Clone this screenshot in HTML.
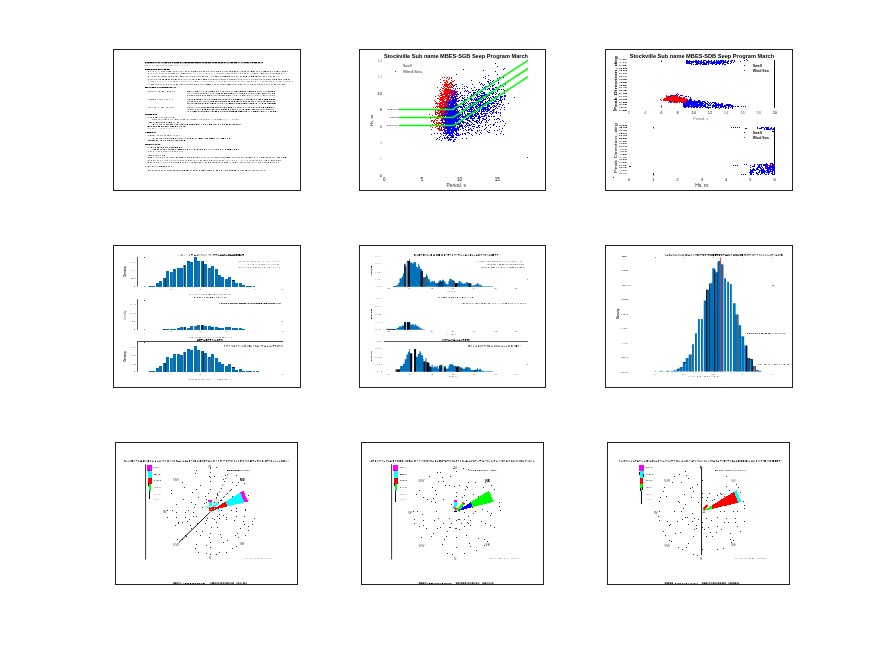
<!DOCTYPE html>
<html><head><meta charset="utf-8"><title>figure</title>
<style>html,body{margin:0;padding:0;background:#fff;}svg{display:block;will-change:transform;}text{font-family:"Liberation Sans",sans-serif;}</style>
</head><body>
<svg width="875" height="656" viewBox="0 0 875 656">
<rect width="875" height="656" fill="#fff"/>
<rect x="113.5" y="49.5" width="187" height="141" fill="none" stroke="#222" stroke-width="1" shape-rendering="crispEdges"/>
<rect x="359.5" y="49.5" width="186" height="141" fill="none" stroke="#222" stroke-width="1" shape-rendering="crispEdges"/>
<rect x="605.5" y="49.5" width="187" height="141" fill="none" stroke="#222" stroke-width="1" shape-rendering="crispEdges"/>
<rect x="113.5" y="245.5" width="187" height="142" fill="none" stroke="#222" stroke-width="1" shape-rendering="crispEdges"/>
<rect x="359.5" y="245.5" width="186" height="142" fill="none" stroke="#222" stroke-width="1" shape-rendering="crispEdges"/>
<rect x="605.5" y="245.5" width="187" height="142" fill="none" stroke="#222" stroke-width="1" shape-rendering="crispEdges"/>
<rect x="115.5" y="442.5" width="182" height="142" fill="none" stroke="#222" stroke-width="1" shape-rendering="crispEdges"/>
<rect x="361.5" y="442.5" width="182" height="142" fill="none" stroke="#222" stroke-width="1" shape-rendering="crispEdges"/>
<rect x="607.5" y="442.5" width="182" height="142" fill="none" stroke="#222" stroke-width="1" shape-rendering="crispEdges"/>
<path d="M145.0 62.7h1.5M147.2 62.7h1.8M149.4 62.7h2.7M152.4 62.7h1.3M164.6 62.7h2.4M176.2 62.7h3.1M179.9 62.7h1.6M184.3 62.7h2.8M187.6 62.7h3.1M191.1 62.7h2.6M194.4 62.7h2.4M197.0 62.7h1.8M199.2 62.7h1.6M204.6 62.7h2.4M207.5 62.7h2.1M209.8 62.7h1.3M214.8 62.7h2.4M217.8 62.7h2.4M220.6 62.7h2.4M230.3 62.7h3.1M234.1 62.7h3.1M246.3 62.7h2.4M251.9 62.7h1.6M254.2 62.7h3.0M258.0 62.7h1.8" stroke="#000" stroke-opacity="1.0" stroke-width="1.3" fill="none"/>
<path d="M154.1 62.7h3.0M161.2 62.7h3.3M226.3 62.7h3.4M237.7 62.7h2.2M240.6 62.7h2.5M249.3 62.7h2.3M260.4 62.7h1.4" stroke="#000" stroke-opacity="0.6" stroke-width="1.3" fill="none"/>
<path d="M157.5 62.7h2.9M167.5 62.7h1.7M169.4 62.7h1.7M171.6 62.7h1.7M173.7 62.7h2.3M182.2 62.7h1.5M201.4 62.7h2.8M211.9 62.7h2.6M223.5 62.7h2.3M243.6 62.7h2.3M262.0 62.7h1.0" stroke="#000" stroke-opacity="0.8" stroke-width="1.3" fill="none"/>
<path d="M145.0 65.5h1.8M147.3 65.5h0.6M156.3 65.5h1.9M162.2 65.5h1.0M170.6 65.5h1.8M176.9 65.5h1.0M187.1 65.5h0.9" stroke="#000" stroke-opacity="0.4" stroke-width="1.0" fill="none"/>
<path d="M149.3 65.5h1.4M151.9 65.5h1.3M153.9 65.5h1.1M159.3 65.5h1.1M160.9 65.5h0.5M164.3 65.5h1.3M166.1 65.5h1.0M168.1 65.5h1.9M173.7 65.5h1.8M179.6 65.5h0.7M181.6 65.5h1.1M183.8 65.5h1.8" stroke="#000" stroke-opacity="0.2" stroke-width="1.0" fill="none"/>
<path d="M145.0 69.5h1.5M146.9 69.5h2.2M149.3 69.5h1.0M150.7 69.5h1.5M155.8 69.5h1.3M157.7 69.5h2.0M160.3 69.5h1.1M164.1 69.5h1.9M166.7 69.5h2.4" stroke="#000" stroke-opacity="1.0" stroke-width="1.1" fill="none"/>
<path d="M152.6 69.5h2.7M169.5 69.5h0.5" stroke="#000" stroke-opacity="0.8" stroke-width="1.1" fill="none"/>
<path d="M161.9 69.5h1.6" stroke="#000" stroke-opacity="0.6" stroke-width="1.1" fill="none"/>
<path d="M147.8 71.5h1.3M152.5 71.5h1.4M155.0 71.5h1.0M161.0 71.5h1.3M165.9 71.5h1.4M172.9 71.5h1.8M175.6 71.5h1.8M178.5 71.5h1.1M180.7 71.5h1.7M188.0 71.5h1.7M192.4 71.5h1.6M197.2 71.5h1.1M199.0 71.5h1.4M200.9 71.5h1.1M206.0 71.5h1.0M207.4 71.5h1.5M209.7 71.5h0.6M222.2 71.5h1.2M224.4 71.5h1.9M227.6 71.5h0.6M239.7 71.5h0.7M247.4 71.5h1.8M256.1 71.5h1.9M261.6 71.5h0.8M262.9 71.5h0.8M271.9 71.5h0.9M274.0 71.5h1.4M279.5 71.5h0.6M280.6 71.5h0.6M287.1 71.5h0.9" stroke="#000" stroke-opacity="0.4" stroke-width="1.0" fill="none"/>
<path d="M150.3 71.5h0.8M163.1 71.5h1.4M185.2 71.5h1.6M190.8 71.5h1.0M203.3 71.5h1.6M213.8 71.5h0.8M216.2 71.5h1.2M217.9 71.5h1.2M220.0 71.5h1.1M226.7 71.5h0.5M229.3 71.5h1.9M232.1 71.5h1.1M237.1 71.5h1.1M241.7 71.5h1.5M244.3 71.5h1.7M252.7 71.5h1.8M259.3 71.5h0.7M267.1 71.5h1.5M269.7 71.5h1.1M282.2 71.5h1.6M284.5 71.5h1.5" stroke="#000" stroke-opacity="0.6" stroke-width="1.0" fill="none"/>
<path d="M157.6 71.5h1.9M171.8 71.5h0.6M183.1 71.5h1.1" stroke="#000" stroke-opacity="0.2" stroke-width="1.0" fill="none"/>
<path d="M168.7 71.5h1.9M194.6 71.5h1.6M211.5 71.5h1.0M234.2 71.5h1.5M250.8 71.5h1.5M264.2 71.5h1.9M276.6 71.5h1.7" stroke="#000" stroke-opacity="0.8" stroke-width="1.0" fill="none"/>
<path d="M147.8 73.5h1.1M150.5 73.5h1.2M152.9 73.5h0.8M157.2 73.5h0.6M161.4 73.5h1.4M163.4 73.5h0.5M165.6 73.5h1.1M168.2 73.5h1.2M170.5 73.5h1.4M176.1 73.5h1.5M186.6 73.5h1.9M189.0 73.5h1.4M191.1 73.5h0.6M197.7 73.5h0.7M199.5 73.5h0.8M205.6 73.5h1.6M208.8 73.5h0.8M216.4 73.5h1.0M217.8 73.5h0.6M219.2 73.5h1.3M221.5 73.5h1.8M226.8 73.5h1.8M229.3 73.5h0.8M234.0 73.5h1.3M240.1 73.5h1.3M256.5 73.5h1.5M262.6 73.5h1.4M266.7 73.5h1.3M269.6 73.5h1.5M272.5 73.5h1.8M281.1 73.5h1.4" stroke="#000" stroke-opacity="0.4" stroke-width="1.0" fill="none"/>
<path d="M154.8 73.5h1.6M164.4 73.5h0.8M178.3 73.5h0.9M193.4 73.5h1.6M195.7 73.5h0.6M200.8 73.5h1.4M203.1 73.5h0.8M211.1 73.5h1.4M214.2 73.5h0.8M224.5 73.5h1.7M237.2 73.5h1.5M242.1 73.5h1.5M248.3 73.5h0.5M249.8 73.5h0.6M251.3 73.5h1.3M258.5 73.5h0.5M283.6 73.5h1.4" stroke="#000" stroke-opacity="0.2" stroke-width="1.0" fill="none"/>
<path d="M159.2 73.5h0.6M172.7 73.5h1.9M180.6 73.5h1.1M182.6 73.5h1.8M184.8 73.5h0.8M231.7 73.5h0.8M235.9 73.5h0.6M244.3 73.5h1.3M246.8 73.5h0.9M253.5 73.5h1.7M260.6 73.5h1.5M265.3 73.5h0.9M275.6 73.5h1.8M278.3 73.5h1.6" stroke="#000" stroke-opacity="0.6" stroke-width="1.0" fill="none"/>
<path d="M147.8 76.5h1.2M151.8 76.5h0.9M154.0 76.5h1.3M161.1 76.5h0.6M162.6 76.5h1.1M169.2 76.5h0.9M175.5 76.5h1.3M177.7 76.5h0.5M179.9 76.5h1.9M182.6 76.5h1.0M186.4 76.5h1.2M188.7 76.5h0.5M192.4 76.5h1.0M202.1 76.5h1.8M207.2 76.5h0.8M212.9 76.5h0.6M215.1 76.5h1.9M217.4 76.5h1.0M222.4 76.5h1.2M228.4 76.5h1.8M233.8 76.5h0.9M240.1 76.5h1.3M242.9 76.5h1.8M250.7 76.5h1.5M263.1 76.5h1.5M265.8 76.5h0.7M269.8 76.5h1.0M273.2 76.5h1.6" stroke="#000" stroke-opacity="0.6" stroke-width="1.0" fill="none"/>
<path d="M150.2 76.5h0.7M276.4 76.5h1.0" stroke="#000" stroke-opacity="0.2" stroke-width="1.0" fill="none"/>
<path d="M156.6 76.5h0.7M157.9 76.5h1.8M168.0 76.5h0.7M170.8 76.5h1.5M172.9 76.5h1.6M184.9 76.5h0.7M190.2 76.5h1.2M194.0 76.5h1.3M196.5 76.5h0.6M197.9 76.5h1.4M200.3 76.5h0.8M209.6 76.5h0.5M211.5 76.5h1.0M219.9 76.5h1.4M231.5 76.5h1.5M237.5 76.5h0.8M248.5 76.5h1.3M258.4 76.5h1.6M260.5 76.5h1.0M267.8 76.5h1.1M271.3 76.5h0.6M278.5 76.5h1.1" stroke="#000" stroke-opacity="0.4" stroke-width="1.0" fill="none"/>
<path d="M164.1 76.5h0.6M165.7 76.5h0.6M205.6 76.5h0.7M224.3 76.5h1.8M226.7 76.5h0.9M235.9 76.5h0.7M245.7 76.5h1.3M252.6 76.5h1.5M255.5 76.5h1.8" stroke="#000" stroke-opacity="0.8" stroke-width="1.0" fill="none"/>
<path d="M147.8 79.5h0.9M154.4 79.5h0.7M155.8 79.5h0.9M168.0 79.5h1.7M171.1 79.5h1.3M178.2 79.5h1.5M181.0 79.5h0.7M184.5 79.5h0.9M192.4 79.5h1.8M200.8 79.5h0.7M205.5 79.5h1.7M213.1 79.5h1.3M217.6 79.5h0.7M220.9 79.5h1.3M227.4 79.5h0.6M233.7 79.5h1.2M235.7 79.5h0.5M251.7 79.5h0.8M260.8 79.5h1.0M267.8 79.5h1.8M272.1 79.5h0.7M275.4 79.5h1.5M280.7 79.5h1.3" stroke="#000" stroke-opacity="0.6" stroke-width="1.0" fill="none"/>
<path d="M150.0 79.5h1.7M152.3 79.5h0.7M158.2 79.5h1.4M173.2 79.5h1.1M182.7 79.5h0.7M186.6 79.5h1.1M188.7 79.5h0.8M190.2 79.5h1.0M195.6 79.5h1.8M210.4 79.5h1.5M215.3 79.5h1.5M218.9 79.5h0.8M222.7 79.5h1.1M225.3 79.5h0.9M228.9 79.5h1.7M237.8 79.5h1.5M240.6 79.5h1.7M243.5 79.5h1.0M245.2 79.5h0.8M246.5 79.5h1.1M248.9 79.5h1.3M253.5 79.5h1.0M256.7 79.5h1.7M259.2 79.5h1.0M263.3 79.5h1.9M270.1 79.5h0.5M283.5 79.5h1.8M289.9 79.5h0.6" stroke="#000" stroke-opacity="0.4" stroke-width="1.0" fill="none"/>
<path d="M160.3 79.5h0.7M162.4 79.5h1.6M165.4 79.5h1.8M174.9 79.5h1.6M198.0 79.5h1.6M203.1 79.5h1.7M208.5 79.5h0.7M224.3 79.5h0.5M231.4 79.5h1.2M255.5 79.5h0.7M266.3 79.5h0.7M273.7 79.5h1.0M278.5 79.5h1.2M285.8 79.5h1.2M288.2 79.5h0.9" stroke="#000" stroke-opacity="0.8" stroke-width="1.0" fill="none"/>
<path d="M147.8 81.5h0.6M152.2 81.5h1.5M168.5 81.5h0.8M173.3 81.5h1.7M175.5 81.5h1.3M177.5 81.5h0.6M185.2 81.5h0.5M194.7 81.5h1.7M196.9 81.5h0.7M198.7 81.5h0.5M205.7 81.5h0.8M208.8 81.5h0.9M210.9 81.5h0.9M221.7 81.5h1.0M223.9 81.5h1.8M232.6 81.5h0.9M234.7 81.5h0.8M238.1 81.5h0.8M241.4 81.5h1.0M246.9 81.5h0.7M248.3 81.5h1.4M250.6 81.5h1.8M254.8 81.5h1.2M257.5 81.5h0.6M262.5 81.5h1.1M265.1 81.5h1.7M269.4 81.5h1.0M270.9 81.5h1.1M276.0 81.5h0.8M278.0 81.5h0.5M279.2 81.5h1.9M285.4 81.5h1.0M286.8 81.5h0.7M288.9 81.5h1.5" stroke="#000" stroke-opacity="0.4" stroke-width="1.0" fill="none"/>
<path d="M149.7 81.5h1.8M154.6 81.5h1.5M157.4 81.5h0.7M159.7 81.5h1.0M162.1 81.5h1.4M164.6 81.5h1.4M167.3 81.5h0.7M170.2 81.5h1.9M179.2 81.5h0.8M180.6 81.5h1.6M182.8 81.5h1.6M186.3 81.5h1.2M188.6 81.5h1.5M191.0 81.5h1.2M193.4 81.5h0.6M200.9 81.5h1.1M203.1 81.5h1.8M207.5 81.5h0.9M212.7 81.5h0.9M214.1 81.5h0.8M216.4 81.5h0.9M218.5 81.5h1.8M226.7 81.5h1.7M229.3 81.5h1.8M236.6 81.5h1.0M239.4 81.5h0.9M243.2 81.5h1.0M244.7 81.5h0.8M253.5 81.5h0.6M259.7 81.5h1.3M267.3 81.5h1.6M273.0 81.5h1.2M282.7 81.5h1.7M291.5 81.5h1.7" stroke="#000" stroke-opacity="0.2" stroke-width="1.0" fill="none"/>
<path d="M147.8 84.5h1.9M219.2 84.5h0.6" stroke="#000" stroke-opacity="0.2" stroke-width="1.0" fill="none"/>
<path d="M151.0 84.5h0.7M198.3 84.5h0.6M207.2 84.5h1.8M227.8 84.5h1.8" stroke="#000" stroke-opacity="0.8" stroke-width="1.0" fill="none"/>
<path d="M152.2 84.5h1.7M160.4 84.5h0.8M170.4 84.5h1.0M175.9 84.5h1.9M180.6 84.5h1.8M183.7 84.5h0.9M187.3 84.5h1.2M189.6 84.5h1.1M193.8 84.5h0.9M202.5 84.5h1.0M209.5 84.5h1.2M214.4 84.5h1.3M217.1 84.5h1.3M222.9 84.5h1.4M225.5 84.5h0.9M240.0 84.5h1.3M251.7 84.5h1.5M257.5 84.5h0.5M258.6 84.5h1.4M261.3 84.5h1.3M274.0 84.5h1.9M281.9 84.5h1.5" stroke="#000" stroke-opacity="0.6" stroke-width="1.0" fill="none"/>
<path d="M155.4 84.5h1.9M158.1 84.5h1.5M162.7 84.5h1.6M165.9 84.5h1.2M168.2 84.5h1.1M173.0 84.5h1.4M179.4 84.5h0.5M186.2 84.5h0.6M191.3 84.5h1.8M195.5 84.5h1.8M200.3 84.5h1.2M205.2 84.5h1.5M212.4 84.5h0.6M220.7 84.5h1.4M230.0 84.5h1.4M232.4 84.5h1.2M234.3 84.5h1.9M237.8 84.5h1.5M242.2 84.5h0.6M244.3 84.5h1.5M247.3 84.5h1.3M250.2 84.5h0.7M254.3 84.5h1.8M264.0 84.5h1.0M266.1 84.5h1.2M268.4 84.5h1.2M270.9 84.5h1.6M276.8 84.5h0.9M278.5 84.5h1.9M283.9 84.5h1.4" stroke="#000" stroke-opacity="0.4" stroke-width="1.0" fill="none"/>
<path d="M145.0 87.5h2.8M151.7 87.5h2.8M164.4 87.5h2.3M167.1 87.5h1.2M170.2 87.5h1.6" stroke="#000" stroke-opacity="1.0" stroke-width="1.1" fill="none"/>
<path d="M148.4 87.5h2.8M158.9 87.5h1.9M168.5 87.5h1.2M173.9 87.5h2.1" stroke="#000" stroke-opacity="0.6" stroke-width="1.1" fill="none"/>
<path d="M155.0 87.5h1.3M157.1 87.5h1.2M161.2 87.5h2.8" stroke="#000" stroke-opacity="0.8" stroke-width="1.1" fill="none"/>
<path d="M172.1 87.5h1.2" stroke="#000" stroke-opacity="0.4" stroke-width="1.1" fill="none"/>
<path d="M147.8 91.5h1.3M149.5 91.5h1.4M172.5 91.5h0.7" stroke="#000" stroke-opacity="0.4" stroke-width="1.0" fill="none"/>
<path d="M151.6 91.5h1.1M154.4 91.5h1.1M158.7 91.5h1.7M161.9 91.5h1.9M166.9 91.5h1.4M169.5 91.5h1.4M174.0 91.5h0.7" stroke="#000" stroke-opacity="0.6" stroke-width="1.0" fill="none"/>
<path d="M157.2 91.5h0.8M164.9 91.5h0.6" stroke="#000" stroke-opacity="0.2" stroke-width="1.0" fill="none"/>
<path d="M187.3 91.5h1.1M194.9 91.5h0.7M209.6 91.5h0.9M211.3 91.5h1.9M235.3 91.5h1.8M239.9 91.5h1.8M242.3 91.5h1.0M243.7 91.5h0.8M250.9 91.5h0.7M256.9 91.5h0.6M271.5 91.5h1.5" stroke="#000" stroke-opacity="0.8" stroke-width="1.0" fill="none"/>
<path d="M188.8 91.5h0.9M196.5 91.5h1.1M248.9 91.5h1.6M269.3 91.5h0.5" stroke="#000" stroke-opacity="1.0" stroke-width="1.0" fill="none"/>
<path d="M190.7 91.5h0.7M200.8 91.5h0.7M205.5 91.5h1.7M215.8 91.5h1.4M222.5 91.5h1.8M225.6 91.5h0.9M229.3 91.5h0.7M245.0 91.5h1.1M252.3 91.5h1.6M254.6 91.5h1.4M258.4 91.5h0.9M267.7 91.5h1.3M270.4 91.5h0.8M273.7 91.5h1.3" stroke="#000" stroke-opacity="0.6" stroke-width="1.0" fill="none"/>
<path d="M192.6 91.5h1.1M198.2 91.5h1.3M202.6 91.5h1.7M208.3 91.5h0.8M213.8 91.5h1.1M217.6 91.5h1.4M220.1 91.5h1.1M227.3 91.5h1.6M231.2 91.5h1.5M233.7 91.5h0.8M237.8 91.5h1.6M246.9 91.5h0.9M260.2 91.5h1.8M263.2 91.5h1.3M265.2 91.5h1.5" stroke="#000" stroke-opacity="0.4" stroke-width="1.0" fill="none"/>
<path d="M187.3 93.5h1.2M191.6 93.5h0.6M193.2 93.5h0.6M194.9 93.5h1.9M197.3 93.5h1.9M208.0 93.5h0.8M210.1 93.5h1.5M214.4 93.5h0.9M233.4 93.5h1.6M236.1 93.5h0.6M237.4 93.5h0.8M239.1 93.5h1.9M249.7 93.5h0.5M255.2 93.5h0.7M256.4 93.5h0.6M259.5 93.5h1.2M266.2 93.5h0.8M268.0 93.5h1.7M272.0 93.5h1.2" stroke="#000" stroke-opacity="0.4" stroke-width="1.0" fill="none"/>
<path d="M189.5 93.5h0.8M200.1 93.5h1.4M202.7 93.5h1.8M205.7 93.5h1.6M212.8 93.5h0.9M216.2 93.5h1.1M220.9 93.5h1.9M226.1 93.5h1.3M227.8 93.5h1.0M229.2 93.5h0.5M241.6 93.5h1.8M246.0 93.5h1.1M248.2 93.5h0.5M250.8 93.5h1.4M253.1 93.5h0.9M261.9 93.5h1.9M264.2 93.5h1.2M270.3 93.5h0.6" stroke="#000" stroke-opacity="0.6" stroke-width="1.0" fill="none"/>
<path d="M218.3 93.5h1.6M224.0 93.5h1.6M230.4 93.5h1.9M244.1 93.5h1.1M257.6 93.5h1.5M273.7 93.5h1.3" stroke="#000" stroke-opacity="0.8" stroke-width="1.0" fill="none"/>
<path d="M187.3 95.5h0.9M191.1 95.5h1.8M196.2 95.5h0.8M199.6 95.5h1.4M201.9 95.5h1.3M207.0 95.5h0.9M208.3 95.5h1.8M214.7 95.5h1.0M216.7 95.5h0.5M219.1 95.5h1.3M221.5 95.5h1.3M223.2 95.5h1.5M226.0 95.5h1.2M227.9 95.5h1.1M234.2 95.5h0.5M235.9 95.5h1.3M241.9 95.5h1.6M243.8 95.5h1.0M245.9 95.5h0.5M247.3 95.5h1.0M262.7 95.5h1.3M264.6 95.5h0.8M272.3 95.5h1.1M274.3 95.5h0.6" stroke="#000" stroke-opacity="0.6" stroke-width="1.0" fill="none"/>
<path d="M188.8 95.5h1.6M194.1 95.5h1.4M197.4 95.5h1.6M204.1 95.5h0.7M205.1 95.5h1.3M210.6 95.5h1.7M213.2 95.5h0.7M217.7 95.5h0.7M229.5 95.5h1.7M239.8 95.5h1.1M248.9 95.5h0.8M250.7 95.5h0.7M254.7 95.5h1.2M256.6 95.5h1.5M266.5 95.5h1.1M268.5 95.5h0.5M269.8 95.5h1.6" stroke="#000" stroke-opacity="0.4" stroke-width="1.0" fill="none"/>
<path d="M232.1 95.5h1.3M238.3 95.5h0.8M252.0 95.5h1.6M258.5 95.5h0.7M260.1 95.5h1.5" stroke="#000" stroke-opacity="0.2" stroke-width="1.0" fill="none"/>
<path d="M147.8 99.5h0.5M149.2 99.5h1.5M154.8 99.5h1.2M159.3 99.5h1.8M161.7 99.5h1.0M164.3 99.5h0.8M169.1 99.5h1.0" stroke="#000" stroke-opacity="0.4" stroke-width="1.0" fill="none"/>
<path d="M151.2 99.5h0.8M152.6 99.5h1.5M166.3 99.5h1.3" stroke="#000" stroke-opacity="0.6" stroke-width="1.0" fill="none"/>
<path d="M156.9 99.5h1.9M171.5 99.5h1.9" stroke="#000" stroke-opacity="0.2" stroke-width="1.0" fill="none"/>
<path d="M187.3 99.5h1.0M201.4 99.5h1.6M204.2 99.5h1.7M206.9 99.5h1.5M211.1 99.5h1.9M221.5 99.5h0.5M227.6 99.5h1.0M230.7 99.5h1.6M243.9 99.5h0.9M252.5 99.5h0.7M253.7 99.5h1.4M255.7 99.5h1.3" stroke="#000" stroke-opacity="0.4" stroke-width="1.0" fill="none"/>
<path d="M188.8 99.5h1.8M191.6 99.5h1.3M196.2 99.5h1.7M219.4 99.5h1.4M222.8 99.5h1.5M241.6 99.5h1.1M247.4 99.5h1.8M261.9 99.5h1.3" stroke="#000" stroke-opacity="0.6" stroke-width="1.0" fill="none"/>
<path d="M193.9 99.5h1.3M198.4 99.5h0.7M199.6 99.5h1.4M209.4 99.5h0.7M213.6 99.5h1.4M215.5 99.5h1.7M217.9 99.5h0.7M225.4 99.5h1.3M229.0 99.5h0.6M233.3 99.5h0.7M234.9 99.5h1.5M239.5 99.5h1.1M245.8 99.5h0.9M250.4 99.5h1.6M257.7 99.5h0.8M259.0 99.5h1.9M264.4 99.5h1.8M268.8 99.5h1.2M270.6 99.5h1.5M272.5 99.5h1.2" stroke="#000" stroke-opacity="0.8" stroke-width="1.0" fill="none"/>
<path d="M237.2 99.5h1.7M266.6 99.5h1.3M274.4 99.5h0.6" stroke="#000" stroke-opacity="1.0" stroke-width="1.0" fill="none"/>
<path d="M187.3 101.5h0.8M191.2 101.5h1.8M194.2 101.5h1.5M196.7 101.5h1.3M219.3 101.5h0.5M221.8 101.5h1.8M224.1 101.5h1.0M225.5 101.5h1.6M231.3 101.5h1.8M240.5 101.5h1.3M245.9 101.5h1.2M248.0 101.5h1.9M251.0 101.5h0.9M252.4 101.5h1.4M254.9 101.5h0.7M256.8 101.5h0.5M258.3 101.5h1.5M271.4 101.5h0.9M273.3 101.5h1.5" stroke="#000" stroke-opacity="0.6" stroke-width="1.0" fill="none"/>
<path d="M188.6 101.5h1.6M201.5 101.5h0.5M202.9 101.5h1.6M207.7 101.5h1.6M238.5 101.5h1.1M260.7 101.5h1.8" stroke="#000" stroke-opacity="0.4" stroke-width="1.0" fill="none"/>
<path d="M199.3 101.5h1.1M205.5 101.5h1.0M210.4 101.5h1.1M212.3 101.5h1.8M215.2 101.5h1.7M217.7 101.5h0.7M220.5 101.5h0.8M228.4 101.5h1.7M234.0 101.5h1.2M236.5 101.5h1.7M243.0 101.5h0.8M244.7 101.5h0.8M263.6 101.5h1.4M265.8 101.5h0.5M266.9 101.5h1.6M269.6 101.5h1.1" stroke="#000" stroke-opacity="0.8" stroke-width="1.0" fill="none"/>
<path d="M187.3 103.5h1.2M195.4 103.5h1.8M204.9 103.5h1.4M207.2 103.5h0.8M215.2 103.5h0.8M220.0 103.5h0.6M238.3 103.5h1.7M246.3 103.5h0.6M252.5 103.5h1.6M262.2 103.5h1.1M264.4 103.5h1.7M269.0 103.5h1.7M271.6 103.5h1.9" stroke="#000" stroke-opacity="0.8" stroke-width="1.0" fill="none"/>
<path d="M189.6 103.5h0.9M191.6 103.5h1.2M198.1 103.5h1.0M199.6 103.5h1.5M201.7 103.5h1.9M214.2 103.5h0.7M217.0 103.5h0.5M221.7 103.5h1.4M236.2 103.5h1.5M240.7 103.5h1.2M242.5 103.5h0.6M249.2 103.5h0.6M256.0 103.5h1.2M267.4 103.5h1.2" stroke="#000" stroke-opacity="0.6" stroke-width="1.0" fill="none"/>
<path d="M193.5 103.5h1.0M208.5 103.5h1.1M210.0 103.5h1.0M218.3 103.5h1.1M224.3 103.5h1.0M226.0 103.5h1.8M233.6 103.5h1.6M247.4 103.5h1.0M254.9 103.5h0.6M258.4 103.5h0.8M260.2 103.5h1.3" stroke="#000" stroke-opacity="0.4" stroke-width="1.0" fill="none"/>
<path d="M211.7 103.5h1.7M228.9 103.5h1.8M231.5 103.5h1.1M243.6 103.5h1.8M250.4 103.5h1.2M274.1 103.5h1.5" stroke="#000" stroke-opacity="1.0" stroke-width="1.0" fill="none"/>
<path d="M147.8 107.5h0.6M149.2 107.5h1.8M152.3 107.5h0.6M166.3 107.5h1.9M169.8 107.5h1.0M171.6 107.5h1.8" stroke="#000" stroke-opacity="0.4" stroke-width="1.0" fill="none"/>
<path d="M154.4 107.5h1.2M161.6 107.5h1.7" stroke="#000" stroke-opacity="0.6" stroke-width="1.0" fill="none"/>
<path d="M157.2 107.5h1.0M159.6 107.5h0.7M165.0 107.5h0.8M168.8 107.5h0.5" stroke="#000" stroke-opacity="0.2" stroke-width="1.0" fill="none"/>
<path d="M187.3 107.5h1.4M191.1 107.5h1.7M193.6 107.5h0.5M195.0 107.5h0.5M196.5 107.5h1.3M198.7 107.5h1.6M218.2 107.5h0.8M225.7 107.5h1.5M233.3 107.5h0.8M234.7 107.5h0.9M241.4 107.5h0.9M245.2 107.5h1.1M247.6 107.5h1.2M250.9 107.5h1.1M255.9 107.5h1.7M260.7 107.5h1.4M273.5 107.5h1.2" stroke="#000" stroke-opacity="0.4" stroke-width="1.0" fill="none"/>
<path d="M189.3 107.5h0.8M205.7 107.5h0.6M207.2 107.5h1.6M212.4 107.5h1.7M215.3 107.5h1.3M223.8 107.5h1.4M227.9 107.5h1.9M230.7 107.5h1.5M239.5 107.5h1.1M249.2 107.5h0.7M266.6 107.5h1.8M269.0 107.5h1.4" stroke="#000" stroke-opacity="0.8" stroke-width="1.0" fill="none"/>
<path d="M201.4 107.5h1.5M203.4 107.5h1.8M209.7 107.5h1.9M217.0 107.5h0.8M219.7 107.5h1.4M221.8 107.5h0.8M236.8 107.5h1.7M243.1 107.5h0.9M252.7 107.5h1.9M258.6 107.5h1.5M265.2 107.5h0.9M270.9 107.5h1.6" stroke="#000" stroke-opacity="0.6" stroke-width="1.0" fill="none"/>
<path d="M262.9 107.5h1.1" stroke="#000" stroke-opacity="1.0" stroke-width="1.0" fill="none"/>
<path d="M187.3 109.5h1.9M192.1 109.5h1.8M195.2 109.5h1.1M197.0 109.5h1.4M199.1 109.5h0.5M200.1 109.5h0.8M210.8 109.5h0.8M214.5 109.5h1.1M218.2 109.5h0.7M234.6 109.5h1.4M238.9 109.5h1.0M240.3 109.5h1.2M249.9 109.5h0.8M257.2 109.5h1.7M259.4 109.5h1.1M261.1 109.5h1.5M263.1 109.5h1.8M272.4 109.5h1.8" stroke="#000" stroke-opacity="0.4" stroke-width="1.0" fill="none"/>
<path d="M190.2 109.5h1.2M202.0 109.5h1.1M204.3 109.5h1.8M206.9 109.5h1.4M212.1 109.5h1.5M222.9 109.5h1.5M224.9 109.5h1.8M227.9 109.5h1.1M232.2 109.5h1.6M237.0 109.5h0.7M246.0 109.5h1.3M247.8 109.5h1.5M251.9 109.5h0.6M253.1 109.5h1.6M268.4 109.5h1.3" stroke="#000" stroke-opacity="0.8" stroke-width="1.0" fill="none"/>
<path d="M209.2 109.5h0.7M216.0 109.5h1.4M219.4 109.5h0.7M220.8 109.5h1.3M230.2 109.5h0.8M242.6 109.5h1.4M244.9 109.5h0.7M255.8 109.5h0.8M266.0 109.5h1.5M270.7 109.5h0.9" stroke="#000" stroke-opacity="0.6" stroke-width="1.0" fill="none"/>
<path d="M187.3 111.5h1.8M200.3 111.5h0.7M209.8 111.5h0.9M213.4 111.5h0.8M247.7 111.5h0.7M250.9 111.5h0.9M258.4 111.5h1.2M266.5 111.5h0.5M268.1 111.5h1.0" stroke="#000" stroke-opacity="0.4" stroke-width="1.0" fill="none"/>
<path d="M190.4 111.5h0.8M192.4 111.5h1.0M196.3 111.5h0.7M197.8 111.5h1.6M203.6 111.5h1.8M207.9 111.5h0.9M220.1 111.5h1.0M222.1 111.5h1.0M223.8 111.5h1.7M226.9 111.5h1.4M238.1 111.5h1.7M242.6 111.5h1.0M249.4 111.5h0.6M263.1 111.5h1.0M270.1 111.5h1.9" stroke="#000" stroke-opacity="0.6" stroke-width="1.0" fill="none"/>
<path d="M193.9 111.5h1.8M206.1 111.5h1.1M215.0 111.5h1.8M232.3 111.5h1.9M235.4 111.5h1.8M240.2 111.5h1.8M254.9 111.5h1.2M256.9 111.5h0.9M275.0 111.5h1.2" stroke="#000" stroke-opacity="1.0" stroke-width="1.0" fill="none"/>
<path d="M201.4 111.5h1.3M211.8 111.5h1.3M217.9 111.5h1.0M225.9 111.5h0.5M229.2 111.5h1.0M230.6 111.5h1.1M244.7 111.5h0.7M245.8 111.5h1.1M252.9 111.5h1.5M260.8 111.5h1.5M264.9 111.5h0.5M272.9 111.5h1.3" stroke="#000" stroke-opacity="0.8" stroke-width="1.0" fill="none"/>
<path d="M145.0 114.5h2.8M152.6 114.5h1.8M154.8 114.5h1.1" stroke="#000" stroke-opacity="0.8" stroke-width="1.2" fill="none"/>
<path d="M148.2 114.5h1.3M149.7 114.5h2.3M156.2 114.5h0.8" stroke="#000" stroke-opacity="1.0" stroke-width="1.2" fill="none"/>
<path d="M147.8 117.5h0.9M152.9 117.5h1.0" stroke="#000" stroke-opacity="0.6" stroke-width="1.0" fill="none"/>
<path d="M150.0 117.5h1.8M159.0 117.5h0.6M161.2 117.5h1.3M163.7 117.5h1.8M167.7 117.5h0.9M169.1 117.5h0.5M170.7 117.5h0.9M174.5 117.5h0.7" stroke="#000" stroke-opacity="0.4" stroke-width="1.0" fill="none"/>
<path d="M155.5 117.5h1.9M166.3 117.5h0.7M172.8 117.5h0.9" stroke="#000" stroke-opacity="0.8" stroke-width="1.0" fill="none"/>
<path d="M152.0 119.5h1.2M156.0 119.5h1.1M158.3 119.5h1.8M162.4 119.5h1.2M168.0 119.5h1.0M170.5 119.5h0.8M172.1 119.5h1.1M181.4 119.5h1.1M186.8 119.5h1.5M190.0 119.5h0.5M191.1 119.5h1.7M200.8 119.5h1.5M203.7 119.5h1.5M205.9 119.5h1.3M208.3 119.5h1.2M214.4 119.5h1.6M216.8 119.5h1.5M231.9 119.5h1.1M234.4 119.5h0.8M235.9 119.5h1.5" stroke="#000" stroke-opacity="0.4" stroke-width="1.0" fill="none"/>
<path d="M154.3 119.5h1.0M164.7 119.5h1.8M174.8 119.5h1.5M177.2 119.5h1.0M183.2 119.5h1.6M193.5 119.5h1.3M195.2 119.5h0.8M197.0 119.5h0.6M219.4 119.5h1.9M238.0 119.5h0.3" stroke="#000" stroke-opacity="0.6" stroke-width="1.0" fill="none"/>
<path d="M160.9 119.5h0.9M179.4 119.5h1.5M185.5 119.5h0.6M199.3 119.5h1.1M210.9 119.5h1.8M222.6 119.5h1.2M224.4 119.5h1.6M227.3 119.5h0.9M229.5 119.5h0.7" stroke="#000" stroke-opacity="0.2" stroke-width="1.0" fill="none"/>
<path d="M147.8 122.5h0.7M159.0 122.5h0.6M160.5 122.5h1.2M162.3 122.5h0.5M166.2 122.5h1.1M177.0 122.5h1.8" stroke="#000" stroke-opacity="0.6" stroke-width="1.0" fill="none"/>
<path d="M149.6 122.5h1.9M155.9 122.5h1.1M157.5 122.5h0.9M163.6 122.5h1.3M168.5 122.5h1.8" stroke="#000" stroke-opacity="0.8" stroke-width="1.0" fill="none"/>
<path d="M152.8 122.5h1.5M173.3 122.5h0.9M174.6 122.5h0.7" stroke="#000" stroke-opacity="0.4" stroke-width="1.0" fill="none"/>
<path d="M170.8 122.5h0.9" stroke="#000" stroke-opacity="1.0" stroke-width="1.0" fill="none"/>
<path d="M152.8 124.5h1.2M166.0 124.5h0.7M176.3 124.5h1.5M181.6 124.5h1.6M190.3 124.5h1.4M195.8 124.5h1.9M204.8 124.5h1.1M210.6 124.5h1.4M214.3 124.5h0.7M223.9 124.5h0.8M233.4 124.5h1.5M238.6 124.5h1.0" stroke="#000" stroke-opacity="0.8" stroke-width="1.0" fill="none"/>
<path d="M154.5 124.5h1.0M159.0 124.5h0.6M163.2 124.5h1.8M173.7 124.5h1.0M178.9 124.5h1.8M202.8 124.5h1.5M231.9 124.5h0.9" stroke="#000" stroke-opacity="0.4" stroke-width="1.0" fill="none"/>
<path d="M156.8 124.5h0.8M160.4 124.5h1.6M167.1 124.5h1.6M184.4 124.5h1.4M188.8 124.5h0.9M193.7 124.5h1.4M198.3 124.5h1.3M201.1 124.5h0.5M207.0 124.5h0.6M212.9 124.5h0.6M217.8 124.5h1.4M220.5 124.5h0.6M236.0 124.5h1.9M240.5 124.5h0.5" stroke="#000" stroke-opacity="0.6" stroke-width="1.0" fill="none"/>
<path d="M169.8 124.5h0.8M171.4 124.5h1.1M186.9 124.5h1.1M192.1 124.5h0.9M208.9 124.5h1.2M215.6 124.5h0.6M222.1 124.5h0.7M226.3 124.5h1.4M229.1 124.5h1.3" stroke="#000" stroke-opacity="1.0" stroke-width="1.0" fill="none"/>
<path d="M147.8 126.5h1.5M149.8 126.5h0.5M158.2 126.5h1.7M161.1 126.5h0.7M172.1 126.5h1.6M175.0 126.5h1.2" stroke="#000" stroke-opacity="1.0" stroke-width="1.0" fill="none"/>
<path d="M151.1 126.5h0.8M153.0 126.5h1.5M164.9 126.5h1.5M166.8 126.5h0.8M170.4 126.5h1.3M177.4 126.5h0.7M183.5 126.5h1.7" stroke="#000" stroke-opacity="0.8" stroke-width="1.0" fill="none"/>
<path d="M155.6 126.5h1.6M162.3 126.5h1.6M179.3 126.5h0.8M180.9 126.5h1.0" stroke="#000" stroke-opacity="0.6" stroke-width="1.0" fill="none"/>
<path d="M168.4 126.5h0.7" stroke="#000" stroke-opacity="0.4" stroke-width="1.0" fill="none"/>
<path d="M147.8 128.5h0.8M149.1 128.5h1.8M154.6 128.5h1.5M157.6 128.5h0.8M159.6 128.5h1.2M161.1 128.5h1.3M166.0 128.5h1.4M168.4 128.5h1.8M170.8 128.5h1.0M173.3 128.5h1.4M176.4 128.5h1.1M179.1 128.5h0.7M180.8 128.5h1.2" stroke="#000" stroke-opacity="0.2" stroke-width="1.0" fill="none"/>
<path d="M151.9 128.5h1.6M163.6 128.5h1.1" stroke="#000" stroke-opacity="0.4" stroke-width="1.0" fill="none"/>
<path d="M145.0 132.5h1.4M153.6 132.5h2.4" stroke="#000" stroke-opacity="0.6" stroke-width="1.1" fill="none"/>
<path d="M146.9 132.5h2.2M149.4 132.5h1.9" stroke="#000" stroke-opacity="1.0" stroke-width="1.1" fill="none"/>
<path d="M151.8 132.5h1.5" stroke="#000" stroke-opacity="0.8" stroke-width="1.1" fill="none"/>
<path d="M147.8 135.5h0.7M149.9 135.5h1.5M152.4 135.5h1.6M170.3 135.5h0.7" stroke="#000" stroke-opacity="0.6" stroke-width="1.0" fill="none"/>
<path d="M154.5 135.5h1.1" stroke="#000" stroke-opacity="0.2" stroke-width="1.0" fill="none"/>
<path d="M157.2 135.5h1.8M159.9 135.5h1.6M162.1 135.5h0.8M164.0 135.5h1.8M171.6 135.5h0.5M173.5 135.5h1.3M176.3 135.5h1.8" stroke="#000" stroke-opacity="0.4" stroke-width="1.0" fill="none"/>
<path d="M167.5 135.5h1.3M179.0 135.5h0.3" stroke="#000" stroke-opacity="0.8" stroke-width="1.0" fill="none"/>
<path d="M152.8 138.5h1.3M155.8 138.5h1.8M158.8 138.5h0.8M160.4 138.5h1.5M163.5 138.5h0.6M164.6 138.5h1.6M169.1 138.5h0.8M175.0 138.5h1.0M179.4 138.5h1.2M186.9 138.5h1.5M196.6 138.5h0.5M220.7 138.5h0.9" stroke="#000" stroke-opacity="0.6" stroke-width="1.0" fill="none"/>
<path d="M167.2 138.5h1.0M189.7 138.5h1.2M201.0 138.5h1.5M206.2 138.5h1.6M213.8 138.5h0.6M224.8 138.5h0.6M227.0 138.5h0.5M229.0 138.5h1.1" stroke="#000" stroke-opacity="0.8" stroke-width="1.0" fill="none"/>
<path d="M170.7 138.5h0.7M172.6 138.5h1.4M192.4 138.5h0.9M198.8 138.5h1.7M209.4 138.5h1.1M211.1 138.5h1.8M222.1 138.5h1.9" stroke="#000" stroke-opacity="1.0" stroke-width="1.0" fill="none"/>
<path d="M176.9 138.5h1.4M181.1 138.5h1.5M183.7 138.5h0.7M185.0 138.5h0.6M194.6 138.5h1.5M204.0 138.5h1.6M215.7 138.5h1.0M217.4 138.5h1.7" stroke="#000" stroke-opacity="0.4" stroke-width="1.0" fill="none"/>
<path d="M147.8 140.5h0.7M149.1 140.5h1.5M151.5 140.5h1.4M153.3 140.5h1.2M155.7 140.5h1.7M160.6 140.5h1.5M165.3 140.5h0.7M169.2 140.5h1.0M176.1 140.5h1.3M180.9 140.5h1.7" stroke="#000" stroke-opacity="0.8" stroke-width="1.0" fill="none"/>
<path d="M158.3 140.5h0.8M163.0 140.5h1.2M173.7 140.5h1.8" stroke="#000" stroke-opacity="0.4" stroke-width="1.0" fill="none"/>
<path d="M167.2 140.5h1.4M171.2 140.5h1.5M178.4 140.5h1.3" stroke="#000" stroke-opacity="0.6" stroke-width="1.0" fill="none"/>
<path d="M183.9 140.5h1.2" stroke="#000" stroke-opacity="1.0" stroke-width="1.0" fill="none"/>
<path d="M145.0 144.5h2.9M158.1 144.5h2.1" stroke="#000" stroke-opacity="0.8" stroke-width="1.2" fill="none"/>
<path d="M148.4 144.5h1.5" stroke="#000" stroke-opacity="1.0" stroke-width="1.2" fill="none"/>
<path d="M150.2 144.5h2.1M152.7 144.5h1.6M154.8 144.5h2.8" stroke="#000" stroke-opacity="0.6" stroke-width="1.2" fill="none"/>
<path d="M147.8 147.5h1.2" stroke="#000" stroke-opacity="0.4" stroke-width="1.0" fill="none"/>
<path d="M150.7 147.5h1.4M153.7 147.5h0.6M157.2 147.5h1.8M165.1 147.5h0.6M166.7 147.5h1.0M171.2 147.5h1.7M174.7 147.5h1.6M176.9 147.5h1.1M179.0 147.5h0.9" stroke="#000" stroke-opacity="0.8" stroke-width="1.0" fill="none"/>
<path d="M155.0 147.5h0.9M159.8 147.5h0.7M161.2 147.5h1.2M169.0 147.5h1.1M173.4 147.5h0.5M180.6 147.5h1.4" stroke="#000" stroke-opacity="0.6" stroke-width="1.0" fill="none"/>
<path d="M162.9 147.5h0.8" stroke="#000" stroke-opacity="1.0" stroke-width="1.0" fill="none"/>
<path d="M152.8 149.5h0.6M154.3 149.5h1.8M160.5 149.5h1.1M163.3 149.5h1.6M172.2 149.5h1.8M180.3 149.5h0.7M181.4 149.5h0.9M183.4 149.5h0.8M185.5 149.5h0.5M186.9 149.5h1.2M196.8 149.5h1.6M199.8 149.5h1.3M213.8 149.5h0.6M225.0 149.5h0.9M227.2 149.5h1.8M234.1 149.5h0.8M235.6 149.5h1.3M238.0 149.5h0.8" stroke="#000" stroke-opacity="0.8" stroke-width="1.0" fill="none"/>
<path d="M157.2 149.5h1.8M166.3 149.5h0.5M168.4 149.5h1.6M170.6 149.5h1.0M175.1 149.5h0.8M176.8 149.5h0.7M193.8 149.5h1.7M201.9 149.5h1.3M204.2 149.5h1.0M205.6 149.5h1.1M215.5 149.5h1.8M218.2 149.5h0.8M219.7 149.5h1.3" stroke="#000" stroke-opacity="0.6" stroke-width="1.0" fill="none"/>
<path d="M178.4 149.5h1.5M229.5 149.5h1.6" stroke="#000" stroke-opacity="1.0" stroke-width="1.0" fill="none"/>
<path d="M189.3 149.5h1.6M191.6 149.5h0.8M208.3 149.5h1.5M210.7 149.5h1.6M221.7 149.5h1.7M232.5 149.5h1.2" stroke="#000" stroke-opacity="0.4" stroke-width="1.0" fill="none"/>
<path d="M147.8 151.5h1.2M149.8 151.5h1.8M153.0 151.5h1.1M157.8 151.5h1.9M162.8 151.5h1.6M165.3 151.5h1.9M168.1 151.5h0.6M169.8 151.5h0.9M171.9 151.5h1.3M174.0 151.5h1.9M176.8 151.5h1.1M179.1 151.5h0.5M180.6 151.5h0.9M182.2 151.5h0.8" stroke="#000" stroke-opacity="0.4" stroke-width="1.0" fill="none"/>
<path d="M155.5 151.5h1.3M160.6 151.5h1.4" stroke="#000" stroke-opacity="0.2" stroke-width="1.0" fill="none"/>
<path d="M147.8 155.5h0.6M154.7 155.5h0.8M160.2 155.5h0.6" stroke="#000" stroke-opacity="0.4" stroke-width="1.0" fill="none"/>
<path d="M149.3 155.5h0.7M162.2 155.5h0.5" stroke="#000" stroke-opacity="1.0" stroke-width="1.0" fill="none"/>
<path d="M150.4 155.5h1.3M153.2 155.5h0.7M157.6 155.5h0.9" stroke="#000" stroke-opacity="0.6" stroke-width="1.0" fill="none"/>
<path d="M156.5 155.5h0.6M163.9 155.5h0.9" stroke="#000" stroke-opacity="0.8" stroke-width="1.0" fill="none"/>
<path d="M147.8 157.5h1.8M150.3 157.5h1.9M166.8 157.5h1.2M169.7 157.5h0.7M171.3 157.5h1.6M173.9 157.5h0.7M176.0 157.5h1.8M178.9 157.5h1.6M188.6 157.5h1.2M190.8 157.5h1.2M193.1 157.5h1.4M199.0 157.5h0.7M212.2 157.5h0.7M216.4 157.5h1.7M222.3 157.5h1.2M224.4 157.5h0.9M228.9 157.5h1.4M238.6 157.5h1.1M243.8 157.5h0.7M245.9 157.5h1.4M254.3 157.5h0.9M264.8 157.5h0.6M266.4 157.5h1.6M269.4 157.5h1.5M274.5 157.5h0.6" stroke="#000" stroke-opacity="0.6" stroke-width="1.0" fill="none"/>
<path d="M153.6 157.5h0.5M155.8 157.5h1.6M158.4 157.5h1.1M160.0 157.5h0.9M161.6 157.5h1.7M164.1 157.5h1.1M184.4 157.5h1.8M195.5 157.5h1.1M201.0 157.5h1.7M205.4 157.5h0.7M207.5 157.5h1.7M210.9 157.5h0.8M214.0 157.5h1.8M219.1 157.5h1.6M221.2 157.5h0.6M231.9 157.5h1.3M234.2 157.5h1.8M237.0 157.5h1.0M241.1 157.5h1.8M251.6 157.5h1.5M256.9 157.5h0.9M259.1 157.5h0.7M272.4 157.5h1.4M276.7 157.5h0.8M281.1 157.5h0.6" stroke="#000" stroke-opacity="0.4" stroke-width="1.0" fill="none"/>
<path d="M181.4 157.5h1.5M187.3 157.5h0.6M197.0 157.5h0.9M203.9 157.5h0.6M226.7 157.5h1.8M248.9 157.5h1.8M261.2 157.5h0.7M262.8 157.5h1.1M278.2 157.5h1.4M282.7 157.5h1.1M284.7 157.5h1.7" stroke="#000" stroke-opacity="0.8" stroke-width="1.0" fill="none"/>
<path d="M147.8 160.5h1.8M152.8 160.5h1.4M157.1 160.5h1.7M160.1 160.5h0.9M164.5 160.5h0.9M172.7 160.5h0.6M174.4 160.5h1.2M177.3 160.5h1.0M179.7 160.5h1.7M182.4 160.5h1.5M185.4 160.5h1.3M194.1 160.5h0.8M195.5 160.5h1.0M198.1 160.5h0.9M202.8 160.5h0.5M206.5 160.5h1.3M209.1 160.5h0.9M213.7 160.5h1.5M216.4 160.5h1.1M219.0 160.5h1.9M222.0 160.5h1.9M231.7 160.5h1.2M233.8 160.5h1.1M236.2 160.5h1.1M241.1 160.5h1.0M247.0 160.5h1.1M249.3 160.5h1.6M251.8 160.5h0.6M255.5 160.5h1.9M258.4 160.5h1.7M260.8 160.5h1.2M268.2 160.5h0.8M273.1 160.5h1.7M275.7 160.5h1.4M279.9 160.5h0.9" stroke="#000" stroke-opacity="0.4" stroke-width="1.0" fill="none"/>
<path d="M151.0 160.5h0.9M166.5 160.5h1.1M171.0 160.5h0.6M187.9 160.5h1.2M190.1 160.5h1.3M200.2 160.5h1.5M204.0 160.5h1.5M210.8 160.5h1.3M226.8 160.5h0.8M252.9 160.5h0.9M265.5 160.5h1.6M270.9 160.5h1.6M277.8 160.5h1.5" stroke="#000" stroke-opacity="0.6" stroke-width="1.0" fill="none"/>
<path d="M154.5 160.5h1.5M161.7 160.5h1.2M168.8 160.5h1.6M192.2 160.5h1.0M224.8 160.5h0.7M229.0 160.5h1.1M238.9 160.5h0.5M243.6 160.5h1.8M263.6 160.5h1.1M269.5 160.5h0.6" stroke="#000" stroke-opacity="0.2" stroke-width="1.0" fill="none"/>
<path d="M147.8 162.5h1.3M150.1 162.5h1.4M154.4 162.5h0.6M156.2 162.5h1.0M158.1 162.5h1.1M173.4 162.5h0.5M179.9 162.5h1.1M185.2 162.5h1.2M189.8 162.5h0.5M191.7 162.5h1.1M193.9 162.5h1.8M199.1 162.5h1.7M204.9 162.5h1.5M208.0 162.5h1.3M210.1 162.5h1.0M212.7 162.5h1.9M215.9 162.5h1.5M218.8 162.5h1.1M224.1 162.5h1.3M234.6 162.5h1.8M244.6 162.5h1.1M247.4 162.5h1.1M258.1 162.5h0.5M263.9 162.5h0.8M270.1 162.5h1.1M272.6 162.5h0.7M276.3 162.5h0.7" stroke="#000" stroke-opacity="0.6" stroke-width="1.0" fill="none"/>
<path d="M152.5 162.5h0.7M162.6 162.5h0.9M164.8 162.5h1.1M166.8 162.5h0.8M170.8 162.5h1.4M174.8 162.5h1.8M182.4 162.5h1.5M187.4 162.5h0.7M196.2 162.5h1.5M202.2 162.5h1.1M221.4 162.5h1.7M230.3 162.5h0.5M232.2 162.5h1.9M237.6 162.5h0.9M240.0 162.5h1.7M242.4 162.5h0.8M249.0 162.5h1.3M252.0 162.5h1.5M254.7 162.5h0.7M256.5 162.5h0.5M259.2 162.5h1.9M262.3 162.5h0.8M265.5 162.5h1.3M274.1 162.5h1.2M278.1 162.5h0.8" stroke="#000" stroke-opacity="0.4" stroke-width="1.0" fill="none"/>
<path d="M160.2 162.5h1.2M229.1 162.5h0.6" stroke="#000" stroke-opacity="0.2" stroke-width="1.0" fill="none"/>
<path d="M169.0 162.5h0.5M177.6 162.5h1.3M226.3 162.5h1.4M267.7 162.5h1.1" stroke="#000" stroke-opacity="0.8" stroke-width="1.0" fill="none"/>
<path d="M145.0 166.5h1.2M149.6 166.5h0.8M156.7 166.5h0.8M158.5 166.5h1.8M171.0 166.5h1.0" stroke="#000" stroke-opacity="0.4" stroke-width="1.0" fill="none"/>
<path d="M147.6 166.5h1.6M152.1 166.5h1.4M154.8 166.5h0.6M165.6 166.5h1.4M168.2 166.5h1.3" stroke="#000" stroke-opacity="0.6" stroke-width="1.0" fill="none"/>
<path d="M160.7 166.5h1.6M163.2 166.5h1.5" stroke="#000" stroke-opacity="0.8" stroke-width="1.0" fill="none"/>
<path d="M148.2 170.5h0.9M175.8 170.5h0.7M177.5 170.5h1.0M181.8 170.5h1.0M183.8 170.5h1.3M186.3 170.5h1.7M198.9 170.5h0.9M202.3 170.5h1.8M208.6 170.5h1.4M210.7 170.5h1.0M216.2 170.5h1.6M219.0 170.5h0.7M234.2 170.5h1.7M241.9 170.5h0.8M245.4 170.5h1.8" stroke="#000" stroke-opacity="0.8" stroke-width="1.0" fill="none"/>
<path d="M149.7 170.5h0.9M152.1 170.5h1.0M153.6 170.5h0.7M155.5 170.5h1.5M159.3 170.5h0.7M161.2 170.5h1.5M167.3 170.5h1.2M170.2 170.5h1.6M173.2 170.5h1.9M188.5 170.5h0.7M193.4 170.5h1.6M195.8 170.5h1.6M220.9 170.5h1.2M225.1 170.5h0.7M226.4 170.5h1.4M229.1 170.5h1.6M231.4 170.5h1.8M240.4 170.5h0.7M243.5 170.5h0.6M253.0 170.5h1.6M257.8 170.5h0.7" stroke="#000" stroke-opacity="0.6" stroke-width="1.0" fill="none"/>
<path d="M158.0 170.5h0.8M164.2 170.5h1.5M169.0 170.5h0.7M179.1 170.5h1.7M190.1 170.5h1.6M200.5 170.5h1.1M204.8 170.5h1.4M207.0 170.5h1.1M213.1 170.5h1.5M223.5 170.5h0.7M237.1 170.5h1.0M238.6 170.5h0.6M248.2 170.5h1.3M250.3 170.5h1.2M256.0 170.5h1.1M259.3 170.5h0.6M260.9 170.5h1.7M264.1 170.5h1.6" stroke="#000" stroke-opacity="0.4" stroke-width="1.0" fill="none"/>
<path d="M429 114h1v1h-1zM430 118h1v1h-1zM430 126h1v1h-1zM431 120h1v1h-1zM431 121h1v1h-1zM431 129h1v1h-1zM432 115h1v1h-1zM432 120h1v1h-1zM432 124h1v1h-1zM432 125h1v1h-1zM432 127h1v1h-1zM433 107h1v1h-1zM433 121h1v1h-1zM434 100h1v1h-1zM434 116h1v1h-1zM434 120h1v1h-1zM434 121h1v1h-1zM434 123h1v1h-1zM434 125h1v1h-1zM435 96h1v1h-1zM435 101h1v1h-1zM435 103h1v1h-1zM435 107h1v1h-1zM435 109h1v1h-1zM435 110h1v1h-1zM435 111h1v1h-1zM435 112h1v1h-1zM435 113h1v1h-1zM435 114h1v1h-1zM435 117h1v1h-1zM435 119h1v1h-1zM435 124h1v1h-1zM435 127h1v1h-1zM436 102h1v1h-1zM436 103h1v1h-1zM436 106h1v1h-1zM436 112h1v1h-1zM436 114h1v1h-1zM436 117h1v1h-1zM436 118h1v1h-1zM436 120h1v1h-1zM436 122h1v1h-1zM436 123h1v1h-1zM436 124h1v1h-1zM436 125h1v1h-1zM436 126h1v1h-1zM437 87h1v1h-1zM437 98h1v1h-1zM437 103h1v1h-1zM437 104h1v1h-1zM437 106h1v1h-1zM437 107h1v1h-1zM437 109h1v1h-1zM437 110h1v1h-1zM437 112h1v1h-1zM437 113h1v1h-1zM437 116h1v1h-1zM437 118h1v1h-1zM437 120h1v1h-1zM437 123h1v1h-1zM437 126h1v1h-1zM437 128h1v1h-1zM438 95h1v1h-1zM438 98h1v1h-1zM438 103h1v1h-1zM438 106h1v1h-1zM438 110h1v1h-1zM438 111h1v1h-1zM438 113h1v1h-1zM438 115h1v1h-1zM438 116h1v1h-1zM438 118h1v1h-1zM438 122h1v1h-1zM438 123h1v1h-1zM438 124h1v1h-1zM438 129h1v1h-1zM439 90h1v1h-1zM439 96h1v1h-1zM439 99h1v1h-1zM439 101h1v1h-1zM439 103h1v1h-1zM439 104h1v1h-1zM439 105h1v1h-1zM439 106h1v1h-1zM439 107h1v1h-1zM439 109h1v1h-1zM439 110h1v1h-1zM439 112h1v1h-1zM439 113h1v1h-1zM439 114h1v1h-1zM439 115h1v1h-1zM439 116h1v1h-1zM439 117h1v1h-1zM439 122h1v1h-1zM439 123h1v1h-1zM439 127h1v1h-1zM439 128h1v1h-1zM439 129h1v1h-1zM439 130h1v1h-1zM440 79h1v1h-1zM440 82h1v1h-1zM440 89h1v1h-1zM440 91h1v1h-1zM440 93h1v1h-1zM440 95h1v1h-1zM440 97h1v1h-1zM440 98h1v1h-1zM440 99h1v1h-1zM440 100h1v1h-1zM440 102h1v1h-1zM440 103h1v1h-1zM440 104h1v1h-1zM440 105h1v1h-1zM440 106h1v1h-1zM440 107h1v1h-1zM440 108h1v1h-1zM440 109h1v1h-1zM440 110h1v1h-1zM440 111h1v1h-1zM440 112h1v1h-1zM440 115h1v1h-1zM440 116h1v1h-1zM440 117h1v1h-1zM440 120h1v1h-1zM440 125h1v1h-1zM440 126h1v1h-1zM440 129h1v1h-1zM440 130h1v1h-1zM441 87h1v1h-1zM441 92h1v1h-1zM441 93h1v1h-1zM441 94h1v1h-1zM441 95h1v1h-1zM441 97h1v1h-1zM441 98h1v1h-1zM441 99h1v1h-1zM441 100h1v1h-1zM441 102h1v1h-1zM441 103h1v1h-1zM441 105h1v1h-1zM441 106h1v1h-1zM441 107h1v1h-1zM441 108h1v1h-1zM441 109h1v1h-1zM441 110h1v1h-1zM441 112h1v1h-1zM441 113h1v1h-1zM441 115h1v1h-1zM441 117h1v1h-1zM441 118h1v1h-1zM441 119h1v1h-1zM441 122h1v1h-1zM441 123h1v1h-1zM441 124h1v1h-1zM441 129h1v1h-1zM441 130h1v1h-1zM442 77h1v1h-1zM442 84h1v1h-1zM442 88h1v1h-1zM442 90h1v1h-1zM442 94h1v1h-1zM442 95h1v1h-1zM442 96h1v1h-1zM442 97h1v1h-1zM442 98h1v1h-1zM442 99h1v1h-1zM442 100h1v1h-1zM442 101h1v1h-1zM442 102h1v1h-1zM442 103h1v1h-1zM442 104h1v1h-1zM442 105h1v1h-1zM442 106h1v1h-1zM442 107h1v1h-1zM442 108h1v1h-1zM442 109h1v1h-1zM442 110h1v1h-1zM442 111h1v1h-1zM442 112h1v1h-1zM442 113h1v1h-1zM442 114h1v1h-1zM442 115h1v1h-1zM442 116h1v1h-1zM442 117h1v1h-1zM442 119h1v1h-1zM442 120h1v1h-1zM442 121h1v1h-1zM442 124h1v1h-1zM442 126h1v1h-1zM442 130h1v1h-1zM443 80h1v1h-1zM443 86h1v1h-1zM443 88h1v1h-1zM443 91h1v1h-1zM443 93h1v1h-1zM443 94h1v1h-1zM443 96h1v1h-1zM443 97h1v1h-1zM443 98h1v1h-1zM443 99h1v1h-1zM443 100h1v1h-1zM443 101h1v1h-1zM443 102h1v1h-1zM443 104h1v1h-1zM443 106h1v1h-1zM443 107h1v1h-1zM443 108h1v1h-1zM443 109h1v1h-1zM443 110h1v1h-1zM443 111h1v1h-1zM443 112h1v1h-1zM443 113h1v1h-1zM443 114h1v1h-1zM443 115h1v1h-1zM443 116h1v1h-1zM443 117h1v1h-1zM443 119h1v1h-1zM443 123h1v1h-1zM443 124h1v1h-1zM443 125h1v1h-1zM443 126h1v1h-1zM443 129h1v1h-1zM444 77h1v1h-1zM444 80h1v1h-1zM444 82h1v1h-1zM444 84h1v1h-1zM444 85h1v1h-1zM444 87h1v1h-1zM444 89h1v1h-1zM444 90h1v1h-1zM444 91h1v1h-1zM444 92h1v1h-1zM444 93h1v1h-1zM444 94h1v1h-1zM444 96h1v1h-1zM444 97h1v1h-1zM444 99h1v1h-1zM444 101h1v1h-1zM444 102h1v1h-1zM444 103h1v1h-1zM444 104h1v1h-1zM444 105h1v1h-1zM444 106h1v1h-1zM444 107h1v1h-1zM444 108h1v1h-1zM444 109h1v1h-1zM444 110h1v1h-1zM444 111h1v1h-1zM444 112h1v1h-1zM444 113h1v1h-1zM444 114h1v1h-1zM444 115h1v1h-1zM444 116h1v1h-1zM444 119h1v1h-1zM444 120h1v1h-1zM444 122h1v1h-1zM444 125h1v1h-1zM444 126h1v1h-1zM444 127h1v1h-1zM444 128h1v1h-1zM444 129h1v1h-1zM444 131h1v1h-1zM445 82h1v1h-1zM445 83h1v1h-1zM445 84h1v1h-1zM445 85h1v1h-1zM445 86h1v1h-1zM445 88h1v1h-1zM445 89h1v1h-1zM445 90h1v1h-1zM445 91h1v1h-1zM445 92h1v1h-1zM445 93h1v1h-1zM445 94h1v1h-1zM445 95h1v1h-1zM445 96h1v1h-1zM445 97h1v1h-1zM445 98h1v1h-1zM445 101h1v1h-1zM445 102h1v1h-1zM445 103h1v1h-1zM445 104h1v1h-1zM445 105h1v1h-1zM445 106h1v1h-1zM445 107h1v1h-1zM445 109h1v1h-1zM445 110h1v1h-1zM445 111h1v1h-1zM445 112h1v1h-1zM445 113h1v1h-1zM445 115h1v1h-1zM445 117h1v1h-1zM445 118h1v1h-1zM445 120h1v1h-1zM445 121h1v1h-1zM445 122h1v1h-1zM445 125h1v1h-1zM445 127h1v1h-1zM445 130h1v1h-1zM446 78h1v1h-1zM446 80h1v1h-1zM446 81h1v1h-1zM446 83h1v1h-1zM446 84h1v1h-1zM446 85h1v1h-1zM446 86h1v1h-1zM446 88h1v1h-1zM446 89h1v1h-1zM446 90h1v1h-1zM446 91h1v1h-1zM446 92h1v1h-1zM446 93h1v1h-1zM446 94h1v1h-1zM446 95h1v1h-1zM446 96h1v1h-1zM446 98h1v1h-1zM446 99h1v1h-1zM446 100h1v1h-1zM446 101h1v1h-1zM446 102h1v1h-1zM446 103h1v1h-1zM446 104h1v1h-1zM446 105h1v1h-1zM446 106h1v1h-1zM446 107h1v1h-1zM446 108h1v1h-1zM446 109h1v1h-1zM446 110h1v1h-1zM446 111h1v1h-1zM446 112h1v1h-1zM446 113h1v1h-1zM446 114h1v1h-1zM446 115h1v1h-1zM446 116h1v1h-1zM446 117h1v1h-1zM446 118h1v1h-1zM446 119h1v1h-1zM446 121h1v1h-1zM446 122h1v1h-1zM446 124h1v1h-1zM447 77h1v1h-1zM447 81h1v1h-1zM447 82h1v1h-1zM447 84h1v1h-1zM447 85h1v1h-1zM447 86h1v1h-1zM447 87h1v1h-1zM447 89h1v1h-1zM447 90h1v1h-1zM447 91h1v1h-1zM447 92h1v1h-1zM447 93h1v1h-1zM447 94h1v1h-1zM447 95h1v1h-1zM447 96h1v1h-1zM447 97h1v1h-1zM447 98h1v1h-1zM447 99h1v1h-1zM447 100h1v1h-1zM447 101h1v1h-1zM447 102h1v1h-1zM447 103h1v1h-1zM447 104h1v1h-1zM447 105h1v1h-1zM447 106h1v1h-1zM447 107h1v1h-1zM447 108h1v1h-1zM447 109h1v1h-1zM447 110h1v1h-1zM447 111h1v1h-1zM447 112h1v1h-1zM447 113h1v1h-1zM447 115h1v1h-1zM447 116h1v1h-1zM447 118h1v1h-1zM447 119h1v1h-1zM447 120h1v1h-1zM447 121h1v1h-1zM447 123h1v1h-1zM447 126h1v1h-1zM447 127h1v1h-1zM448 79h1v1h-1zM448 84h1v1h-1zM448 85h1v1h-1zM448 87h1v1h-1zM448 88h1v1h-1zM448 89h1v1h-1zM448 90h1v1h-1zM448 91h1v1h-1zM448 92h1v1h-1zM448 93h1v1h-1zM448 95h1v1h-1zM448 96h1v1h-1zM448 97h1v1h-1zM448 98h1v1h-1zM448 99h1v1h-1zM448 100h1v1h-1zM448 101h1v1h-1zM448 102h1v1h-1zM448 103h1v1h-1zM448 104h1v1h-1zM448 105h1v1h-1zM448 106h1v1h-1zM448 107h1v1h-1zM448 108h1v1h-1zM448 109h1v1h-1zM448 110h1v1h-1zM448 111h1v1h-1zM448 112h1v1h-1zM448 113h1v1h-1zM448 114h1v1h-1zM448 115h1v1h-1zM448 117h1v1h-1zM448 119h1v1h-1zM448 121h1v1h-1zM448 123h1v1h-1zM448 124h1v1h-1zM448 127h1v1h-1zM448 129h1v1h-1zM448 130h1v1h-1zM449 77h1v1h-1zM449 78h1v1h-1zM449 83h1v1h-1zM449 84h1v1h-1zM449 86h1v1h-1zM449 87h1v1h-1zM449 89h1v1h-1zM449 90h1v1h-1zM449 91h1v1h-1zM449 92h1v1h-1zM449 93h1v1h-1zM449 94h1v1h-1zM449 95h1v1h-1zM449 96h1v1h-1zM449 97h1v1h-1zM449 99h1v1h-1zM449 100h1v1h-1zM449 101h1v1h-1zM449 102h1v1h-1zM449 105h1v1h-1zM449 106h1v1h-1zM449 107h1v1h-1zM449 108h1v1h-1zM449 109h1v1h-1zM449 110h1v1h-1zM449 111h1v1h-1zM449 112h1v1h-1zM449 113h1v1h-1zM449 114h1v1h-1zM449 115h1v1h-1zM449 116h1v1h-1zM449 117h1v1h-1zM449 118h1v1h-1zM449 119h1v1h-1zM449 121h1v1h-1zM449 122h1v1h-1zM449 123h1v1h-1zM449 125h1v1h-1zM449 128h1v1h-1zM449 129h1v1h-1zM450 82h1v1h-1zM450 83h1v1h-1zM450 85h1v1h-1zM450 87h1v1h-1zM450 89h1v1h-1zM450 90h1v1h-1zM450 91h1v1h-1zM450 92h1v1h-1zM450 93h1v1h-1zM450 95h1v1h-1zM450 97h1v1h-1zM450 98h1v1h-1zM450 99h1v1h-1zM450 100h1v1h-1zM450 101h1v1h-1zM450 102h1v1h-1zM450 103h1v1h-1zM450 104h1v1h-1zM450 105h1v1h-1zM450 106h1v1h-1zM450 107h1v1h-1zM450 108h1v1h-1zM450 109h1v1h-1zM450 110h1v1h-1zM450 111h1v1h-1zM450 112h1v1h-1zM450 113h1v1h-1zM450 114h1v1h-1zM450 115h1v1h-1zM450 116h1v1h-1zM450 120h1v1h-1zM450 123h1v1h-1zM450 124h1v1h-1zM450 125h1v1h-1zM450 126h1v1h-1zM450 129h1v1h-1zM450 130h1v1h-1zM451 77h1v1h-1zM451 78h1v1h-1zM451 80h1v1h-1zM451 82h1v1h-1zM451 83h1v1h-1zM451 84h1v1h-1zM451 86h1v1h-1zM451 87h1v1h-1zM451 90h1v1h-1zM451 91h1v1h-1zM451 92h1v1h-1zM451 93h1v1h-1zM451 94h1v1h-1zM451 95h1v1h-1zM451 97h1v1h-1zM451 98h1v1h-1zM451 100h1v1h-1zM451 101h1v1h-1zM451 102h1v1h-1zM451 103h1v1h-1zM451 104h1v1h-1zM451 106h1v1h-1zM451 107h1v1h-1zM451 108h1v1h-1zM451 110h1v1h-1zM451 111h1v1h-1zM451 112h1v1h-1zM451 113h1v1h-1zM451 114h1v1h-1zM451 116h1v1h-1zM451 118h1v1h-1zM451 119h1v1h-1zM451 120h1v1h-1zM451 126h1v1h-1zM451 130h1v1h-1zM452 81h1v1h-1zM452 84h1v1h-1zM452 85h1v1h-1zM452 87h1v1h-1zM452 90h1v1h-1zM452 91h1v1h-1zM452 92h1v1h-1zM452 93h1v1h-1zM452 94h1v1h-1zM452 96h1v1h-1zM452 97h1v1h-1zM452 98h1v1h-1zM452 99h1v1h-1zM452 100h1v1h-1zM452 101h1v1h-1zM452 102h1v1h-1zM452 103h1v1h-1zM452 104h1v1h-1zM452 106h1v1h-1zM452 108h1v1h-1zM452 109h1v1h-1zM452 111h1v1h-1zM452 115h1v1h-1zM452 121h1v1h-1zM452 128h1v1h-1zM453 81h1v1h-1zM453 85h1v1h-1zM453 88h1v1h-1zM453 90h1v1h-1zM453 91h1v1h-1zM453 93h1v1h-1zM453 94h1v1h-1zM453 95h1v1h-1zM453 97h1v1h-1zM453 98h1v1h-1zM453 99h1v1h-1zM453 102h1v1h-1zM453 103h1v1h-1zM453 104h1v1h-1zM453 106h1v1h-1zM453 107h1v1h-1zM453 108h1v1h-1zM453 110h1v1h-1zM453 111h1v1h-1zM453 114h1v1h-1zM453 116h1v1h-1zM453 118h1v1h-1zM453 119h1v1h-1zM454 80h1v1h-1zM454 91h1v1h-1zM454 92h1v1h-1zM454 93h1v1h-1zM454 94h1v1h-1zM454 95h1v1h-1zM454 97h1v1h-1zM454 100h1v1h-1zM454 101h1v1h-1zM454 103h1v1h-1zM454 105h1v1h-1zM454 106h1v1h-1zM454 108h1v1h-1zM454 116h1v1h-1zM454 117h1v1h-1zM454 118h1v1h-1zM454 120h1v1h-1zM455 88h1v1h-1zM455 93h1v1h-1zM455 94h1v1h-1zM455 99h1v1h-1zM455 100h1v1h-1zM455 101h1v1h-1zM455 103h1v1h-1zM455 104h1v1h-1zM455 106h1v1h-1zM455 107h1v1h-1zM455 110h1v1h-1zM455 111h1v1h-1zM455 116h1v1h-1zM455 117h1v1h-1zM455 118h1v1h-1zM455 123h1v1h-1zM456 91h1v1h-1zM456 96h1v1h-1zM456 106h1v1h-1zM456 111h1v1h-1zM456 123h1v1h-1zM456 128h1v1h-1zM457 91h1v1h-1zM457 96h1v1h-1zM457 101h1v1h-1zM457 104h1v1h-1zM457 106h1v1h-1zM457 107h1v1h-1zM457 110h1v1h-1zM458 98h1v1h-1zM458 106h1v1h-1zM458 114h1v1h-1zM458 115h1v1h-1z" fill="#ff0000" shape-rendering="crispEdges"/>
<path d="M431 134h1v1h-1zM433 122h1v1h-1zM434 133h1v1h-1zM436 139h1v1h-1zM437 133h1v1h-1zM437 138h1v1h-1zM438 128h1v1h-1zM439 126h1v1h-1zM439 137h1v1h-1zM439 139h1v1h-1zM440 112h1v1h-1zM440 123h1v1h-1zM440 133h1v1h-1zM440 136h1v1h-1zM441 111h1v1h-1zM441 114h1v1h-1zM441 120h1v1h-1zM441 127h1v1h-1zM441 128h1v1h-1zM441 134h1v1h-1zM441 140h1v1h-1zM442 113h1v1h-1zM442 115h1v1h-1zM442 117h1v1h-1zM442 118h1v1h-1zM442 120h1v1h-1zM442 121h1v1h-1zM442 122h1v1h-1zM442 130h1v1h-1zM442 138h1v1h-1zM443 108h1v1h-1zM443 115h1v1h-1zM443 118h1v1h-1zM443 122h1v1h-1zM443 124h1v1h-1zM443 125h1v1h-1zM443 127h1v1h-1zM443 129h1v1h-1zM443 132h1v1h-1zM443 133h1v1h-1zM443 135h1v1h-1zM444 102h1v1h-1zM444 108h1v1h-1zM444 112h1v1h-1zM444 114h1v1h-1zM444 116h1v1h-1zM444 118h1v1h-1zM444 119h1v1h-1zM444 122h1v1h-1zM444 123h1v1h-1zM444 125h1v1h-1zM444 129h1v1h-1zM444 130h1v1h-1zM444 133h1v1h-1zM444 137h1v1h-1zM444 138h1v1h-1zM445 106h1v1h-1zM445 107h1v1h-1zM445 109h1v1h-1zM445 111h1v1h-1zM445 112h1v1h-1zM445 114h1v1h-1zM445 115h1v1h-1zM445 118h1v1h-1zM445 119h1v1h-1zM445 120h1v1h-1zM445 121h1v1h-1zM445 122h1v1h-1zM445 123h1v1h-1zM445 124h1v1h-1zM445 125h1v1h-1zM445 126h1v1h-1zM445 127h1v1h-1zM445 128h1v1h-1zM445 130h1v1h-1zM445 131h1v1h-1zM445 132h1v1h-1zM445 133h1v1h-1zM445 135h1v1h-1zM445 138h1v1h-1zM446 101h1v1h-1zM446 102h1v1h-1zM446 104h1v1h-1zM446 107h1v1h-1zM446 108h1v1h-1zM446 110h1v1h-1zM446 111h1v1h-1zM446 112h1v1h-1zM446 113h1v1h-1zM446 114h1v1h-1zM446 115h1v1h-1zM446 116h1v1h-1zM446 117h1v1h-1zM446 118h1v1h-1zM446 119h1v1h-1zM446 120h1v1h-1zM446 121h1v1h-1zM446 122h1v1h-1zM446 123h1v1h-1zM446 124h1v1h-1zM446 125h1v1h-1zM446 126h1v1h-1zM446 127h1v1h-1zM446 128h1v1h-1zM446 130h1v1h-1zM446 132h1v1h-1zM446 133h1v1h-1zM446 134h1v1h-1zM446 137h1v1h-1zM447 94h1v1h-1zM447 102h1v1h-1zM447 105h1v1h-1zM447 107h1v1h-1zM447 109h1v1h-1zM447 111h1v1h-1zM447 114h1v1h-1zM447 115h1v1h-1zM447 117h1v1h-1zM447 118h1v1h-1zM447 119h1v1h-1zM447 120h1v1h-1zM447 122h1v1h-1zM447 123h1v1h-1zM447 124h1v1h-1zM447 125h1v1h-1zM447 126h1v1h-1zM447 127h1v1h-1zM447 128h1v1h-1zM447 129h1v1h-1zM447 130h1v1h-1zM447 131h1v1h-1zM447 132h1v1h-1zM447 133h1v1h-1zM447 136h1v1h-1zM447 137h1v1h-1zM447 138h1v1h-1zM448 96h1v1h-1zM448 97h1v1h-1zM448 98h1v1h-1zM448 102h1v1h-1zM448 103h1v1h-1zM448 104h1v1h-1zM448 105h1v1h-1zM448 106h1v1h-1zM448 108h1v1h-1zM448 109h1v1h-1zM448 111h1v1h-1zM448 112h1v1h-1zM448 113h1v1h-1zM448 114h1v1h-1zM448 115h1v1h-1zM448 116h1v1h-1zM448 117h1v1h-1zM448 118h1v1h-1zM448 119h1v1h-1zM448 120h1v1h-1zM448 121h1v1h-1zM448 122h1v1h-1zM448 123h1v1h-1zM448 124h1v1h-1zM448 125h1v1h-1zM448 126h1v1h-1zM448 127h1v1h-1zM448 128h1v1h-1zM448 129h1v1h-1zM448 130h1v1h-1zM448 131h1v1h-1zM448 132h1v1h-1zM448 133h1v1h-1zM448 135h1v1h-1zM448 137h1v1h-1zM448 139h1v1h-1zM448 140h1v1h-1zM449 100h1v1h-1zM449 101h1v1h-1zM449 102h1v1h-1zM449 103h1v1h-1zM449 106h1v1h-1zM449 107h1v1h-1zM449 108h1v1h-1zM449 109h1v1h-1zM449 110h1v1h-1zM449 111h1v1h-1zM449 112h1v1h-1zM449 113h1v1h-1zM449 114h1v1h-1zM449 115h1v1h-1zM449 116h1v1h-1zM449 117h1v1h-1zM449 118h1v1h-1zM449 119h1v1h-1zM449 120h1v1h-1zM449 121h1v1h-1zM449 122h1v1h-1zM449 123h1v1h-1zM449 124h1v1h-1zM449 125h1v1h-1zM449 126h1v1h-1zM449 127h1v1h-1zM449 128h1v1h-1zM449 129h1v1h-1zM449 130h1v1h-1zM449 131h1v1h-1zM449 132h1v1h-1zM449 133h1v1h-1zM449 134h1v1h-1zM449 135h1v1h-1zM449 138h1v1h-1zM449 139h1v1h-1zM450 90h1v1h-1zM450 93h1v1h-1zM450 99h1v1h-1zM450 101h1v1h-1zM450 102h1v1h-1zM450 104h1v1h-1zM450 105h1v1h-1zM450 106h1v1h-1zM450 107h1v1h-1zM450 108h1v1h-1zM450 109h1v1h-1zM450 110h1v1h-1zM450 111h1v1h-1zM450 112h1v1h-1zM450 113h1v1h-1zM450 114h1v1h-1zM450 115h1v1h-1zM450 116h1v1h-1zM450 117h1v1h-1zM450 118h1v1h-1zM450 119h1v1h-1zM450 120h1v1h-1zM450 121h1v1h-1zM450 122h1v1h-1zM450 123h1v1h-1zM450 124h1v1h-1zM450 125h1v1h-1zM450 126h1v1h-1zM450 127h1v1h-1zM450 128h1v1h-1zM450 129h1v1h-1zM450 130h1v1h-1zM450 132h1v1h-1zM450 133h1v1h-1zM450 134h1v1h-1zM450 135h1v1h-1zM450 137h1v1h-1zM450 139h1v1h-1zM450 140h1v1h-1zM451 90h1v1h-1zM451 92h1v1h-1zM451 96h1v1h-1zM451 97h1v1h-1zM451 100h1v1h-1zM451 102h1v1h-1zM451 103h1v1h-1zM451 104h1v1h-1zM451 105h1v1h-1zM451 106h1v1h-1zM451 107h1v1h-1zM451 108h1v1h-1zM451 109h1v1h-1zM451 110h1v1h-1zM451 111h1v1h-1zM451 112h1v1h-1zM451 113h1v1h-1zM451 114h1v1h-1zM451 115h1v1h-1zM451 116h1v1h-1zM451 117h1v1h-1zM451 118h1v1h-1zM451 119h1v1h-1zM451 120h1v1h-1zM451 121h1v1h-1zM451 122h1v1h-1zM451 123h1v1h-1zM451 124h1v1h-1zM451 125h1v1h-1zM451 126h1v1h-1zM451 127h1v1h-1zM451 129h1v1h-1zM451 130h1v1h-1zM451 131h1v1h-1zM451 132h1v1h-1zM451 133h1v1h-1zM451 135h1v1h-1zM451 136h1v1h-1zM451 137h1v1h-1zM451 139h1v1h-1zM452 94h1v1h-1zM452 95h1v1h-1zM452 96h1v1h-1zM452 97h1v1h-1zM452 99h1v1h-1zM452 100h1v1h-1zM452 101h1v1h-1zM452 102h1v1h-1zM452 103h1v1h-1zM452 104h1v1h-1zM452 105h1v1h-1zM452 106h1v1h-1zM452 107h1v1h-1zM452 108h1v1h-1zM452 109h1v1h-1zM452 110h1v1h-1zM452 111h1v1h-1zM452 112h1v1h-1zM452 113h1v1h-1zM452 114h1v1h-1zM452 116h1v1h-1zM452 117h1v1h-1zM452 118h1v1h-1zM452 119h1v1h-1zM452 120h1v1h-1zM452 121h1v1h-1zM452 122h1v1h-1zM452 123h1v1h-1zM452 124h1v1h-1zM452 125h1v1h-1zM452 126h1v1h-1zM452 127h1v1h-1zM452 128h1v1h-1zM452 129h1v1h-1zM452 130h1v1h-1zM452 131h1v1h-1zM452 132h1v1h-1zM452 133h1v1h-1zM452 134h1v1h-1zM452 135h1v1h-1zM452 136h1v1h-1zM452 137h1v1h-1zM453 86h1v1h-1zM453 91h1v1h-1zM453 92h1v1h-1zM453 97h1v1h-1zM453 98h1v1h-1zM453 99h1v1h-1zM453 100h1v1h-1zM453 101h1v1h-1zM453 102h1v1h-1zM453 103h1v1h-1zM453 104h1v1h-1zM453 105h1v1h-1zM453 106h1v1h-1zM453 107h1v1h-1zM453 108h1v1h-1zM453 110h1v1h-1zM453 111h1v1h-1zM453 112h1v1h-1zM453 113h1v1h-1zM453 114h1v1h-1zM453 115h1v1h-1zM453 116h1v1h-1zM453 117h1v1h-1zM453 118h1v1h-1zM453 119h1v1h-1zM453 120h1v1h-1zM453 121h1v1h-1zM453 122h1v1h-1zM453 123h1v1h-1zM453 124h1v1h-1zM453 126h1v1h-1zM453 127h1v1h-1zM453 128h1v1h-1zM453 129h1v1h-1zM453 130h1v1h-1zM453 131h1v1h-1zM453 132h1v1h-1zM453 135h1v1h-1zM453 136h1v1h-1zM453 137h1v1h-1zM453 140h1v1h-1zM453 141h1v1h-1zM454 85h1v1h-1zM454 90h1v1h-1zM454 92h1v1h-1zM454 94h1v1h-1zM454 96h1v1h-1zM454 97h1v1h-1zM454 99h1v1h-1zM454 100h1v1h-1zM454 101h1v1h-1zM454 102h1v1h-1zM454 103h1v1h-1zM454 105h1v1h-1zM454 106h1v1h-1zM454 107h1v1h-1zM454 108h1v1h-1zM454 109h1v1h-1zM454 110h1v1h-1zM454 111h1v1h-1zM454 112h1v1h-1zM454 113h1v1h-1zM454 114h1v1h-1zM454 115h1v1h-1zM454 116h1v1h-1zM454 117h1v1h-1zM454 118h1v1h-1zM454 119h1v1h-1zM454 120h1v1h-1zM454 121h1v1h-1zM454 122h1v1h-1zM454 123h1v1h-1zM454 124h1v1h-1zM454 125h1v1h-1zM454 126h1v1h-1zM454 127h1v1h-1zM454 128h1v1h-1zM454 129h1v1h-1zM454 130h1v1h-1zM454 133h1v1h-1zM454 139h1v1h-1zM454 141h1v1h-1zM455 84h1v1h-1zM455 89h1v1h-1zM455 91h1v1h-1zM455 92h1v1h-1zM455 94h1v1h-1zM455 96h1v1h-1zM455 97h1v1h-1zM455 98h1v1h-1zM455 99h1v1h-1zM455 100h1v1h-1zM455 101h1v1h-1zM455 102h1v1h-1zM455 104h1v1h-1zM455 105h1v1h-1zM455 106h1v1h-1zM455 107h1v1h-1zM455 108h1v1h-1zM455 109h1v1h-1zM455 110h1v1h-1zM455 111h1v1h-1zM455 112h1v1h-1zM455 113h1v1h-1zM455 114h1v1h-1zM455 115h1v1h-1zM455 116h1v1h-1zM455 117h1v1h-1zM455 118h1v1h-1zM455 119h1v1h-1zM455 120h1v1h-1zM455 121h1v1h-1zM455 123h1v1h-1zM455 124h1v1h-1zM455 125h1v1h-1zM455 126h1v1h-1zM455 128h1v1h-1zM455 129h1v1h-1zM455 130h1v1h-1zM455 131h1v1h-1zM455 134h1v1h-1zM455 137h1v1h-1zM455 139h1v1h-1zM456 74h1v1h-1zM456 84h1v1h-1zM456 86h1v1h-1zM456 92h1v1h-1zM456 94h1v1h-1zM456 95h1v1h-1zM456 98h1v1h-1zM456 99h1v1h-1zM456 100h1v1h-1zM456 101h1v1h-1zM456 103h1v1h-1zM456 104h1v1h-1zM456 105h1v1h-1zM456 106h1v1h-1zM456 107h1v1h-1zM456 108h1v1h-1zM456 109h1v1h-1zM456 111h1v1h-1zM456 112h1v1h-1zM456 113h1v1h-1zM456 114h1v1h-1zM456 115h1v1h-1zM456 116h1v1h-1zM456 117h1v1h-1zM456 118h1v1h-1zM456 119h1v1h-1zM456 120h1v1h-1zM456 121h1v1h-1zM456 122h1v1h-1zM456 124h1v1h-1zM456 129h1v1h-1zM456 130h1v1h-1zM456 131h1v1h-1zM456 132h1v1h-1zM456 133h1v1h-1zM456 134h1v1h-1zM456 135h1v1h-1zM456 137h1v1h-1zM457 88h1v1h-1zM457 93h1v1h-1zM457 94h1v1h-1zM457 98h1v1h-1zM457 101h1v1h-1zM457 105h1v1h-1zM457 106h1v1h-1zM457 107h1v1h-1zM457 109h1v1h-1zM457 110h1v1h-1zM457 111h1v1h-1zM457 112h1v1h-1zM457 113h1v1h-1zM457 114h1v1h-1zM457 115h1v1h-1zM457 116h1v1h-1zM457 117h1v1h-1zM457 119h1v1h-1zM457 120h1v1h-1zM457 121h1v1h-1zM457 122h1v1h-1zM457 123h1v1h-1zM457 124h1v1h-1zM457 126h1v1h-1zM457 127h1v1h-1zM457 128h1v1h-1zM457 129h1v1h-1zM457 133h1v1h-1zM457 135h1v1h-1zM458 94h1v1h-1zM458 100h1v1h-1zM458 101h1v1h-1zM458 105h1v1h-1zM458 107h1v1h-1zM458 111h1v1h-1zM458 112h1v1h-1zM458 113h1v1h-1zM458 114h1v1h-1zM458 115h1v1h-1zM458 116h1v1h-1zM458 117h1v1h-1zM458 118h1v1h-1zM458 119h1v1h-1zM458 120h1v1h-1zM458 122h1v1h-1zM458 123h1v1h-1zM458 124h1v1h-1zM458 127h1v1h-1zM458 128h1v1h-1zM458 129h1v1h-1zM458 130h1v1h-1zM458 133h1v1h-1zM458 134h1v1h-1zM458 135h1v1h-1zM459 88h1v1h-1zM459 97h1v1h-1zM459 100h1v1h-1zM459 106h1v1h-1zM459 110h1v1h-1zM459 112h1v1h-1zM459 114h1v1h-1zM459 115h1v1h-1zM459 116h1v1h-1zM459 118h1v1h-1zM459 119h1v1h-1zM459 121h1v1h-1zM459 123h1v1h-1zM459 124h1v1h-1zM459 125h1v1h-1zM459 126h1v1h-1zM459 127h1v1h-1zM459 135h1v1h-1zM460 92h1v1h-1zM460 93h1v1h-1zM460 96h1v1h-1zM460 103h1v1h-1zM460 106h1v1h-1zM460 107h1v1h-1zM460 112h1v1h-1zM460 114h1v1h-1zM460 115h1v1h-1zM460 117h1v1h-1zM460 119h1v1h-1zM460 122h1v1h-1zM460 123h1v1h-1zM460 125h1v1h-1zM460 126h1v1h-1zM460 129h1v1h-1zM460 134h1v1h-1zM461 95h1v1h-1zM461 100h1v1h-1zM461 106h1v1h-1zM461 107h1v1h-1zM461 109h1v1h-1zM461 114h1v1h-1zM461 116h1v1h-1zM461 120h1v1h-1zM461 121h1v1h-1zM461 124h1v1h-1zM461 125h1v1h-1zM461 126h1v1h-1zM462 84h1v1h-1zM462 88h1v1h-1zM462 95h1v1h-1zM462 97h1v1h-1zM462 98h1v1h-1zM462 100h1v1h-1zM462 104h1v1h-1zM462 107h1v1h-1zM462 108h1v1h-1zM462 109h1v1h-1zM462 111h1v1h-1zM462 112h1v1h-1zM462 113h1v1h-1zM462 114h1v1h-1zM462 115h1v1h-1zM462 116h1v1h-1zM462 117h1v1h-1zM462 119h1v1h-1zM462 120h1v1h-1zM462 121h1v1h-1zM462 122h1v1h-1zM462 125h1v1h-1zM462 126h1v1h-1zM462 127h1v1h-1zM462 128h1v1h-1zM462 133h1v1h-1zM462 134h1v1h-1zM462 138h1v1h-1zM463 69h1v1h-1zM463 98h1v1h-1zM463 101h1v1h-1zM463 103h1v1h-1zM463 104h1v1h-1zM463 105h1v1h-1zM463 106h1v1h-1zM463 109h1v1h-1zM463 116h1v1h-1zM463 117h1v1h-1zM463 121h1v1h-1zM463 122h1v1h-1zM463 123h1v1h-1zM463 128h1v1h-1zM463 130h1v1h-1zM464 86h1v1h-1zM464 88h1v1h-1zM464 91h1v1h-1zM464 95h1v1h-1zM464 97h1v1h-1zM464 99h1v1h-1zM464 100h1v1h-1zM464 101h1v1h-1zM464 102h1v1h-1zM464 104h1v1h-1zM464 106h1v1h-1zM464 107h1v1h-1zM464 109h1v1h-1zM464 111h1v1h-1zM464 112h1v1h-1zM464 113h1v1h-1zM464 116h1v1h-1zM464 117h1v1h-1zM464 118h1v1h-1zM464 122h1v1h-1zM464 126h1v1h-1zM464 133h1v1h-1zM465 90h1v1h-1zM465 99h1v1h-1zM465 100h1v1h-1zM465 103h1v1h-1zM465 105h1v1h-1zM465 108h1v1h-1zM465 110h1v1h-1zM465 114h1v1h-1zM465 115h1v1h-1zM465 116h1v1h-1zM465 117h1v1h-1zM465 119h1v1h-1zM465 122h1v1h-1zM465 125h1v1h-1zM465 127h1v1h-1zM465 129h1v1h-1zM465 133h1v1h-1zM465 134h1v1h-1zM466 86h1v1h-1zM466 91h1v1h-1zM466 99h1v1h-1zM466 100h1v1h-1zM466 102h1v1h-1zM466 105h1v1h-1zM466 107h1v1h-1zM466 108h1v1h-1zM466 109h1v1h-1zM466 110h1v1h-1zM466 115h1v1h-1zM466 116h1v1h-1zM466 117h1v1h-1zM466 118h1v1h-1zM466 119h1v1h-1zM466 123h1v1h-1zM466 124h1v1h-1zM466 126h1v1h-1zM466 130h1v1h-1zM466 138h1v1h-1zM467 87h1v1h-1zM467 90h1v1h-1zM467 95h1v1h-1zM467 97h1v1h-1zM467 103h1v1h-1zM467 110h1v1h-1zM467 111h1v1h-1zM467 113h1v1h-1zM467 114h1v1h-1zM467 116h1v1h-1zM467 118h1v1h-1zM467 119h1v1h-1zM467 120h1v1h-1zM467 122h1v1h-1zM467 123h1v1h-1zM467 125h1v1h-1zM467 132h1v1h-1zM468 91h1v1h-1zM468 93h1v1h-1zM468 101h1v1h-1zM468 104h1v1h-1zM468 106h1v1h-1zM468 109h1v1h-1zM468 111h1v1h-1zM468 113h1v1h-1zM468 114h1v1h-1zM468 115h1v1h-1zM468 117h1v1h-1zM468 118h1v1h-1zM468 120h1v1h-1zM468 123h1v1h-1zM468 125h1v1h-1zM468 127h1v1h-1zM468 129h1v1h-1zM468 130h1v1h-1zM468 132h1v1h-1zM469 92h1v1h-1zM469 98h1v1h-1zM469 103h1v1h-1zM469 105h1v1h-1zM469 107h1v1h-1zM469 109h1v1h-1zM469 110h1v1h-1zM469 111h1v1h-1zM469 113h1v1h-1zM469 116h1v1h-1zM469 120h1v1h-1zM469 121h1v1h-1zM469 124h1v1h-1zM469 125h1v1h-1zM469 129h1v1h-1zM469 133h1v1h-1zM470 92h1v1h-1zM470 96h1v1h-1zM470 97h1v1h-1zM470 98h1v1h-1zM470 99h1v1h-1zM470 103h1v1h-1zM470 104h1v1h-1zM470 105h1v1h-1zM470 107h1v1h-1zM470 108h1v1h-1zM470 109h1v1h-1zM470 111h1v1h-1zM470 113h1v1h-1zM470 115h1v1h-1zM470 116h1v1h-1zM470 117h1v1h-1zM470 118h1v1h-1zM470 121h1v1h-1zM470 125h1v1h-1zM470 128h1v1h-1zM471 80h1v1h-1zM471 88h1v1h-1zM471 94h1v1h-1zM471 95h1v1h-1zM471 96h1v1h-1zM471 98h1v1h-1zM471 99h1v1h-1zM471 100h1v1h-1zM471 102h1v1h-1zM471 105h1v1h-1zM471 106h1v1h-1zM471 107h1v1h-1zM471 108h1v1h-1zM471 109h1v1h-1zM471 110h1v1h-1zM471 111h1v1h-1zM471 112h1v1h-1zM471 113h1v1h-1zM471 114h1v1h-1zM471 115h1v1h-1zM471 116h1v1h-1zM471 117h1v1h-1zM471 118h1v1h-1zM471 122h1v1h-1zM471 124h1v1h-1zM471 129h1v1h-1zM471 130h1v1h-1zM471 134h1v1h-1zM472 84h1v1h-1zM472 90h1v1h-1zM472 95h1v1h-1zM472 96h1v1h-1zM472 99h1v1h-1zM472 102h1v1h-1zM472 103h1v1h-1zM472 105h1v1h-1zM472 106h1v1h-1zM472 107h1v1h-1zM472 109h1v1h-1zM472 111h1v1h-1zM472 113h1v1h-1zM472 114h1v1h-1zM472 115h1v1h-1zM472 116h1v1h-1zM472 118h1v1h-1zM472 119h1v1h-1zM472 120h1v1h-1zM472 123h1v1h-1zM472 126h1v1h-1zM472 130h1v1h-1zM472 135h1v1h-1zM473 90h1v1h-1zM473 92h1v1h-1zM473 93h1v1h-1zM473 94h1v1h-1zM473 95h1v1h-1zM473 100h1v1h-1zM473 102h1v1h-1zM473 103h1v1h-1zM473 104h1v1h-1zM473 105h1v1h-1zM473 107h1v1h-1zM473 108h1v1h-1zM473 110h1v1h-1zM473 111h1v1h-1zM473 112h1v1h-1zM473 116h1v1h-1zM473 118h1v1h-1zM473 120h1v1h-1zM473 124h1v1h-1zM473 126h1v1h-1zM473 128h1v1h-1zM474 87h1v1h-1zM474 92h1v1h-1zM474 93h1v1h-1zM474 98h1v1h-1zM474 99h1v1h-1zM474 102h1v1h-1zM474 103h1v1h-1zM474 104h1v1h-1zM474 109h1v1h-1zM474 110h1v1h-1zM474 111h1v1h-1zM474 112h1v1h-1zM474 114h1v1h-1zM474 115h1v1h-1zM474 117h1v1h-1zM474 118h1v1h-1zM474 121h1v1h-1zM474 124h1v1h-1zM474 126h1v1h-1zM475 90h1v1h-1zM475 92h1v1h-1zM475 94h1v1h-1zM475 97h1v1h-1zM475 99h1v1h-1zM475 100h1v1h-1zM475 104h1v1h-1zM475 106h1v1h-1zM475 107h1v1h-1zM475 110h1v1h-1zM475 112h1v1h-1zM475 113h1v1h-1zM475 114h1v1h-1zM475 115h1v1h-1zM475 116h1v1h-1zM475 121h1v1h-1zM475 132h1v1h-1zM476 89h1v1h-1zM476 94h1v1h-1zM476 95h1v1h-1zM476 98h1v1h-1zM476 99h1v1h-1zM476 100h1v1h-1zM476 102h1v1h-1zM476 103h1v1h-1zM476 105h1v1h-1zM476 106h1v1h-1zM476 107h1v1h-1zM476 108h1v1h-1zM476 111h1v1h-1zM476 113h1v1h-1zM476 115h1v1h-1zM476 116h1v1h-1zM476 120h1v1h-1zM476 121h1v1h-1zM476 122h1v1h-1zM476 127h1v1h-1zM476 133h1v1h-1zM477 91h1v1h-1zM477 93h1v1h-1zM477 94h1v1h-1zM477 95h1v1h-1zM477 96h1v1h-1zM477 97h1v1h-1zM477 99h1v1h-1zM477 100h1v1h-1zM477 101h1v1h-1zM477 102h1v1h-1zM477 104h1v1h-1zM477 106h1v1h-1zM477 108h1v1h-1zM477 110h1v1h-1zM477 112h1v1h-1zM477 113h1v1h-1zM477 114h1v1h-1zM477 118h1v1h-1zM477 120h1v1h-1zM477 122h1v1h-1zM477 123h1v1h-1zM477 127h1v1h-1zM477 130h1v1h-1zM477 131h1v1h-1zM478 89h1v1h-1zM478 90h1v1h-1zM478 96h1v1h-1zM478 98h1v1h-1zM478 99h1v1h-1zM478 100h1v1h-1zM478 101h1v1h-1zM478 102h1v1h-1zM478 103h1v1h-1zM478 104h1v1h-1zM478 105h1v1h-1zM478 107h1v1h-1zM478 111h1v1h-1zM478 113h1v1h-1zM478 114h1v1h-1zM478 116h1v1h-1zM478 117h1v1h-1zM478 118h1v1h-1zM478 121h1v1h-1zM478 125h1v1h-1zM478 126h1v1h-1zM479 82h1v1h-1zM479 89h1v1h-1zM479 94h1v1h-1zM479 96h1v1h-1zM479 98h1v1h-1zM479 99h1v1h-1zM479 101h1v1h-1zM479 104h1v1h-1zM479 105h1v1h-1zM479 106h1v1h-1zM479 107h1v1h-1zM479 109h1v1h-1zM479 110h1v1h-1zM479 111h1v1h-1zM479 115h1v1h-1zM479 116h1v1h-1zM479 117h1v1h-1zM479 118h1v1h-1zM479 119h1v1h-1zM479 120h1v1h-1zM479 122h1v1h-1zM479 125h1v1h-1zM479 127h1v1h-1zM479 130h1v1h-1zM479 134h1v1h-1zM480 84h1v1h-1zM480 91h1v1h-1zM480 92h1v1h-1zM480 95h1v1h-1zM480 97h1v1h-1zM480 98h1v1h-1zM480 99h1v1h-1zM480 101h1v1h-1zM480 102h1v1h-1zM480 103h1v1h-1zM480 104h1v1h-1zM480 105h1v1h-1zM480 106h1v1h-1zM480 107h1v1h-1zM480 108h1v1h-1zM480 113h1v1h-1zM480 117h1v1h-1zM480 123h1v1h-1zM480 132h1v1h-1zM481 83h1v1h-1zM481 90h1v1h-1zM481 91h1v1h-1zM481 93h1v1h-1zM481 95h1v1h-1zM481 96h1v1h-1zM481 97h1v1h-1zM481 98h1v1h-1zM481 99h1v1h-1zM481 101h1v1h-1zM481 102h1v1h-1zM481 105h1v1h-1zM481 107h1v1h-1zM481 109h1v1h-1zM481 110h1v1h-1zM481 111h1v1h-1zM481 112h1v1h-1zM481 113h1v1h-1zM481 114h1v1h-1zM481 116h1v1h-1zM481 121h1v1h-1zM481 122h1v1h-1zM481 130h1v1h-1zM481 133h1v1h-1zM482 84h1v1h-1zM482 87h1v1h-1zM482 89h1v1h-1zM482 91h1v1h-1zM482 93h1v1h-1zM482 95h1v1h-1zM482 96h1v1h-1zM482 97h1v1h-1zM482 98h1v1h-1zM482 100h1v1h-1zM482 101h1v1h-1zM482 102h1v1h-1zM482 104h1v1h-1zM482 105h1v1h-1zM482 106h1v1h-1zM482 107h1v1h-1zM482 108h1v1h-1zM482 109h1v1h-1zM482 111h1v1h-1zM482 114h1v1h-1zM482 116h1v1h-1zM482 118h1v1h-1zM482 120h1v1h-1zM482 126h1v1h-1zM483 70h1v1h-1zM483 77h1v1h-1zM483 85h1v1h-1zM483 88h1v1h-1zM483 92h1v1h-1zM483 93h1v1h-1zM483 95h1v1h-1zM483 97h1v1h-1zM483 98h1v1h-1zM483 99h1v1h-1zM483 100h1v1h-1zM483 103h1v1h-1zM483 104h1v1h-1zM483 105h1v1h-1zM483 106h1v1h-1zM483 107h1v1h-1zM483 108h1v1h-1zM483 109h1v1h-1zM483 110h1v1h-1zM483 111h1v1h-1zM483 113h1v1h-1zM483 116h1v1h-1zM483 118h1v1h-1zM483 119h1v1h-1zM484 84h1v1h-1zM484 87h1v1h-1zM484 92h1v1h-1zM484 93h1v1h-1zM484 94h1v1h-1zM484 95h1v1h-1zM484 96h1v1h-1zM484 97h1v1h-1zM484 99h1v1h-1zM484 103h1v1h-1zM484 104h1v1h-1zM484 107h1v1h-1zM484 108h1v1h-1zM484 109h1v1h-1zM484 111h1v1h-1zM484 113h1v1h-1zM484 115h1v1h-1zM484 116h1v1h-1zM484 119h1v1h-1zM484 129h1v1h-1zM485 76h1v1h-1zM485 78h1v1h-1zM485 86h1v1h-1zM485 89h1v1h-1zM485 94h1v1h-1zM485 95h1v1h-1zM485 96h1v1h-1zM485 98h1v1h-1zM485 99h1v1h-1zM485 101h1v1h-1zM485 102h1v1h-1zM485 103h1v1h-1zM485 104h1v1h-1zM485 105h1v1h-1zM485 107h1v1h-1zM485 108h1v1h-1zM485 109h1v1h-1zM485 110h1v1h-1zM485 113h1v1h-1zM485 114h1v1h-1zM485 115h1v1h-1zM485 119h1v1h-1zM485 122h1v1h-1zM485 124h1v1h-1zM485 125h1v1h-1zM485 128h1v1h-1zM486 86h1v1h-1zM486 94h1v1h-1zM486 96h1v1h-1zM486 97h1v1h-1zM486 102h1v1h-1zM486 103h1v1h-1zM486 107h1v1h-1zM486 109h1v1h-1zM486 111h1v1h-1zM486 113h1v1h-1zM486 115h1v1h-1zM486 117h1v1h-1zM486 118h1v1h-1zM486 120h1v1h-1zM486 121h1v1h-1zM486 127h1v1h-1zM487 81h1v1h-1zM487 86h1v1h-1zM487 89h1v1h-1zM487 94h1v1h-1zM487 95h1v1h-1zM487 96h1v1h-1zM487 98h1v1h-1zM487 101h1v1h-1zM487 102h1v1h-1zM487 104h1v1h-1zM487 105h1v1h-1zM487 106h1v1h-1zM487 107h1v1h-1zM487 108h1v1h-1zM487 109h1v1h-1zM487 110h1v1h-1zM487 111h1v1h-1zM487 113h1v1h-1zM487 122h1v1h-1zM487 131h1v1h-1zM488 75h1v1h-1zM488 79h1v1h-1zM488 81h1v1h-1zM488 82h1v1h-1zM488 88h1v1h-1zM488 95h1v1h-1zM488 97h1v1h-1zM488 100h1v1h-1zM488 102h1v1h-1zM488 103h1v1h-1zM488 104h1v1h-1zM488 105h1v1h-1zM488 106h1v1h-1zM488 108h1v1h-1zM488 109h1v1h-1zM488 110h1v1h-1zM488 115h1v1h-1zM488 116h1v1h-1zM488 120h1v1h-1zM488 125h1v1h-1zM488 132h1v1h-1zM489 83h1v1h-1zM489 84h1v1h-1zM489 88h1v1h-1zM489 89h1v1h-1zM489 92h1v1h-1zM489 94h1v1h-1zM489 95h1v1h-1zM489 98h1v1h-1zM489 99h1v1h-1zM489 100h1v1h-1zM489 101h1v1h-1zM489 103h1v1h-1zM489 105h1v1h-1zM489 106h1v1h-1zM489 109h1v1h-1zM489 110h1v1h-1zM489 112h1v1h-1zM489 116h1v1h-1zM489 119h1v1h-1zM489 130h1v1h-1zM489 132h1v1h-1zM490 80h1v1h-1zM490 82h1v1h-1zM490 86h1v1h-1zM490 90h1v1h-1zM490 97h1v1h-1zM490 100h1v1h-1zM490 103h1v1h-1zM490 107h1v1h-1zM490 108h1v1h-1zM490 111h1v1h-1zM490 113h1v1h-1zM490 124h1v1h-1zM490 127h1v1h-1zM491 83h1v1h-1zM491 91h1v1h-1zM491 93h1v1h-1zM491 98h1v1h-1zM491 100h1v1h-1zM491 101h1v1h-1zM491 103h1v1h-1zM491 104h1v1h-1zM491 107h1v1h-1zM491 111h1v1h-1zM491 114h1v1h-1zM491 116h1v1h-1zM492 81h1v1h-1zM492 85h1v1h-1zM492 86h1v1h-1zM492 88h1v1h-1zM492 89h1v1h-1zM492 91h1v1h-1zM492 93h1v1h-1zM492 94h1v1h-1zM492 96h1v1h-1zM492 99h1v1h-1zM492 102h1v1h-1zM492 103h1v1h-1zM492 106h1v1h-1zM492 110h1v1h-1zM492 112h1v1h-1zM492 113h1v1h-1zM493 80h1v1h-1zM493 85h1v1h-1zM493 88h1v1h-1zM493 89h1v1h-1zM493 92h1v1h-1zM493 93h1v1h-1zM493 96h1v1h-1zM493 97h1v1h-1zM493 99h1v1h-1zM493 100h1v1h-1zM493 102h1v1h-1zM493 103h1v1h-1zM493 105h1v1h-1zM493 107h1v1h-1zM493 109h1v1h-1zM493 110h1v1h-1zM493 111h1v1h-1zM493 112h1v1h-1zM493 116h1v1h-1zM493 124h1v1h-1zM493 125h1v1h-1zM494 84h1v1h-1zM494 89h1v1h-1zM494 97h1v1h-1zM494 101h1v1h-1zM494 103h1v1h-1zM494 105h1v1h-1zM494 106h1v1h-1zM494 109h1v1h-1zM494 116h1v1h-1zM494 119h1v1h-1zM494 124h1v1h-1zM494 130h1v1h-1zM495 63h1v1h-1zM495 71h1v1h-1zM495 87h1v1h-1zM495 92h1v1h-1zM495 94h1v1h-1zM495 96h1v1h-1zM495 97h1v1h-1zM495 100h1v1h-1zM495 101h1v1h-1zM495 106h1v1h-1zM495 108h1v1h-1zM495 112h1v1h-1zM495 122h1v1h-1zM496 87h1v1h-1zM496 93h1v1h-1zM496 96h1v1h-1zM496 98h1v1h-1zM496 99h1v1h-1zM496 101h1v1h-1zM496 103h1v1h-1zM496 105h1v1h-1zM496 107h1v1h-1zM496 111h1v1h-1zM496 112h1v1h-1zM496 113h1v1h-1zM496 119h1v1h-1zM496 126h1v1h-1zM496 134h1v1h-1zM497 66h1v1h-1zM497 74h1v1h-1zM497 78h1v1h-1zM497 90h1v1h-1zM497 91h1v1h-1zM497 97h1v1h-1zM497 99h1v1h-1zM497 103h1v1h-1zM497 104h1v1h-1zM497 108h1v1h-1zM497 118h1v1h-1zM497 122h1v1h-1zM497 130h1v1h-1zM498 80h1v1h-1zM498 82h1v1h-1zM498 83h1v1h-1zM498 89h1v1h-1zM498 94h1v1h-1zM498 99h1v1h-1zM498 101h1v1h-1zM498 103h1v1h-1zM498 106h1v1h-1zM498 112h1v1h-1zM498 118h1v1h-1zM499 77h1v1h-1zM499 89h1v1h-1zM499 93h1v1h-1zM499 100h1v1h-1zM499 104h1v1h-1zM499 106h1v1h-1zM499 119h1v1h-1zM499 126h1v1h-1zM499 129h1v1h-1zM500 85h1v1h-1zM500 86h1v1h-1zM500 96h1v1h-1zM500 97h1v1h-1zM500 98h1v1h-1zM500 99h1v1h-1zM500 100h1v1h-1zM500 104h1v1h-1zM500 109h1v1h-1zM500 112h1v1h-1zM500 113h1v1h-1zM500 115h1v1h-1zM500 121h1v1h-1zM500 133h1v1h-1zM501 89h1v1h-1zM501 96h1v1h-1zM501 97h1v1h-1zM501 100h1v1h-1zM501 101h1v1h-1zM501 102h1v1h-1zM501 107h1v1h-1zM501 131h1v1h-1zM502 93h1v1h-1zM502 96h1v1h-1zM502 99h1v1h-1zM502 105h1v1h-1zM502 120h1v1h-1zM502 128h1v1h-1zM503 69h1v1h-1zM503 77h1v1h-1zM503 86h1v1h-1zM503 89h1v1h-1zM503 92h1v1h-1zM503 104h1v1h-1zM503 121h1v1h-1zM503 134h1v1h-1zM504 68h1v1h-1zM504 90h1v1h-1zM504 93h1v1h-1zM504 95h1v1h-1zM504 96h1v1h-1zM504 98h1v1h-1zM504 99h1v1h-1zM504 107h1v1h-1zM504 109h1v1h-1zM504 125h1v1h-1zM505 83h1v1h-1zM505 84h1v1h-1zM505 95h1v1h-1zM505 96h1v1h-1zM505 123h1v1h-1zM508 103h1v1h-1zM514 97h1v1h-1z" fill="#0000ff" shape-rendering="crispEdges"/>
<polyline points="399,109.6 452.1,109.6 528,60.4" fill="none" stroke="#00ff00" stroke-width="1.5"/>
<polyline points="399,117.5 453,117.5 528,68.5" fill="none" stroke="#00ff00" stroke-width="1.5"/>
<polyline points="399,125.5 453.6,125.5 528,76.7" fill="none" stroke="#00ff00" stroke-width="1.5"/>
<path d="M387.0 109.5h0.6M392.7 109.5h0.9M395.5 109.5h0.8" stroke="#000" stroke-opacity="0.4" stroke-width="1.0" fill="none"/>
<path d="M388.0 109.5h0.8M389.6 109.5h0.9M391.1 109.5h1.1M394.3 109.5h0.7M396.8 109.5h0.7M398.2 109.5h0.6" stroke="#000" stroke-opacity="0.6" stroke-width="1.0" fill="none"/>
<path d="M390.3 117.5h1.1M392.0 117.5h0.7M393.6 117.5h0.9M396.4 117.5h1.0" stroke="#000" stroke-opacity="0.6" stroke-width="1.0" fill="none"/>
<path d="M394.8 117.5h0.9M398.0 117.5h1.0" stroke="#000" stroke-opacity="0.4" stroke-width="1.0" fill="none"/>
<path d="M387.0 125.5h0.7M388.4 125.5h0.7M389.8 125.5h1.1" stroke="#000" stroke-opacity="0.6" stroke-width="1.0" fill="none"/>
<path d="M391.6 125.5h1.1M393.2 125.5h1.1M395.0 125.5h1.2M396.7 125.5h0.8" stroke="#000" stroke-opacity="0.4" stroke-width="1.0" fill="none"/>
<path d="M398.3 125.5h0.7" stroke="#000" stroke-opacity="0.2" stroke-width="1.0" fill="none"/>
<text x="384" y="57.9" font-family="Liberation Sans" font-size="4.6" font-weight="bold" fill="#000" textLength="144" lengthAdjust="spacingAndGlyphs">Stockville Sub name MBES-SGB Seep Program March</text>
<text x="382" y="62.1" font-family="Liberation Sans" font-size="3.8" font-weight="normal" fill="#000" fill-opacity="0.5" text-anchor="end">14</text>
<text x="382" y="78.45" font-family="Liberation Sans" font-size="3.8" font-weight="normal" fill="#000" fill-opacity="0.4" text-anchor="end">12</text>
<text x="382" y="94.80000000000001" font-family="Liberation Sans" font-size="4.2" font-weight="normal" fill="#000" fill-opacity="0.95" text-anchor="end">10</text>
<text x="382" y="111.15" font-family="Liberation Sans" font-size="4.2" font-weight="normal" fill="#000" fill-opacity="0.9" text-anchor="end">8</text>
<text x="382" y="127.5" font-family="Liberation Sans" font-size="4.2" font-weight="normal" fill="#000" fill-opacity="0.7" text-anchor="end">6</text>
<text x="382" y="143.85" font-family="Liberation Sans" font-size="3.8" font-weight="normal" fill="#000" fill-opacity="0.35" text-anchor="end">4</text>
<text x="382" y="160.20000000000002" font-family="Liberation Sans" font-size="3.8" font-weight="normal" fill="#000" fill-opacity="0.35" text-anchor="end">2</text>
<text x="382" y="176.55" font-family="Liberation Sans" font-size="4.2" font-weight="normal" fill="#000" fill-opacity="0.95" text-anchor="end">0</text>
<text x="384.3" y="181.0" font-family="Liberation Sans" font-size="4.6" font-weight="normal" fill="#000" fill-opacity="0.95" text-anchor="middle">0</text>
<text x="421.7" y="181.0" font-family="Liberation Sans" font-size="4.6" font-weight="normal" fill="#000" fill-opacity="0.95" text-anchor="middle">5</text>
<text x="459.6" y="181.0" font-family="Liberation Sans" font-size="4.6" font-weight="normal" fill="#000" fill-opacity="0.95" text-anchor="middle">10</text>
<text x="497.2" y="181.0" font-family="Liberation Sans" font-size="4.6" font-weight="normal" fill="#000" fill-opacity="0.95" text-anchor="middle">15</text>
<text x="456.2" y="187.0" font-family="Liberation Sans" font-size="5.0" font-weight="normal" fill="#000" fill-opacity="0.85" text-anchor="middle" textLength="19.5" lengthAdjust="spacingAndGlyphs">Period, s</text>
<text x="372.8" y="120.5" font-family="Liberation Sans" font-size="4.2" font-weight="normal" fill="#000" fill-opacity="0.9" text-anchor="middle" transform="rotate(-90 372.8 120.5)">Hs, m</text>
<text x="402.9" y="67.4" font-family="Liberation Sans" font-size="3.6" font-weight="normal" fill="#000" fill-opacity="0.85">Swell</text>
<text x="402.9" y="72.9" font-family="Liberation Sans" font-size="3.6" font-weight="normal" fill="#000" fill-opacity="0.85" textLength="19" lengthAdjust="spacingAndGlyphs">Wind Sea</text>
<path d="M395 71h1v1h-1z" fill="#ff0000" shape-rendering="crispEdges"/>
<path d="M527 157h1v1h-1z" fill="#333" shape-rendering="crispEdges"/>
<text x="629.7" y="57.9" font-family="Liberation Sans" font-size="4.6" font-weight="bold" fill="#000" textLength="144.5" lengthAdjust="spacingAndGlyphs">Stockville Sub name MBES-SDB Seep Program March</text>
<text x="616.6" y="83.5" font-family="Liberation Sans" font-size="4.4" font-weight="bold" fill="#000" text-anchor="middle" textLength="55" lengthAdjust="spacingAndGlyphs" transform="rotate(-90 616.6 83.5)">Peak Direction, deg</text>
<text x="616.6" y="148" font-family="Liberation Sans" font-size="4.4" font-weight="normal" fill="#000" text-anchor="middle" textLength="50" lengthAdjust="spacingAndGlyphs" transform="rotate(-90 616.6 148)">Peak Direction, deg</text>
<path d="M619.4 59.5h1.0M620.8 59.5h1.0" stroke="#000" stroke-opacity="0.4" stroke-width="1.0" fill="none"/>
<path d="M623.2 59.5h1.0M624.6 59.5h1.0" stroke="#000" stroke-opacity="0.8" stroke-width="1.0" fill="none"/>
<path d="M626.2 59.5h0.7" stroke="#000" stroke-opacity="0.4" stroke-width="1.0" fill="none"/>
<path d="M619.4 62.5h0.8M620.7 62.5h0.7M622.0 62.5h0.3" stroke="#000" stroke-opacity="0.4" stroke-width="1.0" fill="none"/>
<path d="M623.2 62.5h1.2M626.6 62.5h0.3" stroke="#000" stroke-opacity="0.6" stroke-width="1.0" fill="none"/>
<path d="M625.1 62.5h1.1" stroke="#000" stroke-opacity="0.4" stroke-width="1.0" fill="none"/>
<path d="M619.4 65.5h0.7M621.8 65.5h0.5" stroke="#000" stroke-opacity="0.8" stroke-width="1.0" fill="none"/>
<path d="M620.6 65.5h0.6" stroke="#000" stroke-opacity="0.6" stroke-width="1.0" fill="none"/>
<path d="M623.2 65.5h1.0" stroke="#000" stroke-opacity="0.8" stroke-width="1.0" fill="none"/>
<path d="M624.5 65.5h1.3" stroke="#000" stroke-opacity="1.0" stroke-width="1.0" fill="none"/>
<path d="M626.4 65.5h0.5" stroke="#000" stroke-opacity="0.4" stroke-width="1.0" fill="none"/>
<path d="M619.4 68.5h0.9M621.0 68.5h0.9" stroke="#000" stroke-opacity="0.8" stroke-width="1.0" fill="none"/>
<path d="M623.2 68.5h1.0M624.7 68.5h0.7M626.1 68.5h0.8" stroke="#000" stroke-opacity="1.0" stroke-width="1.0" fill="none"/>
<path d="M619.4 70.5h0.9" stroke="#000" stroke-opacity="0.4" stroke-width="1.0" fill="none"/>
<path d="M620.6 70.5h1.2" stroke="#000" stroke-opacity="0.8" stroke-width="1.0" fill="none"/>
<path d="M623.2 70.5h0.8M625.7 70.5h1.2" stroke="#000" stroke-opacity="0.8" stroke-width="1.0" fill="none"/>
<path d="M624.4 70.5h0.8" stroke="#000" stroke-opacity="0.6" stroke-width="1.0" fill="none"/>
<path d="M619.4 73.5h1.0" stroke="#000" stroke-opacity="0.8" stroke-width="1.0" fill="none"/>
<path d="M620.9 73.5h0.7" stroke="#000" stroke-opacity="0.4" stroke-width="1.0" fill="none"/>
<path d="M623.2 73.5h1.0M626.2 73.5h0.7" stroke="#000" stroke-opacity="0.6" stroke-width="1.0" fill="none"/>
<path d="M624.9 73.5h0.7" stroke="#000" stroke-opacity="1.0" stroke-width="1.0" fill="none"/>
<path d="M619.4 76.5h1.0" stroke="#000" stroke-opacity="0.8" stroke-width="1.0" fill="none"/>
<path d="M621.1 76.5h1.2" stroke="#000" stroke-opacity="0.6" stroke-width="1.0" fill="none"/>
<path d="M623.2 76.5h1.4" stroke="#000" stroke-opacity="0.4" stroke-width="1.0" fill="none"/>
<path d="M625.3 76.5h1.2" stroke="#000" stroke-opacity="0.6" stroke-width="1.0" fill="none"/>
<path d="M619.4 79.5h1.0" stroke="#000" stroke-opacity="0.6" stroke-width="1.0" fill="none"/>
<path d="M621.2 79.5h0.9" stroke="#000" stroke-opacity="0.8" stroke-width="1.0" fill="none"/>
<path d="M623.2 79.5h0.8M626.2 79.5h0.7" stroke="#000" stroke-opacity="0.8" stroke-width="1.0" fill="none"/>
<path d="M624.4 79.5h1.2" stroke="#000" stroke-opacity="1.0" stroke-width="1.0" fill="none"/>
<path d="M619.4 82.5h0.8" stroke="#000" stroke-opacity="0.4" stroke-width="1.0" fill="none"/>
<path d="M620.7 82.5h0.6" stroke="#000" stroke-opacity="0.8" stroke-width="1.0" fill="none"/>
<path d="M621.6 82.5h0.7" stroke="#000" stroke-opacity="1.0" stroke-width="1.0" fill="none"/>
<path d="M623.2 82.5h1.0" stroke="#000" stroke-opacity="0.8" stroke-width="1.0" fill="none"/>
<path d="M624.5 82.5h1.3M626.4 82.5h0.5" stroke="#000" stroke-opacity="1.0" stroke-width="1.0" fill="none"/>
<path d="M619.4 85.5h0.9" stroke="#000" stroke-opacity="0.6" stroke-width="1.0" fill="none"/>
<path d="M620.9 85.5h1.2" stroke="#000" stroke-opacity="0.8" stroke-width="1.0" fill="none"/>
<path d="M623.2 85.5h1.3" stroke="#000" stroke-opacity="1.0" stroke-width="1.0" fill="none"/>
<path d="M624.9 85.5h1.1M626.4 85.5h0.5" stroke="#000" stroke-opacity="0.8" stroke-width="1.0" fill="none"/>
<path d="M619.4 87.5h1.0M621.0 87.5h0.8" stroke="#000" stroke-opacity="0.6" stroke-width="1.0" fill="none"/>
<path d="M623.2 87.5h1.3" stroke="#000" stroke-opacity="0.4" stroke-width="1.0" fill="none"/>
<path d="M624.8 87.5h0.9" stroke="#000" stroke-opacity="0.8" stroke-width="1.0" fill="none"/>
<path d="M626.3 87.5h0.6" stroke="#000" stroke-opacity="0.6" stroke-width="1.0" fill="none"/>
<path d="M619.4 90.5h0.7" stroke="#000" stroke-opacity="0.8" stroke-width="1.0" fill="none"/>
<path d="M620.7 90.5h1.1" stroke="#000" stroke-opacity="1.0" stroke-width="1.0" fill="none"/>
<path d="M623.2 90.5h1.1" stroke="#000" stroke-opacity="0.4" stroke-width="1.0" fill="none"/>
<path d="M624.5 90.5h1.4M626.6 90.5h0.3" stroke="#000" stroke-opacity="1.0" stroke-width="1.0" fill="none"/>
<path d="M619.4 93.5h0.8" stroke="#000" stroke-opacity="0.8" stroke-width="1.0" fill="none"/>
<path d="M620.6 93.5h1.0" stroke="#000" stroke-opacity="0.4" stroke-width="1.0" fill="none"/>
<path d="M623.2 93.5h0.7M624.4 93.5h1.3" stroke="#000" stroke-opacity="0.8" stroke-width="1.0" fill="none"/>
<path d="M626.0 93.5h0.9" stroke="#000" stroke-opacity="1.0" stroke-width="1.0" fill="none"/>
<path d="M619.4 96.5h1.0" stroke="#000" stroke-opacity="0.8" stroke-width="1.0" fill="none"/>
<path d="M621.1 96.5h1.2" stroke="#000" stroke-opacity="0.4" stroke-width="1.0" fill="none"/>
<path d="M623.2 96.5h0.7M624.4 96.5h1.3M626.2 96.5h0.7" stroke="#000" stroke-opacity="0.6" stroke-width="1.0" fill="none"/>
<path d="M619.4 99.5h0.7M621.9 99.5h0.4" stroke="#000" stroke-opacity="0.6" stroke-width="1.0" fill="none"/>
<path d="M620.7 99.5h0.7" stroke="#000" stroke-opacity="1.0" stroke-width="1.0" fill="none"/>
<path d="M623.2 99.5h0.9" stroke="#000" stroke-opacity="0.8" stroke-width="1.0" fill="none"/>
<path d="M624.7 99.5h1.1M626.2 99.5h0.7" stroke="#000" stroke-opacity="1.0" stroke-width="1.0" fill="none"/>
<path d="M619.4 102.5h1.0" stroke="#000" stroke-opacity="0.8" stroke-width="1.0" fill="none"/>
<path d="M620.9 102.5h0.6" stroke="#000" stroke-opacity="0.6" stroke-width="1.0" fill="none"/>
<path d="M623.2 102.5h1.3M626.0 102.5h0.9" stroke="#000" stroke-opacity="1.0" stroke-width="1.0" fill="none"/>
<path d="M624.9 102.5h0.8" stroke="#000" stroke-opacity="0.8" stroke-width="1.0" fill="none"/>
<path d="M619.4 104.5h1.0M622.0 104.5h0.3" stroke="#000" stroke-opacity="0.6" stroke-width="1.0" fill="none"/>
<path d="M620.7 104.5h0.6" stroke="#000" stroke-opacity="1.0" stroke-width="1.0" fill="none"/>
<path d="M623.2 104.5h1.0" stroke="#000" stroke-opacity="0.6" stroke-width="1.0" fill="none"/>
<path d="M624.9 104.5h1.3" stroke="#000" stroke-opacity="1.0" stroke-width="1.0" fill="none"/>
<path d="M626.6 104.5h0.3" stroke="#000" stroke-opacity="0.8" stroke-width="1.0" fill="none"/>
<path d="M619.4 107.5h1.0" stroke="#000" stroke-opacity="0.4" stroke-width="1.0" fill="none"/>
<path d="M621.2 107.5h1.0" stroke="#000" stroke-opacity="1.0" stroke-width="1.0" fill="none"/>
<path d="M623.2 107.5h1.0" stroke="#000" stroke-opacity="0.4" stroke-width="1.0" fill="none"/>
<path d="M624.7 107.5h1.2M626.4 107.5h0.5" stroke="#000" stroke-opacity="0.6" stroke-width="1.0" fill="none"/>
<path d="M619.4 110.5h0.9M621.9 110.5h0.4" stroke="#000" stroke-opacity="0.6" stroke-width="1.0" fill="none"/>
<path d="M620.9 110.5h0.7" stroke="#000" stroke-opacity="0.4" stroke-width="1.0" fill="none"/>
<path d="M623.2 110.5h1.4M625.0 110.5h0.8M626.3 110.5h0.6" stroke="#000" stroke-opacity="1.0" stroke-width="1.0" fill="none"/>
<path d="M619.4 125.5h0.9" stroke="#000" stroke-opacity="0.8" stroke-width="1.0" fill="none"/>
<path d="M620.7 125.5h0.8" stroke="#000" stroke-opacity="0.6" stroke-width="1.0" fill="none"/>
<path d="M621.9 125.5h0.4" stroke="#000" stroke-opacity="1.0" stroke-width="1.0" fill="none"/>
<path d="M623.2 125.5h1.0M624.9 125.5h0.8" stroke="#000" stroke-opacity="1.0" stroke-width="1.0" fill="none"/>
<path d="M626.1 125.5h0.8" stroke="#000" stroke-opacity="0.8" stroke-width="1.0" fill="none"/>
<path d="M619.4 127.5h1.0" stroke="#000" stroke-opacity="0.6" stroke-width="1.0" fill="none"/>
<path d="M620.8 127.5h1.2" stroke="#000" stroke-opacity="1.0" stroke-width="1.0" fill="none"/>
<path d="M623.2 127.5h0.9" stroke="#000" stroke-opacity="0.6" stroke-width="1.0" fill="none"/>
<path d="M624.5 127.5h1.0" stroke="#000" stroke-opacity="0.8" stroke-width="1.0" fill="none"/>
<path d="M626.0 127.5h0.9" stroke="#000" stroke-opacity="1.0" stroke-width="1.0" fill="none"/>
<path d="M619.4 130.5h0.8" stroke="#000" stroke-opacity="0.4" stroke-width="1.0" fill="none"/>
<path d="M620.7 130.5h0.8" stroke="#000" stroke-opacity="0.8" stroke-width="1.0" fill="none"/>
<path d="M623.2 130.5h0.7M625.9 130.5h1.0" stroke="#000" stroke-opacity="0.6" stroke-width="1.0" fill="none"/>
<path d="M624.5 130.5h1.1" stroke="#000" stroke-opacity="1.0" stroke-width="1.0" fill="none"/>
<path d="M619.4 133.5h1.1" stroke="#000" stroke-opacity="0.6" stroke-width="1.0" fill="none"/>
<path d="M621.1 133.5h1.2" stroke="#000" stroke-opacity="1.0" stroke-width="1.0" fill="none"/>
<path d="M623.2 133.5h0.8M624.5 133.5h1.3M626.2 133.5h0.7" stroke="#000" stroke-opacity="0.6" stroke-width="1.0" fill="none"/>
<path d="M619.4 135.5h0.7" stroke="#000" stroke-opacity="1.0" stroke-width="1.0" fill="none"/>
<path d="M620.8 135.5h1.2" stroke="#000" stroke-opacity="0.6" stroke-width="1.0" fill="none"/>
<path d="M623.2 135.5h0.8" stroke="#000" stroke-opacity="0.6" stroke-width="1.0" fill="none"/>
<path d="M624.5 135.5h0.8" stroke="#000" stroke-opacity="1.0" stroke-width="1.0" fill="none"/>
<path d="M626.0 135.5h0.9" stroke="#000" stroke-opacity="0.8" stroke-width="1.0" fill="none"/>
<path d="M619.4 138.5h1.1" stroke="#000" stroke-opacity="1.0" stroke-width="1.0" fill="none"/>
<path d="M620.9 138.5h0.8" stroke="#000" stroke-opacity="0.8" stroke-width="1.0" fill="none"/>
<path d="M623.2 138.5h1.1M624.9 138.5h0.9M626.5 138.5h0.4" stroke="#000" stroke-opacity="1.0" stroke-width="1.0" fill="none"/>
<path d="M619.4 141.5h0.9M622.0 141.5h0.3" stroke="#000" stroke-opacity="0.4" stroke-width="1.0" fill="none"/>
<path d="M620.7 141.5h0.6" stroke="#000" stroke-opacity="0.8" stroke-width="1.0" fill="none"/>
<path d="M623.2 141.5h1.2" stroke="#000" stroke-opacity="0.8" stroke-width="1.0" fill="none"/>
<path d="M624.7 141.5h1.3" stroke="#000" stroke-opacity="0.6" stroke-width="1.0" fill="none"/>
<path d="M626.5 141.5h0.4" stroke="#000" stroke-opacity="1.0" stroke-width="1.0" fill="none"/>
<path d="M619.4 143.5h1.2" stroke="#000" stroke-opacity="0.4" stroke-width="1.0" fill="none"/>
<path d="M621.3 143.5h1.0" stroke="#000" stroke-opacity="0.6" stroke-width="1.0" fill="none"/>
<path d="M623.2 143.5h1.0" stroke="#000" stroke-opacity="0.8" stroke-width="1.0" fill="none"/>
<path d="M624.7 143.5h1.3" stroke="#000" stroke-opacity="0.6" stroke-width="1.0" fill="none"/>
<path d="M626.6 143.5h0.3" stroke="#000" stroke-opacity="1.0" stroke-width="1.0" fill="none"/>
<path d="M619.4 146.5h1.0" stroke="#000" stroke-opacity="0.8" stroke-width="1.0" fill="none"/>
<path d="M620.9 146.5h0.8" stroke="#000" stroke-opacity="0.6" stroke-width="1.0" fill="none"/>
<path d="M623.2 146.5h1.1" stroke="#000" stroke-opacity="0.6" stroke-width="1.0" fill="none"/>
<path d="M624.7 146.5h1.0" stroke="#000" stroke-opacity="0.4" stroke-width="1.0" fill="none"/>
<path d="M626.3 146.5h0.6" stroke="#000" stroke-opacity="1.0" stroke-width="1.0" fill="none"/>
<path d="M620.5 149.5h0.7M621.7 149.5h0.9M623.1 149.5h0.8M626.1 149.5h0.8" stroke="#000" stroke-opacity="0.4" stroke-width="1.0" fill="none"/>
<path d="M624.6 149.5h1.1" stroke="#000" stroke-opacity="0.6" stroke-width="1.0" fill="none"/>
<path d="M620.5 151.5h1.0M622.0 151.5h0.6M623.3 151.5h0.9M624.9 151.5h1.0" stroke="#000" stroke-opacity="0.6" stroke-width="1.0" fill="none"/>
<path d="M626.4 151.5h0.5" stroke="#000" stroke-opacity="0.8" stroke-width="1.0" fill="none"/>
<path d="M620.5 154.5h0.6M621.5 154.5h1.2" stroke="#000" stroke-opacity="0.4" stroke-width="1.0" fill="none"/>
<path d="M623.1 154.5h1.1M624.7 154.5h1.2" stroke="#000" stroke-opacity="0.8" stroke-width="1.0" fill="none"/>
<path d="M626.4 154.5h0.5" stroke="#000" stroke-opacity="0.6" stroke-width="1.0" fill="none"/>
<path d="M619.4 157.5h1.1" stroke="#000" stroke-opacity="0.4" stroke-width="1.0" fill="none"/>
<path d="M620.9 157.5h0.9" stroke="#000" stroke-opacity="0.2" stroke-width="1.0" fill="none"/>
<path d="M623.2 157.5h1.3M625.8 157.5h1.0" stroke="#000" stroke-opacity="0.4" stroke-width="1.0" fill="none"/>
<path d="M624.8 157.5h0.8" stroke="#000" stroke-opacity="0.8" stroke-width="1.0" fill="none"/>
<path d="M619.4 159.5h1.0" stroke="#000" stroke-opacity="0.4" stroke-width="1.0" fill="none"/>
<path d="M620.9 159.5h1.2" stroke="#000" stroke-opacity="0.6" stroke-width="1.0" fill="none"/>
<path d="M623.2 159.5h1.1M626.2 159.5h0.7" stroke="#000" stroke-opacity="0.8" stroke-width="1.0" fill="none"/>
<path d="M624.8 159.5h0.8" stroke="#000" stroke-opacity="0.6" stroke-width="1.0" fill="none"/>
<path d="M619.4 162.5h0.8M621.9 162.5h0.4" stroke="#000" stroke-opacity="0.4" stroke-width="1.0" fill="none"/>
<path d="M620.8 162.5h0.7" stroke="#000" stroke-opacity="0.6" stroke-width="1.0" fill="none"/>
<path d="M623.2 162.5h1.2M624.9 162.5h1.2" stroke="#000" stroke-opacity="0.8" stroke-width="1.0" fill="none"/>
<path d="M626.5 162.5h0.4" stroke="#000" stroke-opacity="0.4" stroke-width="1.0" fill="none"/>
<path d="M619.4 165.5h1.1M620.9 165.5h0.7" stroke="#000" stroke-opacity="0.6" stroke-width="1.0" fill="none"/>
<path d="M621.9 165.5h0.4" stroke="#000" stroke-opacity="0.4" stroke-width="1.0" fill="none"/>
<path d="M623.2 165.5h0.9M626.5 165.5h0.4" stroke="#000" stroke-opacity="0.6" stroke-width="1.0" fill="none"/>
<path d="M624.6 165.5h1.2" stroke="#000" stroke-opacity="0.8" stroke-width="1.0" fill="none"/>
<path d="M619.4 167.5h1.2M621.2 167.5h1.1" stroke="#000" stroke-opacity="0.6" stroke-width="1.0" fill="none"/>
<path d="M623.2 167.5h1.3M626.6 167.5h0.3" stroke="#000" stroke-opacity="0.4" stroke-width="1.0" fill="none"/>
<path d="M624.9 167.5h1.2" stroke="#000" stroke-opacity="0.8" stroke-width="1.0" fill="none"/>
<path d="M619.4 170.5h0.9" stroke="#000" stroke-opacity="0.2" stroke-width="1.0" fill="none"/>
<path d="M621.1 170.5h1.1" stroke="#000" stroke-opacity="0.4" stroke-width="1.0" fill="none"/>
<path d="M623.2 170.5h1.2M626.3 170.5h0.6" stroke="#000" stroke-opacity="0.6" stroke-width="1.0" fill="none"/>
<path d="M624.7 170.5h1.2" stroke="#000" stroke-opacity="0.4" stroke-width="1.0" fill="none"/>
<path d="M619.4 173.5h0.7M621.4 173.5h0.8" stroke="#000" stroke-opacity="0.6" stroke-width="1.0" fill="none"/>
<path d="M620.4 173.5h0.6" stroke="#000" stroke-opacity="0.4" stroke-width="1.0" fill="none"/>
<path d="M623.2 173.5h0.9M626.6 173.5h0.3" stroke="#000" stroke-opacity="0.4" stroke-width="1.0" fill="none"/>
<path d="M624.8 173.5h1.1" stroke="#000" stroke-opacity="0.6" stroke-width="1.0" fill="none"/>
<text x="629.0" y="114.3" font-family="Liberation Sans" font-size="4.2" font-weight="normal" fill="#000" fill-opacity="0.6" text-anchor="middle">2</text>
<text x="645.2" y="114.3" font-family="Liberation Sans" font-size="4.2" font-weight="normal" fill="#000" fill-opacity="0.6" text-anchor="middle">4</text>
<text x="661.4" y="114.3" font-family="Liberation Sans" font-size="4.2" font-weight="normal" fill="#000" fill-opacity="0.9" text-anchor="middle">6</text>
<text x="677.6" y="114.3" font-family="Liberation Sans" font-size="4.2" font-weight="normal" fill="#000" fill-opacity="0.9" text-anchor="middle">8</text>
<text x="693.8" y="114.3" font-family="Liberation Sans" font-size="4.2" font-weight="normal" fill="#000" fill-opacity="0.9" text-anchor="middle">10</text>
<text x="710.0" y="114.3" font-family="Liberation Sans" font-size="4.2" font-weight="normal" fill="#000" fill-opacity="0.9" text-anchor="middle">12</text>
<text x="726.2" y="114.3" font-family="Liberation Sans" font-size="4.2" font-weight="normal" fill="#000" fill-opacity="0.6" text-anchor="middle">14</text>
<text x="742.4" y="114.3" font-family="Liberation Sans" font-size="4.2" font-weight="normal" fill="#000" fill-opacity="0.6" text-anchor="middle">16</text>
<text x="758.6" y="114.3" font-family="Liberation Sans" font-size="4.2" font-weight="normal" fill="#000" fill-opacity="0.6" text-anchor="middle">18</text>
<text x="774.8" y="114.3" font-family="Liberation Sans" font-size="4.2" font-weight="normal" fill="#000" fill-opacity="0.9" text-anchor="middle">20</text>
<text x="700.6" y="120.4" font-family="Liberation Sans" font-size="3.8" font-weight="normal" fill="#000" fill-opacity="0.55" text-anchor="middle">Period, s</text>
<path d="M774.5 60V107.5M774.5 127V174.7" stroke="#000" stroke-width="1" shape-rendering="crispEdges"/>
<path d="M661.5 60.5v1.5M661.5 105.5v2M653.5 127v1.5M653.5 173v2.5" stroke="#000" stroke-width="1" stroke-opacity="0.8"/>
<path d="M686 60h1v1h-1zM686 61h1v1h-1zM686 62h1v1h-1zM686 63h1v1h-1zM687 60h1v1h-1zM687 61h1v1h-1zM687 62h1v1h-1zM687 63h1v1h-1zM688 61h1v1h-1zM688 62h1v1h-1zM688 63h1v1h-1zM689 60h1v1h-1zM689 61h1v1h-1zM689 62h1v1h-1zM689 63h1v1h-1zM690 61h1v1h-1zM690 63h1v1h-1zM691 61h1v1h-1zM691 62h1v1h-1zM691 63h1v1h-1zM691 64h1v1h-1zM692 61h1v1h-1zM692 62h1v1h-1zM693 61h1v1h-1zM693 62h1v1h-1zM693 64h1v1h-1zM694 61h1v1h-1zM695 60h1v1h-1zM695 61h1v1h-1zM695 62h1v1h-1zM695 64h1v1h-1zM696 60h1v1h-1zM696 61h1v1h-1zM696 62h1v1h-1zM696 63h1v1h-1zM696 64h1v1h-1zM697 61h1v1h-1zM697 62h1v1h-1zM697 63h1v1h-1zM697 64h1v1h-1zM698 60h1v1h-1zM698 61h1v1h-1zM698 62h1v1h-1zM698 63h1v1h-1zM699 61h1v1h-1zM699 63h1v1h-1zM700 61h1v1h-1zM700 62h1v1h-1zM700 63h1v1h-1zM700 64h1v1h-1zM701 60h1v1h-1zM701 61h1v1h-1zM701 62h1v1h-1zM701 63h1v1h-1zM702 62h1v1h-1zM702 64h1v1h-1zM703 60h1v1h-1zM703 61h1v1h-1zM703 62h1v1h-1zM703 63h1v1h-1zM703 64h1v1h-1zM704 60h1v1h-1zM704 62h1v1h-1zM704 63h1v1h-1zM704 64h1v1h-1zM705 60h1v1h-1zM705 63h1v1h-1zM705 64h1v1h-1zM706 61h1v1h-1zM706 62h1v1h-1zM706 63h1v1h-1zM706 64h1v1h-1zM707 61h1v1h-1zM707 62h1v1h-1zM708 60h1v1h-1zM708 61h1v1h-1zM708 62h1v1h-1zM708 63h1v1h-1zM708 64h1v1h-1zM709 61h1v1h-1zM709 62h1v1h-1zM710 61h1v1h-1zM710 63h1v1h-1zM711 60h1v1h-1zM711 61h1v1h-1zM711 62h1v1h-1zM711 63h1v1h-1zM712 62h1v1h-1zM712 63h1v1h-1zM712 64h1v1h-1zM713 61h1v1h-1zM713 62h1v1h-1zM713 63h1v1h-1zM714 60h1v1h-1zM714 61h1v1h-1zM714 62h1v1h-1zM714 63h1v1h-1zM715 62h1v1h-1zM715 64h1v1h-1zM716 60h1v1h-1zM716 61h1v1h-1zM716 62h1v1h-1zM716 63h1v1h-1zM716 64h1v1h-1zM717 61h1v1h-1zM717 62h1v1h-1zM717 63h1v1h-1zM718 60h1v1h-1zM718 61h1v1h-1zM718 62h1v1h-1zM718 63h1v1h-1zM719 61h1v1h-1zM719 62h1v1h-1zM719 63h1v1h-1zM719 64h1v1h-1zM720 60h1v1h-1zM720 61h1v1h-1zM720 62h1v1h-1zM720 63h1v1h-1zM721 60h1v1h-1zM721 61h1v1h-1zM721 62h1v1h-1zM722 60h1v1h-1zM722 61h1v1h-1zM722 63h1v1h-1zM722 64h1v1h-1zM723 60h1v1h-1zM723 61h1v1h-1zM723 62h1v1h-1zM723 63h1v1h-1zM724 61h1v1h-1zM724 62h1v1h-1zM724 64h1v1h-1zM725 60h1v1h-1zM725 61h1v1h-1zM725 62h1v1h-1zM725 64h1v1h-1zM726 62h1v1h-1zM727 61h1v1h-1zM727 62h1v1h-1zM727 63h1v1h-1zM728 60h1v1h-1zM728 61h1v1h-1zM728 63h1v1h-1zM730 61h1v1h-1zM730 63h1v1h-1zM731 60h1v1h-1zM731 61h1v1h-1zM731 62h1v1h-1zM732 60h1v1h-1zM733 62h1v1h-1zM734 60h1v1h-1zM734 61h1v1h-1z" fill="#0000ff" shape-rendering="crispEdges"/>
<path d="M744 60h1v1h-1zM746 59h1v1h-1zM740 61h1v1h-1zM747 60h1v1h-1z" fill="#0000ff" shape-rendering="crispEdges"/>
<path d="M683 98h1v1h-1zM683 99h1v1h-1zM683 100h1v1h-1zM683 101h1v1h-1zM683 102h1v1h-1zM683 103h1v1h-1zM683 104h1v1h-1zM683 105h1v1h-1zM683 106h1v1h-1zM684 100h1v1h-1zM684 101h1v1h-1zM684 102h1v1h-1zM684 103h1v1h-1zM684 104h1v1h-1zM684 105h1v1h-1zM684 106h1v1h-1zM684 107h1v1h-1zM685 99h1v1h-1zM685 100h1v1h-1zM685 101h1v1h-1zM685 102h1v1h-1zM685 103h1v1h-1zM685 104h1v1h-1zM685 105h1v1h-1zM685 106h1v1h-1zM685 107h1v1h-1zM686 100h1v1h-1zM686 101h1v1h-1zM686 102h1v1h-1zM686 103h1v1h-1zM686 104h1v1h-1zM686 105h1v1h-1zM686 106h1v1h-1zM687 100h1v1h-1zM687 101h1v1h-1zM687 102h1v1h-1zM687 103h1v1h-1zM687 104h1v1h-1zM687 105h1v1h-1zM687 106h1v1h-1zM688 100h1v1h-1zM688 101h1v1h-1zM688 102h1v1h-1zM688 103h1v1h-1zM688 104h1v1h-1zM688 105h1v1h-1zM688 106h1v1h-1zM688 107h1v1h-1zM689 99h1v1h-1zM689 100h1v1h-1zM689 101h1v1h-1zM689 102h1v1h-1zM689 103h1v1h-1zM689 104h1v1h-1zM689 105h1v1h-1zM689 106h1v1h-1zM690 99h1v1h-1zM690 100h1v1h-1zM690 101h1v1h-1zM690 102h1v1h-1zM690 103h1v1h-1zM690 104h1v1h-1zM690 106h1v1h-1zM691 99h1v1h-1zM691 100h1v1h-1zM691 101h1v1h-1zM691 102h1v1h-1zM691 103h1v1h-1zM691 104h1v1h-1zM691 105h1v1h-1zM691 106h1v1h-1zM691 107h1v1h-1zM692 101h1v1h-1zM692 102h1v1h-1zM692 103h1v1h-1zM692 104h1v1h-1zM692 105h1v1h-1zM692 106h1v1h-1zM693 101h1v1h-1zM693 102h1v1h-1zM693 103h1v1h-1zM693 104h1v1h-1zM693 105h1v1h-1zM693 106h1v1h-1zM693 107h1v1h-1zM694 100h1v1h-1zM694 101h1v1h-1zM694 102h1v1h-1zM694 103h1v1h-1zM694 104h1v1h-1zM694 105h1v1h-1zM694 106h1v1h-1zM694 107h1v1h-1zM695 101h1v1h-1zM695 102h1v1h-1zM695 103h1v1h-1zM695 104h1v1h-1zM695 105h1v1h-1zM695 106h1v1h-1zM696 101h1v1h-1zM696 102h1v1h-1zM696 103h1v1h-1zM696 104h1v1h-1zM696 105h1v1h-1zM696 106h1v1h-1zM696 107h1v1h-1zM697 101h1v1h-1zM697 102h1v1h-1zM697 103h1v1h-1zM697 104h1v1h-1zM697 105h1v1h-1zM697 106h1v1h-1zM697 107h1v1h-1zM698 100h1v1h-1zM698 101h1v1h-1zM698 102h1v1h-1zM698 104h1v1h-1zM698 105h1v1h-1zM698 106h1v1h-1zM699 100h1v1h-1zM699 101h1v1h-1zM699 102h1v1h-1zM699 103h1v1h-1zM699 104h1v1h-1zM699 105h1v1h-1zM699 107h1v1h-1zM700 101h1v1h-1zM700 102h1v1h-1zM700 103h1v1h-1zM700 104h1v1h-1zM700 105h1v1h-1zM700 106h1v1h-1zM700 107h1v1h-1zM701 102h1v1h-1zM701 103h1v1h-1zM701 104h1v1h-1zM701 105h1v1h-1zM701 106h1v1h-1zM702 101h1v1h-1zM702 102h1v1h-1zM702 103h1v1h-1zM702 104h1v1h-1zM702 105h1v1h-1zM702 107h1v1h-1zM703 101h1v1h-1zM703 103h1v1h-1zM703 105h1v1h-1zM703 106h1v1h-1zM704 101h1v1h-1zM704 102h1v1h-1zM704 104h1v1h-1zM704 105h1v1h-1zM704 106h1v1h-1zM705 102h1v1h-1zM705 103h1v1h-1zM705 104h1v1h-1zM705 105h1v1h-1zM705 106h1v1h-1zM705 107h1v1h-1zM706 103h1v1h-1zM706 107h1v1h-1zM707 101h1v1h-1zM707 103h1v1h-1zM707 104h1v1h-1zM707 106h1v1h-1zM707 107h1v1h-1zM708 102h1v1h-1zM708 104h1v1h-1zM708 105h1v1h-1zM708 107h1v1h-1zM708 108h1v1h-1zM709 103h1v1h-1zM709 105h1v1h-1zM709 107h1v1h-1zM710 102h1v1h-1zM710 104h1v1h-1zM710 105h1v1h-1zM710 107h1v1h-1zM711 103h1v1h-1zM712 102h1v1h-1zM712 105h1v1h-1zM712 106h1v1h-1zM712 107h1v1h-1zM713 102h1v1h-1zM713 104h1v1h-1zM713 105h1v1h-1zM713 106h1v1h-1zM714 102h1v1h-1zM714 103h1v1h-1zM714 105h1v1h-1zM714 106h1v1h-1zM715 102h1v1h-1zM715 103h1v1h-1zM715 104h1v1h-1zM715 105h1v1h-1zM715 106h1v1h-1zM715 107h1v1h-1zM715 108h1v1h-1zM716 103h1v1h-1zM716 104h1v1h-1zM716 105h1v1h-1zM716 106h1v1h-1zM716 107h1v1h-1zM717 104h1v1h-1zM717 105h1v1h-1zM717 107h1v1h-1zM718 103h1v1h-1zM718 104h1v1h-1zM718 105h1v1h-1zM718 106h1v1h-1zM718 107h1v1h-1zM719 104h1v1h-1zM719 105h1v1h-1zM719 108h1v1h-1zM720 104h1v1h-1zM720 105h1v1h-1zM720 106h1v1h-1zM720 107h1v1h-1zM721 103h1v1h-1zM721 104h1v1h-1zM721 105h1v1h-1zM721 106h1v1h-1zM721 107h1v1h-1zM722 103h1v1h-1zM722 104h1v1h-1zM722 105h1v1h-1zM722 106h1v1h-1zM723 106h1v1h-1zM723 107h1v1h-1zM724 105h1v1h-1zM724 106h1v1h-1zM725 105h1v1h-1zM725 106h1v1h-1zM725 107h1v1h-1zM725 108h1v1h-1zM726 104h1v1h-1zM726 105h1v1h-1zM726 107h1v1h-1zM727 104h1v1h-1zM727 105h1v1h-1zM728 104h1v1h-1zM728 105h1v1h-1zM728 106h1v1h-1zM728 107h1v1h-1zM728 108h1v1h-1zM729 104h1v1h-1zM729 105h1v1h-1zM729 106h1v1h-1zM730 104h1v1h-1zM730 105h1v1h-1zM730 107h1v1h-1zM731 105h1v1h-1zM731 106h1v1h-1zM732 105h1v1h-1zM732 106h1v1h-1zM732 107h1v1h-1zM732 108h1v1h-1zM733 106h1v1h-1z" fill="#0000ff" shape-rendering="crispEdges"/>
<path d="M735 106h1v1h-1zM737 106h1v1h-1zM738 106h1v1h-1zM741 106h1v1h-1zM743 106h1v1h-1zM745 106h1v1h-1zM677 93h1v1h-1zM678 94h1v1h-1z" fill="#0000ff" shape-rendering="crispEdges"/>
<path d="M660 99h1v1h-1zM661 100h1v1h-1zM663 99h1v1h-1zM663 100h1v1h-1zM664 98h1v1h-1zM664 99h1v1h-1zM664 100h1v1h-1zM665 98h1v1h-1zM665 99h1v1h-1zM665 100h1v1h-1zM666 95h1v1h-1zM666 96h1v1h-1zM666 97h1v1h-1zM666 98h1v1h-1zM666 99h1v1h-1zM666 100h1v1h-1zM667 96h1v1h-1zM667 97h1v1h-1zM667 98h1v1h-1zM667 99h1v1h-1zM667 100h1v1h-1zM668 96h1v1h-1zM668 97h1v1h-1zM668 98h1v1h-1zM668 99h1v1h-1zM668 100h1v1h-1zM669 96h1v1h-1zM669 97h1v1h-1zM669 98h1v1h-1zM669 99h1v1h-1zM669 100h1v1h-1zM669 101h1v1h-1zM670 95h1v1h-1zM670 96h1v1h-1zM670 97h1v1h-1zM670 98h1v1h-1zM670 99h1v1h-1zM670 100h1v1h-1zM670 101h1v1h-1zM670 102h1v1h-1zM671 95h1v1h-1zM671 96h1v1h-1zM671 97h1v1h-1zM671 98h1v1h-1zM671 99h1v1h-1zM671 100h1v1h-1zM671 101h1v1h-1zM671 102h1v1h-1zM672 95h1v1h-1zM672 96h1v1h-1zM672 97h1v1h-1zM672 98h1v1h-1zM672 99h1v1h-1zM672 100h1v1h-1zM672 101h1v1h-1zM673 95h1v1h-1zM673 96h1v1h-1zM673 97h1v1h-1zM673 98h1v1h-1zM673 99h1v1h-1zM673 100h1v1h-1zM673 101h1v1h-1zM673 102h1v1h-1zM674 95h1v1h-1zM674 96h1v1h-1zM674 97h1v1h-1zM674 98h1v1h-1zM674 99h1v1h-1zM674 100h1v1h-1zM674 101h1v1h-1zM674 102h1v1h-1zM675 95h1v1h-1zM675 96h1v1h-1zM675 97h1v1h-1zM675 98h1v1h-1zM675 99h1v1h-1zM675 100h1v1h-1zM675 101h1v1h-1zM675 102h1v1h-1zM676 95h1v1h-1zM676 96h1v1h-1zM676 97h1v1h-1zM676 98h1v1h-1zM676 99h1v1h-1zM676 100h1v1h-1zM676 101h1v1h-1zM676 102h1v1h-1zM677 96h1v1h-1zM677 97h1v1h-1zM677 98h1v1h-1zM677 99h1v1h-1zM677 100h1v1h-1zM677 101h1v1h-1zM677 102h1v1h-1zM678 97h1v1h-1zM678 98h1v1h-1zM678 99h1v1h-1zM678 100h1v1h-1zM678 101h1v1h-1zM679 96h1v1h-1zM679 97h1v1h-1zM679 98h1v1h-1zM679 99h1v1h-1zM679 100h1v1h-1zM679 101h1v1h-1zM679 102h1v1h-1zM680 97h1v1h-1zM680 98h1v1h-1zM680 99h1v1h-1zM680 100h1v1h-1zM680 101h1v1h-1zM681 97h1v1h-1zM681 98h1v1h-1zM681 99h1v1h-1zM681 100h1v1h-1zM681 101h1v1h-1zM681 102h1v1h-1zM682 98h1v1h-1zM682 99h1v1h-1zM682 100h1v1h-1zM682 101h1v1h-1zM682 102h1v1h-1zM683 97h1v1h-1zM683 98h1v1h-1zM683 99h1v1h-1zM683 100h1v1h-1zM683 101h1v1h-1zM684 98h1v1h-1zM684 99h1v1h-1zM684 100h1v1h-1zM684 101h1v1h-1zM684 102h1v1h-1zM685 99h1v1h-1zM685 100h1v1h-1zM685 101h1v1h-1zM685 102h1v1h-1zM686 98h1v1h-1zM686 99h1v1h-1zM686 100h1v1h-1zM687 99h1v1h-1zM688 100h1v1h-1z" fill="#ff0000" shape-rendering="crispEdges"/>
<path d="M668 97h1v1h-1zM669 96h1v1h-1zM670 96h1v1h-1zM671 95h1v1h-1zM672 95h1v1h-1zM675 95h1v1h-1zM676 94h1v1h-1zM677 95h1v1h-1zM679 96h1v1h-1zM680 95h1v1h-1zM681 95h1v1h-1zM682 95h1v1h-1zM684 97h1v1h-1zM685 96h1v1h-1zM686 96h1v1h-1zM688 96h1v1h-1zM690 97h1v1h-1zM690 98h1v1h-1z" fill="#0000ff" shape-rendering="crispEdges"/>
<path d="M668 102h1v1h-1zM669 101h1v1h-1zM670 101h1v1h-1zM670 102h1v1h-1zM674 101h1v1h-1zM681 102h1v1h-1zM683 102h1v1h-1z" fill="#0000ff" shape-rendering="crispEdges"/>
<path d="M744 65h1v1h-1z" fill="#0000ff" shape-rendering="crispEdges"/>
<path d="M744 70h1v1h-1z" fill="#ff0000" shape-rendering="crispEdges"/>
<text x="752.7" y="66.7" font-family="Liberation Sans" font-size="3.8" font-weight="bold" fill="#000" fill-opacity="0.95" textLength="9" lengthAdjust="spacingAndGlyphs">Swell</text>
<text x="752.7" y="71.9" font-family="Liberation Sans" font-size="3.8" font-weight="bold" fill="#000" fill-opacity="0.95" textLength="16" lengthAdjust="spacingAndGlyphs">Wind Sea</text>
<path d="M744 132h1v1h-1z" fill="#0000ff" shape-rendering="crispEdges"/>
<path d="M744 137h1v1h-1z" fill="#ff0000" shape-rendering="crispEdges"/>
<text x="752.7" y="133.70000000000002" font-family="Liberation Sans" font-size="3.8" font-weight="bold" fill="#000" fill-opacity="0.95" textLength="9" lengthAdjust="spacingAndGlyphs">Swell</text>
<text x="752.7" y="138.9" font-family="Liberation Sans" font-size="3.8" font-weight="bold" fill="#000" fill-opacity="0.95" textLength="16" lengthAdjust="spacingAndGlyphs">Wind Sea</text>
<text x="629" y="181.0" font-family="Liberation Sans" font-size="4.4" font-weight="normal" fill="#000" fill-opacity="0.9" text-anchor="middle">0</text>
<text x="653.3" y="181.0" font-family="Liberation Sans" font-size="4.4" font-weight="normal" fill="#000" fill-opacity="0.9" text-anchor="middle">1</text>
<text x="677.6" y="181.0" font-family="Liberation Sans" font-size="4.4" font-weight="normal" fill="#000" fill-opacity="0.9" text-anchor="middle">2</text>
<text x="701.9" y="181.0" font-family="Liberation Sans" font-size="4.4" font-weight="normal" fill="#000" fill-opacity="0.9" text-anchor="middle">3</text>
<text x="726.2" y="181.0" font-family="Liberation Sans" font-size="4.4" font-weight="normal" fill="#000" fill-opacity="0.9" text-anchor="middle">4</text>
<text x="750.3" y="181.0" font-family="Liberation Sans" font-size="4.4" font-weight="normal" fill="#000" fill-opacity="0.9" text-anchor="middle">5</text>
<text x="774.7" y="181.0" font-family="Liberation Sans" font-size="4.4" font-weight="normal" fill="#000" fill-opacity="0.9" text-anchor="middle">6</text>
<text x="701.7" y="187.0" font-family="Liberation Sans" font-size="5.0" font-weight="normal" fill="#000" fill-opacity="0.9" text-anchor="middle">Hs, m</text>
<path d="M629 166h1v1h-1zM630 166h1v1h-1z" fill="#333" shape-rendering="crispEdges"/>
<path d="M613 110h1v1h-1zM613 177h1v1h-1z" fill="#333" shape-rendering="crispEdges"/>
<path d="M757 127h1v1h-1zM757 128h1v1h-1zM759 128h1v1h-1zM760 128h1v1h-1zM761 127h1v1h-1zM761 128h1v1h-1zM762 127h1v1h-1zM763 127h1v1h-1zM764 128h1v1h-1zM764 129h1v1h-1zM765 127h1v1h-1zM766 127h1v1h-1zM766 128h1v1h-1zM766 129h1v1h-1zM767 127h1v1h-1zM767 128h1v1h-1zM767 129h1v1h-1zM768 127h1v1h-1zM768 128h1v1h-1zM768 129h1v1h-1zM769 129h1v1h-1zM770 128h1v1h-1zM770 129h1v1h-1zM771 127h1v1h-1zM771 128h1v1h-1zM772 129h1v1h-1zM773 128h1v1h-1zM773 129h1v1h-1z" fill="#0000ff" shape-rendering="crispEdges"/>
<path d="M731 127h1v1h-1zM733 127h1v1h-1zM735 127h1v1h-1zM737 127h1v1h-1zM739 127h1v1h-1zM745 128h1v1h-1zM746 128h1v1h-1zM772 131h1v1h-1zM773 131h1v1h-1z" fill="#0000ff" shape-rendering="crispEdges"/>
<path d="M749 172h1v1h-1zM750 165h1v1h-1zM750 167h1v1h-1zM750 169h1v1h-1zM750 170h1v1h-1zM750 171h1v1h-1zM750 172h1v1h-1zM750 173h1v1h-1zM750 174h1v1h-1zM751 170h1v1h-1zM751 171h1v1h-1zM751 172h1v1h-1zM751 173h1v1h-1zM751 174h1v1h-1zM752 166h1v1h-1zM752 169h1v1h-1zM752 170h1v1h-1zM752 171h1v1h-1zM752 172h1v1h-1zM753 166h1v1h-1zM753 168h1v1h-1zM753 169h1v1h-1zM753 170h1v1h-1zM753 172h1v1h-1zM753 174h1v1h-1zM754 164h1v1h-1zM754 165h1v1h-1zM754 166h1v1h-1zM754 169h1v1h-1zM754 170h1v1h-1zM755 170h1v1h-1zM756 168h1v1h-1zM756 169h1v1h-1zM756 172h1v1h-1zM756 173h1v1h-1zM757 164h1v1h-1zM757 167h1v1h-1zM757 168h1v1h-1zM757 169h1v1h-1zM757 173h1v1h-1zM757 174h1v1h-1zM758 165h1v1h-1zM758 166h1v1h-1zM758 167h1v1h-1zM758 169h1v1h-1zM758 172h1v1h-1zM758 174h1v1h-1zM759 164h1v1h-1zM759 165h1v1h-1zM759 166h1v1h-1zM759 167h1v1h-1zM759 170h1v1h-1zM759 171h1v1h-1zM759 172h1v1h-1zM760 164h1v1h-1zM760 167h1v1h-1zM760 168h1v1h-1zM760 170h1v1h-1zM760 174h1v1h-1zM761 164h1v1h-1zM761 165h1v1h-1zM761 166h1v1h-1zM761 168h1v1h-1zM761 169h1v1h-1zM761 170h1v1h-1zM761 171h1v1h-1zM761 172h1v1h-1zM761 173h1v1h-1zM762 167h1v1h-1zM762 169h1v1h-1zM762 170h1v1h-1zM762 171h1v1h-1zM762 172h1v1h-1zM762 173h1v1h-1zM763 164h1v1h-1zM763 165h1v1h-1zM763 168h1v1h-1zM763 169h1v1h-1zM763 170h1v1h-1zM763 171h1v1h-1zM763 172h1v1h-1zM764 164h1v1h-1zM764 165h1v1h-1zM764 170h1v1h-1zM764 171h1v1h-1zM764 172h1v1h-1zM764 173h1v1h-1zM765 164h1v1h-1zM765 165h1v1h-1zM765 166h1v1h-1zM765 167h1v1h-1zM765 171h1v1h-1zM765 174h1v1h-1zM766 163h1v1h-1zM766 164h1v1h-1zM766 165h1v1h-1zM766 166h1v1h-1zM766 168h1v1h-1zM766 170h1v1h-1zM766 172h1v1h-1zM766 174h1v1h-1zM767 164h1v1h-1zM767 165h1v1h-1zM767 166h1v1h-1zM767 167h1v1h-1zM767 168h1v1h-1zM767 169h1v1h-1zM767 170h1v1h-1zM767 171h1v1h-1zM767 172h1v1h-1zM768 165h1v1h-1zM768 167h1v1h-1zM768 168h1v1h-1zM768 169h1v1h-1zM768 170h1v1h-1zM768 171h1v1h-1zM768 172h1v1h-1zM768 173h1v1h-1zM768 174h1v1h-1zM769 165h1v1h-1zM769 166h1v1h-1zM769 167h1v1h-1zM769 168h1v1h-1zM769 169h1v1h-1zM769 171h1v1h-1zM769 172h1v1h-1zM770 163h1v1h-1zM770 164h1v1h-1zM770 165h1v1h-1zM770 166h1v1h-1zM770 167h1v1h-1zM770 168h1v1h-1zM770 169h1v1h-1zM770 170h1v1h-1zM770 171h1v1h-1zM771 163h1v1h-1zM771 166h1v1h-1zM771 167h1v1h-1zM771 169h1v1h-1zM771 171h1v1h-1zM771 173h1v1h-1zM772 163h1v1h-1zM772 164h1v1h-1zM772 165h1v1h-1zM772 166h1v1h-1zM772 167h1v1h-1zM772 168h1v1h-1zM772 169h1v1h-1zM772 170h1v1h-1zM772 171h1v1h-1zM772 172h1v1h-1zM772 173h1v1h-1zM772 174h1v1h-1zM773 164h1v1h-1zM773 165h1v1h-1zM773 166h1v1h-1zM773 167h1v1h-1zM773 168h1v1h-1zM773 169h1v1h-1zM773 170h1v1h-1zM773 174h1v1h-1zM774 163h1v1h-1zM774 165h1v1h-1zM774 167h1v1h-1zM774 168h1v1h-1zM774 169h1v1h-1zM774 170h1v1h-1zM774 172h1v1h-1zM774 173h1v1h-1z" fill="#0000ff" shape-rendering="crispEdges"/>
<path d="M733 165h1v1h-1zM735 165h1v1h-1zM737 165h1v1h-1zM744 164h1v1h-1zM746 164h1v1h-1zM741 174h1v1h-1zM743 174h1v1h-1zM745 174h1v1h-1z" fill="#0000ff" shape-rendering="crispEdges"/>
<path d="M767 165h1v1h-1zM768 165h1v1h-1zM769 165h1v1h-1zM770 165h1v1h-1zM771 165h1v1h-1zM774 165h1v1h-1zM765 168h1v1h-1zM766 167h1v1h-1z" fill="#ff0000" shape-rendering="crispEdges"/>
<path d="M149.00 286.7V285.9h2.95V286.7zM152.45 286.7V285.9h2.95V286.7zM155.90 286.7V283h2.95V286.7zM159.35 286.7V281h2.95V286.7zM162.80 286.7V278.1h2.95V286.7zM166.25 286.7V271h2.95V286.7zM169.70 286.7V272h2.95V286.7zM173.15 286.7V269h2.95V286.7zM176.60 286.7V268h2.95V286.7zM180.05 286.7V268h2.95V286.7zM183.50 286.7V265h2.95V286.7zM186.95 286.7V261h2.95V286.7zM190.40 286.7V262.1h2.95V286.7zM193.85 286.7V257h2.95V286.7zM197.30 286.7V261.3h2.95V286.7zM200.75 286.7V261.3h2.95V286.7zM204.20 286.7V263.9h2.95V286.7zM207.65 286.7V268.2h2.95V286.7zM211.10 286.7V266.1h2.95V286.7zM214.55 286.7V269h2.95V286.7zM218.00 286.7V274.9h2.95V286.7zM221.45 286.7V277h2.95V286.7zM224.90 286.7V279h2.95V286.7zM228.35 286.7V277h2.95V286.7zM231.80 286.7V280.1h2.95V286.7zM235.25 286.7V283h2.95V286.7zM238.70 286.7V283h2.95V286.7zM242.15 286.7V285h2.95V286.7zM245.60 286.7V285.9h2.95V286.7zM249.05 286.7V285.9h2.95V286.7zM252.50 286.7V285.9h2.95V286.7z" fill="#0072BD" shape-rendering="crispEdges"/>
<path d="M149.00 371.9V371.1h2.95V371.9zM152.45 371.9V371.1h2.95V371.9zM155.90 371.9V368.1h2.95V371.9zM159.35 371.9V366.1h2.95V371.9zM162.80 371.9V363.2h2.95V371.9zM166.25 371.9V357.1h2.95V371.9zM169.70 371.9V358.1h2.95V371.9zM173.15 371.9V354.1h2.95V371.9zM176.60 371.9V354.1h2.95V371.9zM180.05 371.9V355h2.95V371.9zM183.50 371.9V351.9h2.95V371.9zM186.95 371.9V348.9h2.95V371.9zM190.40 371.9V350.1h2.95V371.9zM193.85 371.9V346.1h2.95V371.9zM197.30 371.9V350.1h2.95V371.9zM200.75 371.9V351.1h2.95V371.9zM204.20 371.9V353.2h2.95V371.9zM207.65 371.9V357.1h2.95V371.9zM211.10 371.9V354h2.95V371.9zM214.55 371.9V358h2.95V371.9zM218.00 371.9V362.2h2.95V371.9zM221.45 371.9V364.1h2.95V371.9zM224.90 371.9V366h2.95V371.9zM228.35 371.9V364.1h2.95V371.9zM231.80 371.9V367.1h2.95V371.9zM235.25 371.9V370h2.95V371.9zM238.70 371.9V369.1h2.95V371.9zM242.15 371.9V371.1h2.95V371.9zM245.60 371.9V371.1h2.95V371.9zM249.05 371.9V371.1h2.95V371.9zM252.50 371.9V371.1h2.95V371.9zM255.95 371.9V371.1h2.95V371.9z" fill="#0072BD" shape-rendering="crispEdges"/>
<path d="M162.80 329.8V329h2.95V329.8zM166.25 329.8V329.2h2.95V329.8zM169.70 329.8V329.2h2.95V329.8zM173.15 329.8V328.8h2.95V329.8zM176.60 329.8V328.1h2.95V329.8zM180.05 329.8V327h2.95V329.8zM183.50 329.8V327.3h2.95V329.8zM186.95 329.8V328.1h2.95V329.8zM190.40 329.8V326.1h2.95V329.8zM193.85 329.8V325.9h2.95V329.8zM197.30 329.8V324.9h2.95V329.8zM200.75 329.8V325.1h2.95V329.8zM204.20 329.8V326h2.95V329.8zM207.65 329.8V326h2.95V329.8zM211.10 329.8V326.9h2.95V329.8zM214.55 329.8V326.9h2.95V329.8zM218.00 329.8V327.7h2.95V329.8zM221.45 329.8V327.7h2.95V329.8zM224.90 329.8V327.1h2.95V329.8zM228.35 329.8V327.1h2.95V329.8zM231.80 329.8V328.1h2.95V329.8zM235.25 329.8V328.1h2.95V329.8zM238.70 329.8V328.1h2.95V329.8zM242.15 329.8V328.9h2.95V329.8z" fill="#0072BD" shape-rendering="crispEdges"/>
<rect x="164.9" y="278.1" width="0.85" height="8.6" fill="#000" fill-opacity="0.9"/>
<rect x="171.79999999999998" y="272" width="0.85" height="14.7" fill="#777" fill-opacity="0.9"/>
<rect x="183.5" y="265" width="0.85" height="21.7" fill="#000" fill-opacity="0.85"/>
<rect x="197.3" y="261.3" width="0.85" height="25.4" fill="#666" fill-opacity="0.9"/>
<rect x="202.85" y="261.3" width="0.85" height="25.4" fill="#000" fill-opacity="0.9"/>
<rect x="207.65" y="268.2" width="0.85" height="18.5" fill="#666" fill-opacity="0.85"/>
<rect x="209.75" y="268.2" width="0.85" height="18.5" fill="#666" fill-opacity="0.85"/>
<rect x="221.45" y="277" width="0.85" height="9.7" fill="#666" fill-opacity="0.8"/>
<rect x="149.0" y="285.9" width="0.85" height="0.8" fill="#012" fill-opacity="0.7"/>
<rect x="231.8" y="280.1" width="2.95" height="0.9" fill="#000" fill-opacity="0.8"/>
<rect x="186.95" y="261" width="2.95" height="0.7" fill="#024" fill-opacity="0.5"/>
<rect x="164.9" y="363.2" width="0.85" height="8.7" fill="#000" fill-opacity="0.9"/>
<rect x="171.79999999999998" y="358.1" width="0.85" height="13.8" fill="#777" fill-opacity="0.9"/>
<rect x="183.5" y="351.9" width="0.85" height="20.0" fill="#000" fill-opacity="0.85"/>
<rect x="197.3" y="350.1" width="0.85" height="21.8" fill="#666" fill-opacity="0.9"/>
<rect x="202.85" y="351.1" width="0.85" height="20.8" fill="#000" fill-opacity="0.9"/>
<rect x="207.65" y="357.1" width="0.85" height="14.8" fill="#666" fill-opacity="0.85"/>
<rect x="209.75" y="357.1" width="0.85" height="14.8" fill="#666" fill-opacity="0.85"/>
<rect x="221.45" y="364.1" width="0.85" height="7.8" fill="#666" fill-opacity="0.8"/>
<rect x="149.0" y="371.1" width="0.85" height="0.8" fill="#012" fill-opacity="0.7"/>
<rect x="231.8" y="367.1" width="2.95" height="0.9" fill="#000" fill-opacity="0.8"/>
<rect x="186.95" y="348.9" width="2.95" height="0.7" fill="#024" fill-opacity="0.5"/>
<rect x="162.8" y="329" width="1.6" height="0.8" fill="#000" fill-opacity="0.9"/>
<rect x="183.5" y="327.3" width="1.6" height="2.5" fill="#000" fill-opacity="0.85"/>
<rect x="193.85" y="325.9" width="1.6" height="3.9" fill="#777" fill-opacity="0.8"/>
<rect x="201.25" y="325.1" width="1.6" height="4.7" fill="#000" fill-opacity="0.85"/>
<rect x="211.1" y="326.9" width="1.6" height="2.9" fill="#024" fill-opacity="0.5"/>
<rect x="218.0" y="327.7" width="1.6" height="2.1" fill="#024" fill-opacity="0.5"/>
<path d="M137.5 257V286.7M137.5 299V329.9M137.5 341.3V371.9" stroke="#333" stroke-width="0.8"/>
<path d="M137 341.5H283" stroke="#505050" stroke-width="1" shape-rendering="crispEdges"/>
<path d="M144 257h1v1h-1zM144 300h1v1h-1zM144 342h1v1h-1z" fill="#444" shape-rendering="crispEdges"/>
<path d="M144 286h1v1h-1zM144 329h1v1h-1z" fill="#999" shape-rendering="crispEdges"/>
<path d="M282 321h1v1h-1z" fill="#888" shape-rendering="crispEdges"/>
<path d="M130.5 262.5h0.7M132.0 262.5h0.7M135.0 262.5h0.9" stroke="#000" stroke-opacity="0.2" stroke-width="1.0" fill="none"/>
<path d="M133.3 262.5h0.5" stroke="#000" stroke-opacity="0.4" stroke-width="1.0" fill="none"/>
<path d="M130.5 270.5h0.9M132.0 270.5h0.8M133.7 270.5h0.8M135.6 270.5h0.4" stroke="#000" stroke-opacity="0.2" stroke-width="1.0" fill="none"/>
<path d="M130.5 278.5h1.0M133.6 278.5h0.7M135.0 278.5h0.7" stroke="#000" stroke-opacity="0.4" stroke-width="1.0" fill="none"/>
<path d="M132.0 278.5h0.8" stroke="#000" stroke-opacity="0.6" stroke-width="1.0" fill="none"/>
<path d="M130.5 304.5h0.6M135.4 304.5h0.6" stroke="#000" stroke-opacity="0.4" stroke-width="1.0" fill="none"/>
<path d="M132.0 304.5h0.6M133.7 304.5h0.8" stroke="#000" stroke-opacity="0.2" stroke-width="1.0" fill="none"/>
<path d="M130.5 313.5h0.8M135.1 313.5h0.7" stroke="#000" stroke-opacity="0.4" stroke-width="1.0" fill="none"/>
<path d="M132.1 313.5h0.9M133.6 313.5h0.7" stroke="#000" stroke-opacity="0.2" stroke-width="1.0" fill="none"/>
<path d="M130.5 321.5h0.6" stroke="#000" stroke-opacity="0.2" stroke-width="1.0" fill="none"/>
<path d="M132.0 321.5h0.7" stroke="#000" stroke-opacity="0.6" stroke-width="1.0" fill="none"/>
<path d="M133.9 321.5h1.0" stroke="#000" stroke-opacity="0.4" stroke-width="1.0" fill="none"/>
<path d="M130.5 347.5h0.7M134.2 347.5h0.6" stroke="#000" stroke-opacity="0.2" stroke-width="1.0" fill="none"/>
<path d="M132.3 347.5h0.7M135.3 347.5h0.5" stroke="#000" stroke-opacity="0.4" stroke-width="1.0" fill="none"/>
<path d="M130.5 355.5h0.6M131.8 355.5h0.5M133.2 355.5h0.6M134.5 355.5h0.9" stroke="#000" stroke-opacity="0.4" stroke-width="1.0" fill="none"/>
<path d="M130.5 364.5h0.9M132.5 364.5h0.9" stroke="#000" stroke-opacity="0.2" stroke-width="1.0" fill="none"/>
<path d="M134.1 364.5h0.8" stroke="#000" stroke-opacity="0.4" stroke-width="1.0" fill="none"/>
<path d="M135.5 364.5h0.5" stroke="#000" stroke-opacity="0.6" stroke-width="1.0" fill="none"/>
<path d="M134 286h1v1h-1z" fill="#999" shape-rendering="crispEdges"/>
<path d="M134 329h1v1h-1z" fill="#999" shape-rendering="crispEdges"/>
<path d="M134 371h1v1h-1z" fill="#999" shape-rendering="crispEdges"/>
<text x="126" y="271.5" font-family="Liberation Sans" font-size="3.6" font-weight="bold" fill="#000" text-anchor="middle" textLength="10.5" lengthAdjust="spacingAndGlyphs" transform="rotate(-90 126 271.5)">Density</text>
<text x="126" y="315" font-family="Liberation Sans" font-size="3.4" font-weight="normal" fill="#000" fill-opacity="0.6" text-anchor="middle" textLength="9" lengthAdjust="spacingAndGlyphs" transform="rotate(-90 126 315)">Density</text>
<text x="126" y="356.5" font-family="Liberation Sans" font-size="3.6" font-weight="bold" fill="#000" text-anchor="middle" textLength="10.5" lengthAdjust="spacingAndGlyphs" transform="rotate(-90 126 356.5)">Density</text>
<path d="M170.5 289.5h0.9M171.8 289.5h0.3" stroke="#000" stroke-opacity="0.4" stroke-width="1.0" fill="none"/>
<path d="M199.6 289.5h1.0M201.0 289.5h0.2" stroke="#000" stroke-opacity="0.4" stroke-width="1.0" fill="none"/>
<path d="M225.7 289.5h0.9M227.1 289.5h0.2" stroke="#000" stroke-opacity="0.4" stroke-width="1.0" fill="none"/>
<path d="M253.8 289.5h0.8" stroke="#000" stroke-opacity="0.2" stroke-width="1.0" fill="none"/>
<path d="M255.0 289.5h0.4" stroke="#000" stroke-opacity="0.4" stroke-width="1.0" fill="none"/>
<path d="M281.7 289.5h1.0" stroke="#000" stroke-opacity="0.4" stroke-width="1.0" fill="none"/>
<path d="M283.0 289.5h0.3" stroke="#000" stroke-opacity="0.2" stroke-width="1.0" fill="none"/>
<path d="M170.5 331.5h0.6" stroke="#000" stroke-opacity="0.2" stroke-width="1.0" fill="none"/>
<path d="M171.4 331.5h0.7" stroke="#000" stroke-opacity="0.4" stroke-width="1.0" fill="none"/>
<path d="M199.6 331.5h0.6M200.5 331.5h0.7" stroke="#000" stroke-opacity="0.4" stroke-width="1.0" fill="none"/>
<path d="M225.7 331.5h1.0" stroke="#000" stroke-opacity="0.4" stroke-width="1.0" fill="none"/>
<path d="M253.8 331.5h0.9" stroke="#000" stroke-opacity="0.2" stroke-width="1.0" fill="none"/>
<path d="M281.7 331.5h0.6M282.7 331.5h0.6" stroke="#000" stroke-opacity="0.4" stroke-width="1.0" fill="none"/>
<path d="M170.5 374.5h0.6M171.7 374.5h0.4" stroke="#000" stroke-opacity="0.4" stroke-width="1.0" fill="none"/>
<path d="M199.6 374.5h0.7M200.6 374.5h0.6" stroke="#000" stroke-opacity="0.4" stroke-width="1.0" fill="none"/>
<path d="M225.7 374.5h1.0" stroke="#000" stroke-opacity="0.2" stroke-width="1.0" fill="none"/>
<path d="M253.8 374.5h0.9" stroke="#000" stroke-opacity="0.2" stroke-width="1.0" fill="none"/>
<path d="M281.7 374.5h0.8M283.0 374.5h0.3" stroke="#000" stroke-opacity="0.4" stroke-width="1.0" fill="none"/>
<path d="M176.9 255.5h1.2M179.1 255.5h1.6M183.8 255.5h1.4" stroke="#000" stroke-opacity="0.2" stroke-width="1" fill="none"/>
<path d="M181.1 254.5h1.5" stroke="#000" stroke-opacity="0.4" stroke-width="1" fill="none"/>
<path d="M181.1 255.5h1.5" stroke="#000" stroke-opacity="0.4" stroke-width="1" fill="none"/>
<path d="M186.2 254.5h1.2M188.6 254.5h0.4" stroke="#000" stroke-opacity="0.2" stroke-width="1" fill="none"/>
<path d="M189.0 254.5h0.9M194.0 254.5h1.7M196.7 254.5h1.1" stroke="#000" stroke-opacity="0.2" stroke-width="1" fill="none"/>
<path d="M189.0 255.5h0.9" stroke="#000" stroke-opacity="0.6" stroke-width="1" fill="none"/>
<path d="M191.0 254.5h1.8" stroke="#000" stroke-opacity="0.8" stroke-width="1" fill="none"/>
<path d="M191.0 255.5h1.8" stroke="#000" stroke-opacity="0.2" stroke-width="1" fill="none"/>
<path d="M194.0 255.5h1.7M196.7 255.5h1.1" stroke="#000" stroke-opacity="0.8" stroke-width="1" fill="none"/>
<path d="M198.0 254.5h0.7M200.8 254.5h1.7M204.5 254.5h0.8M209.5 254.5h1.8" stroke="#000" stroke-opacity="0.4" stroke-width="1" fill="none"/>
<path d="M198.0 255.5h0.7M203.2 255.5h0.8M204.5 255.5h0.8" stroke="#000" stroke-opacity="0.4" stroke-width="1" fill="none"/>
<path d="M199.1 254.5h1.3M203.2 254.5h0.8M206.0 254.5h0.9M207.9 254.5h1.3" stroke="#000" stroke-opacity="0.2" stroke-width="1" fill="none"/>
<path d="M199.1 255.5h1.3M200.8 255.5h1.7M206.0 255.5h0.9M207.9 255.5h1.3M209.5 255.5h1.8M212.1 255.5h0.9" stroke="#000" stroke-opacity="0.2" stroke-width="1" fill="none"/>
<path d="M213.0 254.5h2.0" stroke="#000" stroke-opacity="0.6" stroke-width="1" fill="none"/>
<path d="M213.0 255.5h2.0M215.4 255.5h1.6" stroke="#000" stroke-opacity="0.2" stroke-width="1" fill="none"/>
<path d="M215.4 254.5h1.6M224.3 254.5h1.0M234.1 254.5h1.4M235.9 254.5h1.8" stroke="#000" stroke-opacity="0.8" stroke-width="1" fill="none"/>
<path d="M217.6 254.5h2.0M225.7 254.5h2.1M240.7 254.5h0.9" stroke="#000" stroke-opacity="0.2" stroke-width="1" fill="none"/>
<path d="M217.6 255.5h2.0M225.7 255.5h2.1" stroke="#000" stroke-opacity="0.6" stroke-width="1" fill="none"/>
<path d="M220.2 254.5h1.5M222.3 254.5h1.5M230.0 254.5h1.7M232.2 254.5h1.6" stroke="#000" stroke-opacity="0.4" stroke-width="1" fill="none"/>
<path d="M220.2 255.5h1.5M222.3 255.5h1.5M228.4 255.5h1.2M230.0 255.5h1.7M232.2 255.5h1.6M238.4 255.5h2.0" stroke="#000" stroke-opacity="1.0" stroke-width="1" fill="none"/>
<path d="M224.3 255.5h1.0M234.1 255.5h1.4M235.9 255.5h1.8M240.7 255.5h0.9" stroke="#000" stroke-opacity="0.8" stroke-width="1" fill="none"/>
<path d="M228.4 254.5h1.2M238.4 254.5h2.0M242.3 254.5h1.7" stroke="#000" stroke-opacity="1.0" stroke-width="1" fill="none"/>
<path d="M242.3 255.5h1.7" stroke="#000" stroke-opacity="0.4" stroke-width="1" fill="none"/>
<path d="M238.9 261.5h0.7M240.1 261.5h1.0M244.3 261.5h0.6M251.3 261.5h1.8M254.2 261.5h0.5M255.3 261.5h0.9M257.3 261.5h0.6M263.2 261.5h0.6" stroke="#000" stroke-opacity="0.4" stroke-width="1.0" fill="none"/>
<path d="M242.5 261.5h1.1M246.5 261.5h1.5M248.6 261.5h1.3M258.8 261.5h1.7M261.7 261.5h0.9M265.6 261.5h1.1M268.2 261.5h1.7M271.7 261.5h1.5M273.8 261.5h1.8M276.1 261.5h0.6M277.8 261.5h1.8" stroke="#000" stroke-opacity="0.2" stroke-width="1.0" fill="none"/>
<path d="M246.0 264.5h0.8M249.9 264.5h0.8M255.4 264.5h1.5M266.3 264.5h1.3M268.2 264.5h1.5M271.0 264.5h0.9M274.6 264.5h1.7" stroke="#000" stroke-opacity="0.2" stroke-width="1.0" fill="none"/>
<path d="M248.1 264.5h0.8M252.4 264.5h1.4M258.6 264.5h1.3M261.3 264.5h1.5M263.4 264.5h1.6M272.8 264.5h0.9M277.2 264.5h1.7" stroke="#000" stroke-opacity="0.4" stroke-width="1.0" fill="none"/>
<path d="M238.9 267.5h0.9M247.6 267.5h1.2M252.9 267.5h1.0M254.7 267.5h1.8M257.6 267.5h1.8M264.0 267.5h1.4M268.7 267.5h1.4M272.9 267.5h0.9" stroke="#000" stroke-opacity="0.4" stroke-width="1.0" fill="none"/>
<path d="M240.4 267.5h1.9M243.0 267.5h0.8M244.4 267.5h1.5M249.7 267.5h1.6M260.0 267.5h0.9M261.6 267.5h1.0M266.8 267.5h1.3M271.3 267.5h0.5M275.3 267.5h1.2M277.3 267.5h0.5M278.8 267.5h1.2" stroke="#000" stroke-opacity="0.2" stroke-width="1.0" fill="none"/>
<path d="M189.0 294.5h0.5M190.3 294.5h0.6M192.2 294.5h0.5M194.4 294.5h0.5M195.5 294.5h1.0M202.5 294.5h1.9M206.0 294.5h1.2M211.4 294.5h1.3M213.8 294.5h1.6M216.4 294.5h0.5M220.4 294.5h1.4M229.6 294.5h1.2" stroke="#000" stroke-opacity="0.4" stroke-width="1.0" fill="none"/>
<path d="M197.0 294.5h1.8M199.4 294.5h0.6M200.7 294.5h1.4M217.6 294.5h1.6M222.9 294.5h0.7M227.1 294.5h1.2" stroke="#000" stroke-opacity="0.2" stroke-width="1.0" fill="none"/>
<path d="M208.6 294.5h1.8M224.7 294.5h1.1" stroke="#000" stroke-opacity="0.6" stroke-width="1.0" fill="none"/>
<path d="M194.0 297.5h1.4M196.9 297.5h1.2M199.0 297.5h1.7M206.2 297.5h1.6M208.8 297.5h0.9M218.1 297.5h1.5M226.5 297.5h0.5" stroke="#000" stroke-opacity="0.6" stroke-width="1.0" fill="none"/>
<path d="M201.8 297.5h1.0M214.3 297.5h0.7M215.9 297.5h1.2M220.8 297.5h0.6M222.0 297.5h0.8" stroke="#000" stroke-opacity="0.4" stroke-width="1.0" fill="none"/>
<path d="M204.5 297.5h0.5M210.2 297.5h1.1M211.9 297.5h1.2M224.4 297.5h0.9" stroke="#000" stroke-opacity="0.8" stroke-width="1.0" fill="none"/>
<path d="M218.9 303.5h1.0M247.0 303.5h0.6M262.6 303.5h1.2M275.7 303.5h1.8" stroke="#000" stroke-opacity="0.4" stroke-width="1.0" fill="none"/>
<path d="M220.9 303.5h1.3M224.2 303.5h0.7M225.6 303.5h1.4M231.3 303.5h1.5M235.4 303.5h1.5M237.5 303.5h0.6M239.1 303.5h1.7M253.2 303.5h0.9M254.5 303.5h1.1M256.0 303.5h1.6M267.9 303.5h0.7M271.2 303.5h1.3M273.0 303.5h1.8" stroke="#000" stroke-opacity="0.8" stroke-width="1.0" fill="none"/>
<path d="M222.8 303.5h0.6M241.2 303.5h1.4M243.5 303.5h1.5M245.5 303.5h0.8M248.3 303.5h1.0M251.4 303.5h1.0M258.4 303.5h1.6M260.7 303.5h1.4M264.2 303.5h1.0M265.6 303.5h1.6" stroke="#000" stroke-opacity="1.0" stroke-width="1.0" fill="none"/>
<path d="M227.8 303.5h1.6M230.0 303.5h1.0M233.4 303.5h1.6M250.4 303.5h0.6M268.9 303.5h1.9M278.2 303.5h1.6M280.3 303.5h0.6" stroke="#000" stroke-opacity="0.6" stroke-width="1.0" fill="none"/>
<path d="M189.0 337.5h1.0M191.3 337.5h1.8M196.5 337.5h1.3M199.2 337.5h1.8M202.5 337.5h0.6M207.6 337.5h1.0M209.0 337.5h0.6M210.8 337.5h0.6M217.3 337.5h1.0M219.3 337.5h1.8M222.2 337.5h1.9M225.2 337.5h0.8M231.2 337.5h0.8" stroke="#000" stroke-opacity="0.4" stroke-width="1.0" fill="none"/>
<path d="M194.7 337.5h1.1M204.4 337.5h1.8M212.6 337.5h1.7M215.3 337.5h1.5M227.5 337.5h0.6M228.5 337.5h1.1" stroke="#000" stroke-opacity="0.2" stroke-width="1.0" fill="none"/>
<path d="M197.0 339.5h1.3" stroke="#000" stroke-opacity="0.4" stroke-width="1" fill="none"/>
<path d="M197.0 340.5h1.3M205.7 340.5h1.6" stroke="#000" stroke-opacity="1.0" stroke-width="1" fill="none"/>
<path d="M198.6 339.5h1.4M202.3 339.5h0.8M207.8 339.5h1.2M217.2 339.5h1.3" stroke="#000" stroke-opacity="0.8" stroke-width="1" fill="none"/>
<path d="M198.6 340.5h1.4M203.5 340.5h1.7M217.2 340.5h1.3" stroke="#000" stroke-opacity="0.8" stroke-width="1" fill="none"/>
<path d="M200.3 339.5h1.6M205.7 339.5h1.6M209.5 339.5h1.6M219.1 339.5h1.1M220.7 339.5h0.8" stroke="#000" stroke-opacity="1.0" stroke-width="1" fill="none"/>
<path d="M200.3 340.5h1.6M209.5 340.5h1.6M219.1 340.5h1.1M220.7 340.5h0.8" stroke="#000" stroke-opacity="0.4" stroke-width="1" fill="none"/>
<path d="M202.3 340.5h0.8M207.8 340.5h1.2M211.8 340.5h1.3" stroke="#000" stroke-opacity="0.2" stroke-width="1" fill="none"/>
<path d="M203.5 339.5h1.7M213.6 339.5h1.0M214.9 339.5h1.6" stroke="#000" stroke-opacity="0.2" stroke-width="1" fill="none"/>
<path d="M211.8 339.5h1.3M221.8 339.5h0.9" stroke="#000" stroke-opacity="0.6" stroke-width="1" fill="none"/>
<path d="M213.6 340.5h1.0M214.9 340.5h1.6M221.8 340.5h0.9" stroke="#000" stroke-opacity="0.6" stroke-width="1" fill="none"/>
<path d="M224.0 345.5h1.1M230.9 345.5h0.7M237.8 345.5h1.6M253.1 345.5h1.2M255.0 345.5h1.5M259.5 345.5h0.7M280.3 345.5h1.2M282.3 345.5h0.7" stroke="#000" stroke-opacity="0.4" stroke-width="1" fill="none"/>
<path d="M224.0 346.5h1.1M240.7 346.5h0.7M246.9 346.5h0.8M255.0 346.5h1.5M268.7 346.5h1.0M282.3 346.5h0.7" stroke="#000" stroke-opacity="0.4" stroke-width="1" fill="none"/>
<path d="M226.3 345.5h1.5M229.0 345.5h0.9M236.1 345.5h0.8M261.3 345.5h1.6M275.0 345.5h1.3" stroke="#000" stroke-opacity="0.6" stroke-width="1" fill="none"/>
<path d="M226.3 346.5h1.5M229.0 346.5h0.9M230.9 346.5h0.7M236.1 346.5h0.8M237.8 346.5h1.6M253.1 346.5h1.2M259.5 346.5h0.7M261.3 346.5h1.6M272.7 346.5h1.6M275.0 346.5h1.3M278.5 346.5h1.1M280.3 346.5h1.2" stroke="#000" stroke-opacity="0.2" stroke-width="1" fill="none"/>
<path d="M232.7 345.5h0.7M244.6 345.5h1.0M248.8 345.5h1.4M272.7 345.5h1.6M278.5 345.5h1.1" stroke="#000" stroke-opacity="0.8" stroke-width="1" fill="none"/>
<path d="M232.7 346.5h0.7M244.6 346.5h1.0M248.8 346.5h1.4M257.0 346.5h1.4M264.3 346.5h1.5M267.2 346.5h0.9" stroke="#000" stroke-opacity="0.8" stroke-width="1" fill="none"/>
<path d="M233.9 345.5h1.4M240.7 345.5h0.7M242.5 345.5h1.0M246.9 345.5h0.8M250.7 345.5h1.0M257.0 345.5h1.4M264.3 345.5h1.5M267.2 345.5h0.9M268.7 345.5h1.0M270.2 345.5h1.3M276.8 345.5h1.1" stroke="#000" stroke-opacity="0.2" stroke-width="1" fill="none"/>
<path d="M233.9 346.5h1.4M242.5 346.5h1.0M250.7 346.5h1.0M270.2 346.5h1.3M276.8 346.5h1.1" stroke="#000" stroke-opacity="0.6" stroke-width="1" fill="none"/>
<path d="M189.0 379.5h0.7M190.6 379.5h0.8M192.2 379.5h1.4M195.0 379.5h1.7M198.2 379.5h1.5M202.2 379.5h1.6M207.2 379.5h1.5M219.1 379.5h1.7M221.4 379.5h1.6M224.7 379.5h1.8M231.7 379.5h0.3" stroke="#000" stroke-opacity="0.4" stroke-width="1.0" fill="none"/>
<path d="M200.5 379.5h1.1M204.6 379.5h1.0M209.8 379.5h1.0M212.4 379.5h0.6M214.7 379.5h0.6M217.0 379.5h1.5M227.9 379.5h0.6M230.0 379.5h0.6" stroke="#000" stroke-opacity="0.2" stroke-width="1.0" fill="none"/>
<path d="M393.29 286.7L393.29 286.37L396.14 286.37L396.14 285.57L397.29 285.57L397.29 284.43L398.43 284.43L398.43 282.71L399.57 282.71L399.57 278.14L401.86 278.14L401.86 276.43L403.00 276.43L403.00 273.57L404.14 273.57L404.14 263.86L405.29 263.86L405.29 266.71L406.43 266.71L406.43 262.14L408.94 262.14L408.94 259.29L409.86 259.29L409.86 262.14L411.57 262.14L411.57 263.29L412.71 263.29L412.71 263.86L413.29 263.86L413.29 262.14L415.80 262.14L415.80 262.14L416.14 262.14L416.14 266.71L417.51 266.71L417.51 267.86L418.20 267.86L418.20 263.86L419.23 263.86L419.23 266.14L420.14 266.14L420.14 269.00L421.86 269.00L421.86 271.29L423.00 271.29L423.00 277.57L424.71 277.57L424.71 277.00L425.86 277.00L425.86 274.14L427.23 274.14L427.23 276.43L428.14 276.43L428.14 279.29L429.86 279.29L429.86 282.14L431.23 282.14L431.23 281.00L432.71 281.00L432.71 281.80L433.86 281.80L433.86 281.00L435.00 281.00L435.00 282.94L437.86 282.94L437.86 283.29L439.34 283.29L439.34 280.20L441.06 280.20L441.06 281.00L442.20 281.00L442.20 279.86L443.80 279.86L443.80 281.57L445.51 281.57L445.51 283.86L447.23 283.86L447.23 284.43L448.37 284.43L448.37 281.57L449.29 281.57L449.29 279.06L450.43 279.06L450.43 278.71L451.80 278.71L451.80 280.20L453.63 280.20L453.63 281.00L455.00 281.00L455.00 283.29L457.06 283.29L457.06 282.71L458.71 282.71L458.71 281.00L460.43 281.00L460.43 282.49L462.49 282.49L462.49 283.86L464.43 283.86L464.43 283.29L466.14 283.29L466.14 282.14L468.20 282.14L468.20 283.29L470.71 283.29L470.71 283.51L471.51 283.51L471.51 285.57L473.57 285.57L473.57 285.23L475.06 285.23L475.06 284.43L476.77 284.43L476.77 283.29L478.49 283.29L478.49 284.77L481.34 284.77L481.34 285.91L483.29 285.91L483.29 286.37L493.00 286.37L493.00 286.37L493.11 286.37L493.11 286.70L493.11 286.7z" fill="#0072BD"/>
<rect x="404.14" y="264.43" width="1.49" height="22.27" fill="#000" fill-opacity="0.75"/>
<rect x="407.00" y="261.00" width="2.97" height="25.70" fill="#000" fill-opacity="0.95"/>
<rect x="420.49" y="270.71" width="2.29" height="15.99" fill="#001" fill-opacity="0.8"/>
<rect x="423.00" y="277.23" width="2.86" height="9.47" fill="#555" fill-opacity="0.9"/>
<rect x="437.86" y="281.57" width="5.71" height="5.13" fill="#013" fill-opacity="0.55"/>
<rect x="452.14" y="280.66" width="2.29" height="6.04" fill="#555" fill-opacity="0.85"/>
<rect x="455.00" y="283.29" width="2.51" height="3.41" fill="#000" fill-opacity="0.9"/>
<rect x="454.71" y="283.29" width="1.83" height="3.41" fill="#000" fill-opacity="0.85"/>
<rect x="468.43" y="283.29" width="2.29" height="3.41" fill="#000" fill-opacity="0.9"/>
<rect x="393.29" y="286.14" width="2.86" height="0.56" fill="#000" fill-opacity="0.9"/>
<rect x="406.6" y="262" width="0.9" height="24.7" fill="#fff" fill-opacity="0.8"/>
<path d="M395.57 329.7L395.57 329.43L396.71 329.43L396.71 327.71L399.00 327.71L399.00 326.57L401.86 326.57L401.86 325.43L404.14 325.43L404.14 322.00L405.86 322.00L405.86 322.80L407.57 322.80L407.57 322.00L409.29 322.00L409.29 322.57L410.43 322.57L410.43 324.86L412.14 324.86L412.14 324.29L413.86 324.29L413.86 325.43L415.00 325.43L415.00 324.29L416.14 324.29L416.14 325.43L417.29 325.43L417.29 326.57L419.57 326.57L419.57 328.29L421.86 328.29L421.86 329.20L424.71 329.20L424.71 329.43L424.83 329.43L424.83 329.66L424.83 329.7z" fill="#0072BD"/>
<rect x="404.14" y="322.00" width="1.71" height="7.70" fill="#000" fill-opacity="0.85"/>
<rect x="407.00" y="322.11" width="2.86" height="7.59" fill="#000" fill-opacity="0.95"/>
<rect x="406.2" y="321.5" width="0.8" height="8.2" fill="#fff" fill-opacity="0.8"/>
<path d="M386.4 329.4H396" stroke="#000" stroke-width="0.8"/>
<path d="M395.57 371.7L395.57 371.49L397.86 371.49L397.86 369.43L399.91 369.43L399.91 368.86L400.14 368.86L400.14 366.00L403.00 366.00L403.00 363.71L404.71 363.71L404.71 359.14L406.43 359.14L406.43 354.57L407.91 354.57L407.91 351.71L409.29 351.71L409.29 349.09L410.09 349.09L410.09 353.43L411.57 353.43L411.57 353.20L412.14 353.20L412.14 371.70L414.09 371.70L414.09 349.09L415.91 349.09L415.91 349.09L416.14 349.09L416.14 356.86L417.86 356.86L417.86 354.00L419.34 354.00L419.34 351.14L420.49 351.14L420.49 352.86L421.29 352.86L421.29 355.14L423.00 355.14L423.00 358.57L423.57 358.57L423.57 362.00L425.06 362.00L425.06 360.86L425.51 360.86L425.51 358.00L426.43 358.00L426.43 362.00L428.14 362.00L428.14 363.14L429.29 363.14L429.29 366.57L431.00 366.57L431.00 367.14L431.57 367.14L431.57 364.86L432.71 364.86L432.71 367.14L434.43 367.14L434.43 366.00L435.57 366.00L435.57 367.14L436.71 367.14L436.71 366.00L437.86 366.00L437.86 368.86L439.00 368.86L439.00 366.00L440.37 366.00L440.37 365.09L441.29 365.09L441.29 364.29L442.20 364.29L442.20 367.14L443.57 367.14L443.57 366.00L445.86 366.00L445.86 368.86L447.57 368.86L447.57 368.29L448.49 368.29L448.49 366.00L449.29 366.00L449.29 364.29L451.57 364.29L451.57 364.29L452.71 364.29L452.71 365.09L453.86 365.09L453.86 366.00L456.14 366.00L456.14 367.14L457.29 367.14L457.29 366.00L459.29 366.00L459.29 367.14L461.00 367.14L461.00 367.71L462.71 367.71L462.71 368.86L465.00 368.86L465.00 367.14L467.29 367.14L467.29 367.14L469.57 367.14L469.57 368.29L470.71 368.29L470.71 370.00L473.00 370.00L473.00 370.57L475.29 370.57L475.29 369.43L477.00 369.43L477.00 368.29L478.14 368.29L478.14 370.00L479.29 370.00L479.29 368.86L481.00 368.86L481.00 370.57L483.29 370.57L483.29 371.37L493.00 371.37L493.00 371.37L493.11 371.37L493.11 371.70L493.11 371.7z" fill="#0072BD"/>
<rect x="395.57" y="369.43" width="4.34" height="2.27" fill="#000" fill-opacity="0.9"/>
<rect x="410.09" y="353.43" width="2.06" height="18.27" fill="#000" fill-opacity="0.95"/>
<rect x="414.09" y="349.09" width="1.83" height="22.61" fill="#000" fill-opacity="0.97"/>
<rect x="423.57" y="361.43" width="1.71" height="10.27" fill="#000" fill-opacity="0.9"/>
<rect x="426.43" y="362.57" width="2.86" height="9.13" fill="#000" fill-opacity="0.92"/>
<rect x="429.29" y="366.80" width="2.29" height="4.90" fill="#013" fill-opacity="0.7"/>
<rect x="439.00" y="365.43" width="3.20" height="6.27" fill="#013" fill-opacity="0.7"/>
<rect x="442.20" y="366.23" width="1.94" height="5.47" fill="#bbb" fill-opacity="0.9"/>
<rect x="444.14" y="367.71" width="1.71" height="3.99" fill="#000" fill-opacity="0.9"/>
<rect x="456.14" y="366.91" width="2.86" height="4.79" fill="#013" fill-opacity="0.6"/>
<rect x="455.86" y="366.57" width="2.29" height="5.13" fill="#000" fill-opacity="0.85"/>
<rect x="458.14" y="367.49" width="3.43" height="4.21" fill="#444" fill-opacity="0.85"/>
<rect x="473.00" y="370.23" width="3.43" height="1.47" fill="#013" fill-opacity="0.7"/>
<path d="M384 341.5H528" stroke="#606060" stroke-width="1" shape-rendering="crispEdges"/>
<path d="M375.6 256.5h0.5" stroke="#000" stroke-opacity="0.4" stroke-width="1.0" fill="none"/>
<path d="M376.8 256.5h0.8M378.7 256.5h0.6M380.5 256.5h0.7" stroke="#000" stroke-opacity="0.2" stroke-width="1.0" fill="none"/>
<path d="M375.6 263.5h0.8" stroke="#000" stroke-opacity="0.4" stroke-width="1.0" fill="none"/>
<path d="M377.2 263.5h0.6M378.9 263.5h0.9M380.8 263.5h0.8" stroke="#000" stroke-opacity="0.2" stroke-width="1.0" fill="none"/>
<path d="M375.6 272.5h0.6M377.6 272.5h0.6M379.1 272.5h0.8M380.7 272.5h0.6" stroke="#000" stroke-opacity="0.4" stroke-width="1.0" fill="none"/>
<path d="M375.6 279.5h0.8M381.5 279.5h0.5" stroke="#000" stroke-opacity="0.2" stroke-width="1.0" fill="none"/>
<path d="M377.8 279.5h0.6M379.3 279.5h0.7" stroke="#000" stroke-opacity="0.4" stroke-width="1.0" fill="none"/>
<path d="M375.6 286.5h0.8M377.1 286.5h0.8M381.7 286.5h0.3" stroke="#000" stroke-opacity="0.2" stroke-width="1.0" fill="none"/>
<path d="M379.5 286.5h0.8" stroke="#000" stroke-opacity="0.4" stroke-width="1.0" fill="none"/>
<path d="M375.6 298.5h0.5M378.3 298.5h0.6M380.3 298.5h0.5" stroke="#000" stroke-opacity="0.2" stroke-width="1.0" fill="none"/>
<path d="M377.0 298.5h0.6M381.7 298.5h0.3" stroke="#000" stroke-opacity="0.4" stroke-width="1.0" fill="none"/>
<path d="M375.6 306.5h0.8" stroke="#000" stroke-opacity="0.4" stroke-width="1.0" fill="none"/>
<path d="M377.3 306.5h0.8M378.8 306.5h1.0M381.4 306.5h0.6" stroke="#000" stroke-opacity="0.2" stroke-width="1.0" fill="none"/>
<path d="M375.6 314.5h0.8" stroke="#000" stroke-opacity="0.4" stroke-width="1.0" fill="none"/>
<path d="M377.1 314.5h0.9M380.7 314.5h0.6" stroke="#000" stroke-opacity="0.2" stroke-width="1.0" fill="none"/>
<path d="M379.0 314.5h0.8" stroke="#000" stroke-opacity="0.6" stroke-width="1.0" fill="none"/>
<path d="M375.6 322.5h0.5" stroke="#000" stroke-opacity="0.4" stroke-width="1.0" fill="none"/>
<path d="M377.2 322.5h0.7M379.1 322.5h0.5M381.1 322.5h0.7" stroke="#000" stroke-opacity="0.2" stroke-width="1.0" fill="none"/>
<path d="M375.6 329.5h0.9M379.5 329.5h0.9" stroke="#000" stroke-opacity="0.4" stroke-width="1.0" fill="none"/>
<path d="M377.4 329.5h0.8M381.8 329.5h0.2" stroke="#000" stroke-opacity="0.2" stroke-width="1.0" fill="none"/>
<path d="M375.6 341.5h0.9M381.2 341.5h0.8" stroke="#000" stroke-opacity="0.2" stroke-width="1.0" fill="none"/>
<path d="M377.5 341.5h0.9M379.1 341.5h0.8" stroke="#000" stroke-opacity="0.4" stroke-width="1.0" fill="none"/>
<path d="M375.6 348.5h0.7M379.2 348.5h0.9" stroke="#000" stroke-opacity="0.4" stroke-width="1.0" fill="none"/>
<path d="M377.0 348.5h0.7M381.3 348.5h0.6" stroke="#000" stroke-opacity="0.2" stroke-width="1.0" fill="none"/>
<path d="M375.6 357.5h0.6M380.4 357.5h0.8" stroke="#000" stroke-opacity="0.6" stroke-width="1.0" fill="none"/>
<path d="M377.6 357.5h0.5M378.7 357.5h0.6" stroke="#000" stroke-opacity="0.4" stroke-width="1.0" fill="none"/>
<path d="M375.6 364.5h0.8M381.0 364.5h1.0" stroke="#000" stroke-opacity="0.2" stroke-width="1.0" fill="none"/>
<path d="M377.3 364.5h0.6M379.1 364.5h0.9" stroke="#000" stroke-opacity="0.4" stroke-width="1.0" fill="none"/>
<path d="M375.6 371.5h0.6M379.1 371.5h0.6" stroke="#000" stroke-opacity="0.2" stroke-width="1.0" fill="none"/>
<path d="M377.1 371.5h0.8M381.0 371.5h0.8" stroke="#000" stroke-opacity="0.4" stroke-width="1.0" fill="none"/>
<path d="M371.5 266.0v1.5" stroke="#000" stroke-opacity="1.0" stroke-width="1.0" fill="none"/>
<path d="M371.5 268.5v1.0M371.5 271.9v0.8" stroke="#000" stroke-opacity="0.8" stroke-width="1.0" fill="none"/>
<path d="M371.5 270.2v1.3M371.5 273.1v1.2M371.5 275.1v0.6" stroke="#000" stroke-opacity="0.6" stroke-width="1.0" fill="none"/>
<path d="M371.5 309.0v0.8M371.5 316.4v1.2" stroke="#000" stroke-opacity="0.8" stroke-width="1.0" fill="none"/>
<path d="M371.5 310.2v1.1M371.5 318.1v0.9" stroke="#000" stroke-opacity="1.0" stroke-width="1.0" fill="none"/>
<path d="M371.5 312.2v1.3M371.5 314.5v1.4" stroke="#000" stroke-opacity="0.6" stroke-width="1.0" fill="none"/>
<path d="M371.5 351.5v1.0M371.5 358.5v0.9" stroke="#000" stroke-opacity="0.8" stroke-width="1.0" fill="none"/>
<path d="M371.5 353.0v1.0" stroke="#000" stroke-opacity="0.4" stroke-width="1.0" fill="none"/>
<path d="M371.5 354.5v0.8M371.5 356.0v1.6M371.5 359.9v1.1" stroke="#000" stroke-opacity="0.6" stroke-width="1.0" fill="none"/>
<path d="M387.7 288.5h0.8" stroke="#000" stroke-opacity="0.6" stroke-width="1.0" fill="none"/>
<path d="M389.1 288.5h0.7" stroke="#000" stroke-opacity="0.4" stroke-width="1.0" fill="none"/>
<path d="M408.7 288.5h0.9" stroke="#000" stroke-opacity="0.4" stroke-width="1.0" fill="none"/>
<path d="M410.3 288.5h0.8" stroke="#000" stroke-opacity="0.2" stroke-width="1.0" fill="none"/>
<path d="M430.9 288.5h0.6" stroke="#000" stroke-opacity="0.4" stroke-width="1.0" fill="none"/>
<path d="M432.1 288.5h0.7" stroke="#000" stroke-opacity="0.6" stroke-width="1.0" fill="none"/>
<path d="M452.1 288.5h0.7" stroke="#000" stroke-opacity="0.4" stroke-width="1.0" fill="none"/>
<path d="M453.5 288.5h0.6" stroke="#000" stroke-opacity="0.6" stroke-width="1.0" fill="none"/>
<path d="M472.9 288.5h0.8" stroke="#000" stroke-opacity="0.4" stroke-width="1.0" fill="none"/>
<path d="M474.1 288.5h0.5" stroke="#000" stroke-opacity="0.2" stroke-width="1.0" fill="none"/>
<path d="M494.7 288.5h0.7" stroke="#000" stroke-opacity="0.6" stroke-width="1.0" fill="none"/>
<path d="M495.7 288.5h0.6" stroke="#000" stroke-opacity="0.4" stroke-width="1.0" fill="none"/>
<path d="M515.5 288.5h0.7M516.6 288.5h0.6" stroke="#000" stroke-opacity="0.6" stroke-width="1.0" fill="none"/>
<path d="M447.0 291.5h0.7M448.4 291.5h1.5M451.1 291.5h1.7M456.7 291.5h0.3" stroke="#000" stroke-opacity="0.2" stroke-width="1.0" fill="none"/>
<path d="M454.1 291.5h0.9" stroke="#000" stroke-opacity="0.4" stroke-width="1.0" fill="none"/>
<path d="M387.7 331.5h0.9M389.2 331.5h0.9" stroke="#000" stroke-opacity="0.4" stroke-width="1.0" fill="none"/>
<path d="M408.7 331.5h0.6M410.0 331.5h1.0" stroke="#000" stroke-opacity="0.2" stroke-width="1.0" fill="none"/>
<path d="M430.9 331.5h0.8" stroke="#000" stroke-opacity="0.6" stroke-width="1.0" fill="none"/>
<path d="M432.1 331.5h0.5" stroke="#000" stroke-opacity="0.4" stroke-width="1.0" fill="none"/>
<path d="M452.1 331.5h0.7" stroke="#000" stroke-opacity="0.6" stroke-width="1.0" fill="none"/>
<path d="M453.1 331.5h0.6" stroke="#000" stroke-opacity="0.4" stroke-width="1.0" fill="none"/>
<path d="M472.9 331.5h0.7M474.0 331.5h0.6" stroke="#000" stroke-opacity="0.4" stroke-width="1.0" fill="none"/>
<path d="M494.7 331.5h0.7" stroke="#000" stroke-opacity="0.4" stroke-width="1.0" fill="none"/>
<path d="M495.9 331.5h0.8" stroke="#000" stroke-opacity="0.6" stroke-width="1.0" fill="none"/>
<path d="M515.5 331.5h0.9" stroke="#000" stroke-opacity="0.6" stroke-width="1.0" fill="none"/>
<path d="M517.0 331.5h0.9" stroke="#000" stroke-opacity="0.2" stroke-width="1.0" fill="none"/>
<path d="M447.0 334.5h0.5M451.5 334.5h1.7" stroke="#000" stroke-opacity="0.4" stroke-width="1.0" fill="none"/>
<path d="M449.1 334.5h0.7M454.5 334.5h1.2" stroke="#000" stroke-opacity="0.2" stroke-width="1.0" fill="none"/>
<path d="M387.7 374.5h1.0" stroke="#000" stroke-opacity="0.4" stroke-width="1.0" fill="none"/>
<path d="M389.0 374.5h0.6" stroke="#000" stroke-opacity="0.2" stroke-width="1.0" fill="none"/>
<path d="M408.7 374.5h0.8M410.9 374.5h0.2" stroke="#000" stroke-opacity="0.4" stroke-width="1.0" fill="none"/>
<path d="M409.9 374.5h0.7" stroke="#000" stroke-opacity="0.2" stroke-width="1.0" fill="none"/>
<path d="M430.9 374.5h1.0" stroke="#000" stroke-opacity="0.2" stroke-width="1.0" fill="none"/>
<path d="M432.3 374.5h0.7" stroke="#000" stroke-opacity="0.6" stroke-width="1.0" fill="none"/>
<path d="M452.1 374.5h0.7" stroke="#000" stroke-opacity="0.4" stroke-width="1.0" fill="none"/>
<path d="M453.3 374.5h0.8" stroke="#000" stroke-opacity="0.6" stroke-width="1.0" fill="none"/>
<path d="M472.9 374.5h0.9" stroke="#000" stroke-opacity="0.4" stroke-width="1.0" fill="none"/>
<path d="M474.4 374.5h0.9" stroke="#000" stroke-opacity="0.2" stroke-width="1.0" fill="none"/>
<path d="M494.7 374.5h0.7M496.0 374.5h0.7" stroke="#000" stroke-opacity="0.4" stroke-width="1.0" fill="none"/>
<path d="M515.5 374.5h0.5M516.7 374.5h0.9" stroke="#000" stroke-opacity="0.4" stroke-width="1.0" fill="none"/>
<path d="M447.0 376.5h0.5M455.3 376.5h1.5" stroke="#000" stroke-opacity="0.2" stroke-width="1.0" fill="none"/>
<path d="M448.9 376.5h1.5M452.0 376.5h1.6" stroke="#000" stroke-opacity="0.4" stroke-width="1.0" fill="none"/>
<path d="M414.1 254.5h1.4M418.4 254.5h1.7M426.8 254.5h0.7M458.0 254.5h1.5M469.8 254.5h1.4M485.2 254.5h0.7M496.9 254.5h1.2" stroke="#000" stroke-opacity="0.8" stroke-width="1" fill="none"/>
<path d="M414.1 255.5h1.4M418.4 255.5h1.7M426.8 255.5h0.7M433.2 255.5h1.8M467.8 255.5h0.8M469.8 255.5h1.4M474.4 255.5h0.6M475.9 255.5h1.7M485.2 255.5h0.7" stroke="#000" stroke-opacity="0.8" stroke-width="1" fill="none"/>
<path d="M416.7 254.5h1.0M460.4 254.5h1.4M463.0 254.5h0.8M467.8 254.5h0.8M474.4 254.5h0.6M475.9 254.5h1.7" stroke="#000" stroke-opacity="0.2" stroke-width="1" fill="none"/>
<path d="M416.7 255.5h1.0M436.0 255.5h1.8M441.1 255.5h1.7M460.4 255.5h1.4M463.0 255.5h0.8M478.0 255.5h1.7M490.6 255.5h1.3" stroke="#000" stroke-opacity="0.6" stroke-width="1" fill="none"/>
<path d="M420.6 254.5h1.5M436.0 254.5h1.8M441.1 254.5h1.7M446.6 254.5h0.6M450.4 254.5h0.9M454.0 254.5h1.7M456.7 254.5h0.7M478.0 254.5h1.7M480.6 254.5h1.5M483.3 254.5h1.3M486.9 254.5h0.7M490.6 254.5h1.3" stroke="#000" stroke-opacity="0.6" stroke-width="1" fill="none"/>
<path d="M420.6 255.5h1.5M446.6 255.5h0.6M450.4 255.5h0.9M454.0 255.5h1.7M456.7 255.5h0.7M458.0 255.5h1.5M480.6 255.5h1.5M483.3 255.5h1.3M486.9 255.5h0.7M496.9 255.5h1.2" stroke="#000" stroke-opacity="0.2" stroke-width="1" fill="none"/>
<path d="M423.2 254.5h1.2M430.7 254.5h1.2M438.4 254.5h1.6M444.2 254.5h1.0M447.7 254.5h1.6M492.3 254.5h1.6M495.2 254.5h0.9" stroke="#000" stroke-opacity="1.0" stroke-width="1" fill="none"/>
<path d="M423.2 255.5h1.2M428.7 255.5h0.6M430.7 255.5h1.2M438.4 255.5h1.6M444.2 255.5h1.0M452.2 255.5h0.7M464.9 255.5h1.6M472.4 255.5h0.7M488.8 255.5h0.8M492.3 255.5h1.6" stroke="#000" stroke-opacity="1.0" stroke-width="1" fill="none"/>
<path d="M425.1 254.5h0.7M428.7 254.5h0.6M433.2 254.5h1.8M452.2 254.5h0.7M464.9 254.5h1.6M472.4 254.5h0.7M488.8 254.5h0.8" stroke="#000" stroke-opacity="0.4" stroke-width="1" fill="none"/>
<path d="M425.1 255.5h0.7M447.7 255.5h1.6M495.2 255.5h0.9" stroke="#000" stroke-opacity="0.4" stroke-width="1" fill="none"/>
<path d="M477.6 261.5h1.5M485.0 261.5h1.3M501.9 261.5h1.3M504.2 261.5h1.5M506.2 261.5h0.8M507.6 261.5h0.8M509.0 261.5h1.6M511.1 261.5h0.9M516.8 261.5h0.7M518.7 261.5h0.6" stroke="#000" stroke-opacity="0.2" stroke-width="1.0" fill="none"/>
<path d="M480.4 261.5h1.1M482.1 261.5h1.7M487.6 261.5h1.7M490.3 261.5h0.8M492.2 261.5h1.1M493.9 261.5h1.6M496.5 261.5h1.3M499.1 261.5h1.7M512.6 261.5h1.8M515.0 261.5h0.5M520.3 261.5h1.2" stroke="#000" stroke-opacity="0.4" stroke-width="1.0" fill="none"/>
<path d="M486.7 264.5h0.7M488.1 264.5h1.5M490.5 264.5h1.7M493.3 264.5h1.6M505.6 264.5h0.9M507.3 264.5h1.3M509.9 264.5h1.9M512.6 264.5h1.7M514.9 264.5h1.6M520.7 264.5h1.6M522.7 264.5h1.2" stroke="#000" stroke-opacity="0.4" stroke-width="1.0" fill="none"/>
<path d="M495.5 264.5h0.6M499.2 264.5h1.6M501.9 264.5h1.6M517.0 264.5h0.6M518.9 264.5h0.7" stroke="#000" stroke-opacity="0.6" stroke-width="1.0" fill="none"/>
<path d="M497.0 264.5h0.6M504.4 264.5h0.6" stroke="#000" stroke-opacity="0.2" stroke-width="1.0" fill="none"/>
<path d="M481.0 267.5h0.5M484.4 267.5h0.7M485.7 267.5h1.5M494.6 267.5h0.6M496.4 267.5h1.1M500.7 267.5h1.6M503.6 267.5h1.2M506.4 267.5h0.8M515.2 267.5h1.3M523.0 267.5h1.3" stroke="#000" stroke-opacity="0.4" stroke-width="1.0" fill="none"/>
<path d="M482.4 267.5h1.1M488.2 267.5h1.2M490.9 267.5h0.9M492.3 267.5h1.7M498.7 267.5h0.5M509.7 267.5h1.7M512.1 267.5h1.7M517.7 267.5h0.6M519.7 267.5h1.9" stroke="#000" stroke-opacity="0.6" stroke-width="1.0" fill="none"/>
<path d="M508.2 267.5h0.6" stroke="#000" stroke-opacity="0.2" stroke-width="1.0" fill="none"/>
<path d="M437.9 297.5h1.9M441.3 297.5h1.1M448.4 297.5h1.9M464.5 297.5h1.5M467.4 297.5h0.6M469.7 297.5h1.1" stroke="#000" stroke-opacity="0.4" stroke-width="1.0" fill="none"/>
<path d="M443.3 297.5h1.6M452.5 297.5h1.2M457.1 297.5h0.9M461.8 297.5h1.5" stroke="#000" stroke-opacity="0.8" stroke-width="1.0" fill="none"/>
<path d="M445.6 297.5h1.1M451.1 297.5h0.8M455.0 297.5h0.7M459.6 297.5h0.7M471.9 297.5h1.5" stroke="#000" stroke-opacity="0.6" stroke-width="1.0" fill="none"/>
<path d="M461.6 303.5h0.6M463.0 303.5h1.6M466.3 303.5h1.6M475.7 303.5h1.6M481.2 303.5h1.7M483.9 303.5h1.6M488.3 303.5h1.6M492.8 303.5h0.7M505.1 303.5h1.8M508.2 303.5h0.7M524.8 303.5h0.8" stroke="#000" stroke-opacity="0.6" stroke-width="1.0" fill="none"/>
<path d="M469.5 303.5h1.7M472.0 303.5h0.7M477.7 303.5h0.6M486.5 303.5h0.6M495.1 303.5h1.0M500.7 303.5h0.9M502.8 303.5h1.4M509.7 303.5h1.2M511.7 303.5h1.1M514.3 303.5h1.2M517.2 303.5h1.3M520.1 303.5h1.8M522.7 303.5h0.9M526.5 303.5h0.2" stroke="#000" stroke-opacity="0.4" stroke-width="1.0" fill="none"/>
<path d="M473.3 303.5h1.4M478.8 303.5h1.3M491.6 303.5h0.7M497.4 303.5h1.7" stroke="#000" stroke-opacity="0.2" stroke-width="1.0" fill="none"/>
<path d="M441.9 339.5h0.7M448.1 339.5h1.8M450.4 339.5h0.6M455.5 339.5h1.2M457.3 339.5h1.5M461.0 339.5h1.2" stroke="#000" stroke-opacity="0.2" stroke-width="1" fill="none"/>
<path d="M441.9 340.5h0.7M448.1 340.5h1.8M450.4 340.5h0.6M464.8 340.5h1.2" stroke="#000" stroke-opacity="0.8" stroke-width="1" fill="none"/>
<path d="M443.2 339.5h0.6M462.7 339.5h1.4M466.6 339.5h1.5M468.4 339.5h0.9" stroke="#000" stroke-opacity="1.0" stroke-width="1" fill="none"/>
<path d="M443.2 340.5h0.6M446.4 340.5h1.2M462.7 340.5h1.4M466.6 340.5h1.5" stroke="#000" stroke-opacity="0.4" stroke-width="1" fill="none"/>
<path d="M444.5 339.5h1.6M451.5 339.5h1.1" stroke="#000" stroke-opacity="0.6" stroke-width="1" fill="none"/>
<path d="M444.5 340.5h1.6M451.5 340.5h1.1M455.5 340.5h1.2M457.3 340.5h1.5M461.0 340.5h1.2" stroke="#000" stroke-opacity="0.6" stroke-width="1" fill="none"/>
<path d="M446.4 339.5h1.2M464.8 339.5h1.2" stroke="#000" stroke-opacity="0.8" stroke-width="1" fill="none"/>
<path d="M453.3 339.5h1.8M459.2 339.5h1.1" stroke="#000" stroke-opacity="0.4" stroke-width="1" fill="none"/>
<path d="M453.3 340.5h1.8M459.2 340.5h1.1M468.4 340.5h0.9" stroke="#000" stroke-opacity="1.0" stroke-width="1" fill="none"/>
<path d="M468.4 345.5h1.8M478.1 345.5h1.2M480.4 345.5h0.8M483.9 345.5h1.7M488.6 345.5h1.3M497.8 345.5h0.9M508.2 345.5h1.3M511.0 345.5h1.5" stroke="#000" stroke-opacity="0.6" stroke-width="1" fill="none"/>
<path d="M468.4 346.5h1.8M475.6 346.5h1.5M478.1 346.5h1.2M480.4 346.5h0.8M488.6 346.5h1.3M491.2 346.5h1.4M493.8 346.5h0.9M497.8 346.5h0.9M505.8 346.5h1.1M508.2 346.5h1.3M511.0 346.5h1.5" stroke="#000" stroke-opacity="0.6" stroke-width="1" fill="none"/>
<path d="M471.1 345.5h0.8M473.0 345.5h1.2M475.6 345.5h1.5M491.2 345.5h1.4M493.8 345.5h0.9M499.2 345.5h1.0M501.6 345.5h1.1M503.7 345.5h1.2M505.8 345.5h1.1" stroke="#000" stroke-opacity="0.2" stroke-width="1" fill="none"/>
<path d="M471.1 346.5h0.8M473.0 346.5h1.2M481.8 346.5h1.0M486.9 346.5h1.3M495.3 346.5h1.8M499.2 346.5h1.0M503.7 346.5h1.2M513.8 346.5h0.7M517.9 346.5h0.9" stroke="#000" stroke-opacity="0.4" stroke-width="1" fill="none"/>
<path d="M481.8 345.5h1.0M486.9 345.5h1.3M495.3 345.5h1.8M513.8 345.5h0.7M517.9 345.5h0.9M519.9 345.5h0.5" stroke="#000" stroke-opacity="0.4" stroke-width="1" fill="none"/>
<path d="M483.9 346.5h1.7M519.9 346.5h0.5" stroke="#000" stroke-opacity="0.2" stroke-width="1" fill="none"/>
<path d="M501.6 346.5h1.1M515.5 346.5h1.7" stroke="#000" stroke-opacity="0.8" stroke-width="1" fill="none"/>
<path d="M515.5 345.5h1.7" stroke="#000" stroke-opacity="0.8" stroke-width="1" fill="none"/>
<path d="M527 279h1v1h-1zM527 364h1v1h-1z" fill="#aaa" shape-rendering="crispEdges"/>
<path d="M673.80 371.6V370.36h2.75V371.6zM676.77 371.6V368.98h2.75V371.6zM679.74 371.6V366.99h2.75V371.6zM682.72 371.6V362.43h2.75V371.6zM685.69 371.6V358.07h2.75V371.6zM688.67 371.6V354.50h2.75V371.6zM692.04 371.6V344.19h1.9V371.6zM695.01 371.6V333.28h1.9V371.6zM697.99 371.6V319.01h1.9V371.6zM700.96 371.6V319.01h1.9V371.6zM703.74 371.6V300.57h2.75V371.6zM706.51 371.6V289.66h2.75V371.6zM709.49 371.6V283.31h2.75V371.6zM712.26 371.6V268.24h2.75V371.6zM715.24 371.6V272.21h2.75V371.6zM718.02 371.6V260.91h2.75V371.6zM720.99 371.6V264.28h2.3V371.6zM724.16 371.6V278.16h1.9V371.6zM727.14 371.6V281.73h1.9V371.6zM729.91 371.6V284.11h1.9V371.6zM732.89 371.6V303.14h2.75V371.6zM735.66 371.6V314.45h2.75V371.6zM738.44 371.6V325.35h2.75V371.6zM741.41 371.6V336.26h2.75V371.6zM744.39 371.6V345.58h2.75V371.6zM747.16 371.6V358.07h2.75V371.6zM750.14 371.6V359.46h2.75V371.6zM752.91 371.6V366.00h2.75V371.6zM756.09 371.6V369.97h2.75V371.6zM759.06 371.6V371.16h2.75V371.6z" fill="#0072BD"/>
<rect x="706.12" y="289.66" width="1.19" height="81.94" fill="#000" fill-opacity="0.9"/>
<rect x="708.89" y="283.71" width="0.99" height="87.89" fill="#000" fill-opacity="0.7"/>
<rect x="714.25" y="269.83" width="1.19" height="101.77" fill="#000" fill-opacity="0.9"/>
<rect x="717.42" y="261.90" width="0.79" height="109.70" fill="#012" fill-opacity="0.7"/>
<rect x="690.65" y="354.50" width="1.19" height="17.10" fill="#666" fill-opacity="0.9"/>
<rect x="736.85" y="314.45" width="1.59" height="57.15" fill="#666" fill-opacity="0.9"/>
<rect x="745.97" y="345.58" width="1.39" height="26.02" fill="#000" fill-opacity="0.9"/>
<rect x="748.75" y="358.07" width="0.99" height="13.53" fill="#000" fill-opacity="0.6"/>
<rect x="751.53" y="359.46" width="1.19" height="12.14" fill="#000" fill-opacity="0.85"/>
<rect x="753.91" y="366.00" width="1.19" height="5.60" fill="#777" fill-opacity="0.9"/>
<rect x="722.77" y="264.87" width="0.79" height="106.73" fill="#567" fill-opacity="0.6"/>
<rect x="683.12" y="362.04" width="2.75" height="1" fill="#000" fill-opacity="0.85"/>
<rect x="677.17" y="368.58" width="2.75" height="0.8" fill="#000" fill-opacity="0.7"/>
<rect x="749.74" y="359.06" width="2.9" height="0.9" fill="#000" fill-opacity="0.8"/>
<path d="M720.39 257.5V371.6" stroke="#e8202a" stroke-width="0.9"/>
<path d="M755.49 366V371.6" stroke="#e8202a" stroke-width="1.0"/>
<path d="M655 371.3h1.2M659.5 371.3h3M666 371.3h3.5M671 371.3h2.5M758.5 371.3h2.5" stroke="#0072BD" stroke-width="0.7"/>
<path d="M621.6 256.5h1.1" stroke="#000" stroke-opacity="0.4" stroke-width="1.0" fill="none"/>
<path d="M623.3 256.5h1.1M624.9 256.5h0.8" stroke="#000" stroke-opacity="0.8" stroke-width="1.0" fill="none"/>
<path d="M626.5 256.5h0.8" stroke="#000" stroke-opacity="0.2" stroke-width="1.0" fill="none"/>
<path d="M621.6 270.5h0.6M623.0 270.5h0.6M624.2 270.5h1.0M625.8 270.5h0.9M627.4 270.5h0.6" stroke="#000" stroke-opacity="0.6" stroke-width="1.0" fill="none"/>
<path d="M621.6 285.5h0.7M626.5 285.5h0.7M627.8 285.5h0.9M629.2 285.5h0.6M630.1 285.5h0.6" stroke="#000" stroke-opacity="0.4" stroke-width="1.0" fill="none"/>
<path d="M623.2 285.5h0.8M624.5 285.5h1.0" stroke="#000" stroke-opacity="0.6" stroke-width="1.0" fill="none"/>
<path d="M621.6 299.5h0.6M622.8 299.5h0.8" stroke="#000" stroke-opacity="0.6" stroke-width="1.0" fill="none"/>
<path d="M624.0 299.5h0.5" stroke="#000" stroke-opacity="0.4" stroke-width="1.0" fill="none"/>
<path d="M625.3 299.5h0.8M626.7 299.5h0.9" stroke="#000" stroke-opacity="0.8" stroke-width="1.0" fill="none"/>
<path d="M621.6 314.5h0.5M624.4 314.5h0.9M627.0 314.5h0.7" stroke="#000" stroke-opacity="0.6" stroke-width="1.0" fill="none"/>
<path d="M623.0 314.5h0.7" stroke="#000" stroke-opacity="0.4" stroke-width="1.0" fill="none"/>
<path d="M625.8 314.5h0.8" stroke="#000" stroke-opacity="0.2" stroke-width="1.0" fill="none"/>
<path d="M621.6 328.5h0.6M624.1 328.5h0.9M627.6 328.5h0.4" stroke="#000" stroke-opacity="0.4" stroke-width="1.0" fill="none"/>
<path d="M622.8 328.5h0.8M626.2 328.5h0.8" stroke="#000" stroke-opacity="0.2" stroke-width="1.0" fill="none"/>
<path d="M625.3 328.5h0.5" stroke="#000" stroke-opacity="0.6" stroke-width="1.0" fill="none"/>
<path d="M621.6 343.5h0.9M623.3 343.5h0.9" stroke="#000" stroke-opacity="0.2" stroke-width="1.0" fill="none"/>
<path d="M624.8 343.5h0.6" stroke="#000" stroke-opacity="0.6" stroke-width="1.0" fill="none"/>
<path d="M626.2 343.5h0.5M627.3 343.5h0.6" stroke="#000" stroke-opacity="0.4" stroke-width="1.0" fill="none"/>
<path d="M621.6 357.5h0.9M622.9 357.5h0.7M624.4 357.5h0.8" stroke="#000" stroke-opacity="0.6" stroke-width="1.0" fill="none"/>
<path d="M626.0 357.5h0.6" stroke="#000" stroke-opacity="0.2" stroke-width="1.0" fill="none"/>
<path d="M627.2 357.5h0.8" stroke="#000" stroke-opacity="0.4" stroke-width="1.0" fill="none"/>
<path d="M621.6 372.5h0.6M623.0 372.5h0.8" stroke="#000" stroke-opacity="0.6" stroke-width="1.0" fill="none"/>
<path d="M624.7 372.5h0.8M626.0 372.5h1.0M627.5 372.5h0.5" stroke="#000" stroke-opacity="0.4" stroke-width="1.0" fill="none"/>
<text x="619.3" y="314" font-family="Liberation Sans" font-size="3.6" font-weight="bold" fill="#000" text-anchor="middle" textLength="10.5" lengthAdjust="spacingAndGlyphs" transform="rotate(-90 619.3 314)">Density</text>
<path d="M653.7 374.5h0.6" stroke="#000" stroke-opacity="0.4" stroke-width="1.0" fill="none"/>
<path d="M654.9 374.5h0.9" stroke="#000" stroke-opacity="0.2" stroke-width="1.0" fill="none"/>
<path d="M655 257h1v1h-1z" fill="#bbb" shape-rendering="crispEdges"/>
<path d="M682.4 374.5h0.7M683.5 374.5h0.9" stroke="#000" stroke-opacity="0.4" stroke-width="1.0" fill="none"/>
<path d="M683 257h1v1h-1z" fill="#bbb" shape-rendering="crispEdges"/>
<path d="M711.7 374.5h0.6M712.8 374.5h0.7" stroke="#000" stroke-opacity="0.6" stroke-width="1.0" fill="none"/>
<path d="M714.0 374.5h0.3" stroke="#000" stroke-opacity="0.4" stroke-width="1.0" fill="none"/>
<path d="M713 257h1v1h-1z" fill="#bbb" shape-rendering="crispEdges"/>
<path d="M740.9 374.5h0.5M741.7 374.5h0.7" stroke="#000" stroke-opacity="0.2" stroke-width="1.0" fill="none"/>
<path d="M743.1 374.5h0.4" stroke="#000" stroke-opacity="0.4" stroke-width="1.0" fill="none"/>
<path d="M742 257h1v1h-1z" fill="#bbb" shape-rendering="crispEdges"/>
<path d="M769.7 374.5h0.6M770.7 374.5h0.8" stroke="#000" stroke-opacity="0.2" stroke-width="1.0" fill="none"/>
<path d="M771.9 374.5h0.4" stroke="#000" stroke-opacity="0.4" stroke-width="1.0" fill="none"/>
<path d="M771 257h1v1h-1z" fill="#bbb" shape-rendering="crispEdges"/>
<path d="M687.7 376.5h1.9M690.6 376.5h0.6M693.9 376.5h1.3M702.1 376.5h0.5M709.0 376.5h1.2M711.5 376.5h1.5" stroke="#000" stroke-opacity="0.2" stroke-width="1.0" fill="none"/>
<path d="M692.0 376.5h0.7M696.9 376.5h1.1M699.6 376.5h1.5M704.1 376.5h1.8M707.0 376.5h1.3M714.0 376.5h1.4M717.0 376.5h1.4" stroke="#000" stroke-opacity="0.4" stroke-width="1.0" fill="none"/>
<path d="M664.9 254.5h0.6M668.8 254.5h1.5M672.7 254.5h0.8M674.4 254.5h0.7M678.5 254.5h0.9M681.9 254.5h0.8M684.8 254.5h1.1M686.2 254.5h1.3M695.2 254.5h1.6M700.1 254.5h1.1" stroke="#000" stroke-opacity="0.6" stroke-width="1" fill="none"/>
<path d="M664.9 255.5h0.6M666.5 255.5h1.6M668.8 255.5h1.5M670.9 255.5h1.1M672.7 255.5h0.8M676.6 255.5h0.8M678.5 255.5h0.9M680.5 255.5h1.1M681.9 255.5h0.8M683.1 255.5h0.8M684.8 255.5h1.1M686.2 255.5h1.3" stroke="#000" stroke-opacity="0.6" stroke-width="1" fill="none"/>
<path d="M666.5 254.5h1.6M670.9 254.5h1.1M676.6 254.5h0.8M680.5 254.5h1.1M683.1 254.5h0.8M688.2 254.5h1.7" stroke="#000" stroke-opacity="0.2" stroke-width="1" fill="none"/>
<path d="M674.4 255.5h0.7M695.2 255.5h1.6M700.1 255.5h1.1M701.6 255.5h1.4" stroke="#000" stroke-opacity="0.2" stroke-width="1" fill="none"/>
<path d="M675.4 254.5h0.8M690.7 254.5h1.5M693.3 254.5h1.0" stroke="#000" stroke-opacity="0.4" stroke-width="1" fill="none"/>
<path d="M675.4 255.5h0.8M688.2 255.5h1.7M697.1 255.5h1.0M698.5 255.5h0.8" stroke="#000" stroke-opacity="0.8" stroke-width="1" fill="none"/>
<path d="M690.7 255.5h1.5M693.3 255.5h1.0" stroke="#000" stroke-opacity="0.4" stroke-width="1" fill="none"/>
<path d="M697.1 254.5h1.0M698.5 254.5h0.8M701.6 254.5h1.4" stroke="#000" stroke-opacity="0.8" stroke-width="1" fill="none"/>
<path d="M703.0 254.5h1.1M710.0 254.5h1.8M730.6 254.5h1.7M743.7 254.5h1.3M748.1 254.5h1.7" stroke="#000" stroke-opacity="0.6" stroke-width="1" fill="none"/>
<path d="M703.0 255.5h1.1M710.0 255.5h1.8M729.2 255.5h0.9M737.6 255.5h1.5" stroke="#000" stroke-opacity="0.6" stroke-width="1" fill="none"/>
<path d="M704.7 254.5h1.5M706.9 254.5h0.6M718.5 254.5h1.5M720.5 254.5h0.6M721.4 254.5h0.9M722.8 254.5h1.6M727.9 254.5h0.7M734.3 254.5h1.2M736.2 254.5h1.2" stroke="#000" stroke-opacity="0.8" stroke-width="1" fill="none"/>
<path d="M704.7 255.5h1.5M708.1 255.5h1.4M716.2 255.5h1.8M720.5 255.5h0.6M746.9 255.5h0.7" stroke="#000" stroke-opacity="0.4" stroke-width="1" fill="none"/>
<path d="M706.9 255.5h0.6M722.8 255.5h1.6M730.6 255.5h1.7M743.7 255.5h1.3M748.1 255.5h1.7" stroke="#000" stroke-opacity="0.2" stroke-width="1" fill="none"/>
<path d="M708.1 254.5h1.4M712.1 254.5h0.6M713.0 254.5h1.1M714.8 254.5h1.2M716.2 254.5h1.8M739.7 254.5h0.9M741.4 254.5h1.6M745.5 254.5h0.6M746.9 254.5h0.7" stroke="#000" stroke-opacity="1.0" stroke-width="1" fill="none"/>
<path d="M712.1 255.5h0.6M713.0 255.5h1.1M714.8 255.5h1.2M725.0 255.5h0.7M726.1 255.5h1.6M733.1 255.5h0.7M739.7 255.5h0.9M741.4 255.5h1.6M745.5 255.5h0.6" stroke="#000" stroke-opacity="1.0" stroke-width="1" fill="none"/>
<path d="M718.5 255.5h1.5M721.4 255.5h0.9M727.9 255.5h0.7M734.3 255.5h1.2M736.2 255.5h1.2" stroke="#000" stroke-opacity="0.8" stroke-width="1" fill="none"/>
<path d="M725.0 254.5h0.7M726.1 254.5h1.6M733.1 254.5h0.7" stroke="#000" stroke-opacity="0.4" stroke-width="1" fill="none"/>
<path d="M729.2 254.5h0.9M737.6 254.5h1.5" stroke="#000" stroke-opacity="0.2" stroke-width="1" fill="none"/>
<path d="M750.0 254.5h1.4M758.9 254.5h1.7M763.3 254.5h1.1M765.2 254.5h0.6M779.9 254.5h0.7" stroke="#000" stroke-opacity="0.4" stroke-width="1" fill="none"/>
<path d="M750.0 255.5h1.4M754.3 255.5h1.2M756.7 255.5h1.1M758.9 255.5h1.7M771.2 255.5h0.9M774.0 255.5h0.6M779.9 255.5h0.7" stroke="#000" stroke-opacity="0.2" stroke-width="1" fill="none"/>
<path d="M752.5 254.5h1.2M754.3 254.5h1.2M756.7 254.5h1.1M772.4 254.5h0.7M774.0 254.5h0.6M778.1 254.5h1.2" stroke="#000" stroke-opacity="0.6" stroke-width="1" fill="none"/>
<path d="M752.5 255.5h1.2M772.4 255.5h0.7M778.1 255.5h1.2" stroke="#000" stroke-opacity="0.6" stroke-width="1" fill="none"/>
<path d="M761.0 254.5h1.3M766.3 254.5h1.1M767.7 254.5h1.1M769.7 254.5h0.9M775.6 254.5h1.7" stroke="#000" stroke-opacity="0.2" stroke-width="1" fill="none"/>
<path d="M761.0 255.5h1.3M763.3 255.5h1.1M765.2 255.5h0.6M766.3 255.5h1.1M767.7 255.5h1.1" stroke="#000" stroke-opacity="0.4" stroke-width="1" fill="none"/>
<path d="M769.7 255.5h0.9M775.6 255.5h1.7M780.9 255.5h1.6" stroke="#000" stroke-opacity="0.8" stroke-width="1" fill="none"/>
<path d="M771.2 254.5h0.9M780.9 254.5h1.6" stroke="#000" stroke-opacity="0.8" stroke-width="1" fill="none"/>
<path d="M746.8 333.5h1.3M751.1 333.5h1.0M754.8 333.5h1.8M771.7 333.5h0.8" stroke="#000" stroke-opacity="0.6" stroke-width="1.0" fill="none"/>
<path d="M749.1 333.5h1.2M752.8 333.5h1.0M759.1 333.5h0.9M761.2 333.5h1.5M765.1 333.5h1.8M768.3 333.5h1.9M777.8 333.5h0.6" stroke="#000" stroke-opacity="0.8" stroke-width="1.0" fill="none"/>
<path d="M757.2 333.5h1.0M763.2 333.5h1.3M773.0 333.5h0.7M775.0 333.5h1.9M779.7 333.5h1.3M781.7 333.5h1.1M783.1 333.5h1.8M785.5 333.5h0.3" stroke="#000" stroke-opacity="0.4" stroke-width="1.0" fill="none"/>
<path d="M758.5 364.5h1.2M767.6 364.5h1.1M769.2 364.5h1.0M776.3 364.5h1.3M778.9 364.5h1.1" stroke="#000" stroke-opacity="0.4" stroke-width="1.0" fill="none"/>
<path d="M760.2 364.5h1.1M764.3 364.5h1.6M773.8 364.5h1.8M783.6 364.5h1.5M786.7 364.5h0.9M788.2 364.5h0.7" stroke="#000" stroke-opacity="0.6" stroke-width="1.0" fill="none"/>
<path d="M762.5 364.5h0.7M771.3 364.5h1.0M781.3 364.5h1.5" stroke="#000" stroke-opacity="0.2" stroke-width="1.0" fill="none"/>
<path d="M772 285.6h2.5" stroke="#555" stroke-width="0.7"/>
<path d="M655 257h1v1h-1z" fill="#999" shape-rendering="crispEdges"/>
<path d="M124.1 460.5h1.5M134.3 460.5h0.9M136.2 460.5h1.3M138.3 460.5h0.8M160.4 460.5h0.8M162.5 460.5h1.7M165.4 460.5h0.6M167.2 460.5h1.7M175.9 460.5h1.6M191.3 460.5h1.0M203.6 460.5h1.8M213.2 460.5h1.6M218.0 460.5h1.0M223.1 460.5h0.7M226.0 460.5h1.3M228.1 460.5h1.7M230.7 460.5h1.1M232.3 460.5h0.8M234.2 460.5h0.9M252.4 460.5h1.8M259.7 460.5h1.0M265.0 460.5h1.8M269.6 460.5h0.8M270.9 460.5h1.0M281.2 460.5h1.5" stroke="#000" stroke-opacity="0.6" stroke-width="1" fill="none"/>
<path d="M124.1 461.5h1.5M126.5 461.5h0.9M128.4 461.5h0.7M138.3 461.5h0.8M152.0 461.5h1.7M157.4 461.5h1.2M159.0 461.5h0.9M160.4 461.5h0.8M165.4 461.5h0.6M167.2 461.5h1.7M175.9 461.5h1.6M182.6 461.5h1.8M196.9 461.5h1.7M203.6 461.5h1.8M210.6 461.5h1.2M213.2 461.5h1.6M226.0 461.5h1.3M230.7 461.5h1.1M234.2 461.5h0.9M259.7 461.5h1.0M263.4 461.5h0.7M265.0 461.5h1.8M269.6 461.5h0.8M270.9 461.5h1.0M273.2 461.5h1.2M276.9 461.5h0.9M281.2 461.5h1.5" stroke="#000" stroke-opacity="0.6" stroke-width="1" fill="none"/>
<path d="M126.5 460.5h0.9M128.4 460.5h0.7M145.4 460.5h1.1M152.0 460.5h1.7M157.4 460.5h1.2M159.0 460.5h0.9M172.6 460.5h0.7M178.1 460.5h1.7M180.4 460.5h0.9M182.6 460.5h1.8M186.3 460.5h1.6M196.9 460.5h1.7M210.6 460.5h1.2M235.9 460.5h1.1M254.8 460.5h1.0M263.4 460.5h0.7M273.2 460.5h1.2M274.9 460.5h1.0M276.9 460.5h0.9M279.2 460.5h1.0M285.5 460.5h1.1" stroke="#000" stroke-opacity="0.2" stroke-width="1" fill="none"/>
<path d="M129.6 460.5h1.1M140.2 460.5h1.7M155.1 460.5h0.9M169.8 460.5h1.6M193.3 460.5h0.7M208.3 460.5h1.5M245.5 460.5h1.2M247.5 460.5h1.8M287.6 460.5h0.9" stroke="#000" stroke-opacity="0.4" stroke-width="1" fill="none"/>
<path d="M129.6 461.5h1.1M145.4 461.5h1.1M173.7 461.5h1.0M202.2 461.5h0.8M220.0 461.5h1.7M235.9 461.5h1.1M245.5 461.5h1.2M247.5 461.5h1.8M256.9 461.5h1.6M274.9 461.5h1.0M285.5 461.5h1.1" stroke="#000" stroke-opacity="0.4" stroke-width="1" fill="none"/>
<path d="M131.4 460.5h1.8M143.0 460.5h1.5M147.6 460.5h1.5M150.4 460.5h0.7M173.7 460.5h1.0M185.0 460.5h0.7M189.1 460.5h0.9M194.6 460.5h1.4M199.7 460.5h1.5M202.2 460.5h0.8M206.2 460.5h1.1M216.0 460.5h0.6M220.0 460.5h1.7M224.2 460.5h0.6M238.3 460.5h0.7M240.0 460.5h0.9M241.4 460.5h1.0M243.4 460.5h0.7M250.0 460.5h1.7M256.9 460.5h1.6M262.0 460.5h0.9M267.1 460.5h1.3M283.3 460.5h1.5" stroke="#000" stroke-opacity="0.8" stroke-width="1" fill="none"/>
<path d="M131.4 461.5h1.8M143.0 461.5h1.5M147.6 461.5h1.5M150.4 461.5h0.7M172.6 461.5h0.7M178.1 461.5h1.7M180.4 461.5h0.9M185.0 461.5h0.7M186.3 461.5h1.6M189.1 461.5h0.9M193.3 461.5h0.7M194.6 461.5h1.4M199.7 461.5h1.5M208.3 461.5h1.5M238.3 461.5h0.7M240.0 461.5h0.9M243.4 461.5h0.7M250.0 461.5h1.7M254.8 461.5h1.0M262.0 461.5h0.9M279.2 461.5h1.0M283.3 461.5h1.5" stroke="#000" stroke-opacity="0.8" stroke-width="1" fill="none"/>
<path d="M134.3 461.5h0.9M136.2 461.5h1.3M162.5 461.5h1.7M169.8 461.5h1.6M191.3 461.5h1.0M206.2 461.5h1.1M216.0 461.5h0.6M218.0 461.5h1.0M223.1 461.5h0.7M224.2 461.5h0.6M228.1 461.5h1.7M232.3 461.5h0.8M241.4 461.5h1.0M252.4 461.5h1.8M267.1 461.5h1.3M287.6 461.5h0.9" stroke="#000" stroke-opacity="0.2" stroke-width="1" fill="none"/>
<path d="M140.2 461.5h1.7M155.1 461.5h0.9" stroke="#000" stroke-opacity="1.0" stroke-width="1" fill="none"/>
<path d="M145.6 464.3V559.5" stroke="#111" stroke-width="0.85"/>
<rect x="147.00" y="465.20" width="5.10" height="5.40" fill="#ff00ff" shape-rendering="crispEdges"/>
<rect x="148.10" y="470.60" width="3.80" height="7.70" fill="#00ffff" shape-rendering="crispEdges"/>
<rect x="148.10" y="478.30" width="3.50" height="5.40" fill="#ff0000" shape-rendering="crispEdges"/>
<rect x="148.90" y="483.70" width="2.10" height="3.80" fill="#00ff00" shape-rendering="crispEdges"/>
<rect x="149.20" y="487.50" width="1.40" height="3.60" fill="#00ff00" shape-rendering="crispEdges"/>
<rect x="149.20" y="491.10" width="1.10" height="4.60" fill="#0000ff" shape-rendering="crispEdges"/>
<rect x="149.20" y="495.70" width="0.80" height="2.90" fill="#000" shape-rendering="crispEdges"/>
<rect x="148.10" y="483.20" width="0.80" height="2.80" fill="#000" shape-rendering="crispEdges"/>
<rect x="148.00" y="469.80" width="0.60" height="1.40" fill="#000" shape-rendering="crispEdges"/>
<rect x="151.30" y="478.00" width="0.60" height="1.40" fill="#000" shape-rendering="crispEdges"/>
<path d="M153.9 467.5h0.6M155.4 467.5h1.0M156.9 467.5h0.5" stroke="#000" stroke-opacity="0.6" stroke-width="1.0" fill="none"/>
<path d="M158.2 467.5h0.5" stroke="#000" stroke-opacity="0.4" stroke-width="1.0" fill="none"/>
<path d="M159.2 467.5h1.0" stroke="#000" stroke-opacity="0.2" stroke-width="1.0" fill="none"/>
<path d="M153.9 474.5h0.6M158.2 474.5h0.5M159.5 474.5h0.7" stroke="#000" stroke-opacity="0.8" stroke-width="1.0" fill="none"/>
<path d="M155.0 474.5h0.9" stroke="#000" stroke-opacity="1.0" stroke-width="1.0" fill="none"/>
<path d="M156.5 474.5h0.8" stroke="#000" stroke-opacity="0.4" stroke-width="1.0" fill="none"/>
<path d="M153.9 480.5h1.1M155.8 480.5h0.9" stroke="#000" stroke-opacity="0.4" stroke-width="1.0" fill="none"/>
<path d="M157.3 480.5h0.8M158.5 480.5h0.7" stroke="#000" stroke-opacity="0.6" stroke-width="1.0" fill="none"/>
<path d="M160.0 480.5h0.7" stroke="#000" stroke-opacity="0.8" stroke-width="1.0" fill="none"/>
<path d="M153.9 487.5h0.7M155.5 487.5h0.8M156.9 487.5h1.0M158.8 487.5h0.7M160.2 487.5h0.5" stroke="#000" stroke-opacity="0.4" stroke-width="1.0" fill="none"/>
<path d="M153.9 494.5h0.9M155.3 494.5h0.9M156.7 494.5h0.7M158.3 494.5h0.5" stroke="#000" stroke-opacity="0.2" stroke-width="1.0" fill="none"/>
<path d="M159.5 494.5h0.8" stroke="#000" stroke-opacity="0.4" stroke-width="1.0" fill="none"/>
<path d="M153.9 499.5h0.7M155.1 499.5h0.9M156.3 499.5h0.6M157.7 499.5h0.6M158.7 499.5h0.8M160.4 499.5h0.3" stroke="#000" stroke-opacity="0.2" stroke-width="1.0" fill="none"/>
<g opacity="0.85">
<path d="M167 510h1v1h-1zM167 517h1v1h-1zM171 490h1v1h-1zM171 493h1v1h-1zM172 510h1v1h-1zM175 525h1v1h-1zM176 504h1v1h-1zM176 512h1v1h-1zM176 517h1v1h-1zM177 539h1v1h-1zM178 522h1v1h-1zM178 523h1v1h-1zM182 482h1v1h-1zM182 522h1v1h-1zM182 539h1v1h-1zM183 499h1v1h-1zM184 487h1v1h-1zM185 512h1v1h-1zM185 517h1v1h-1zM185 535h1v1h-1zM186 536h1v1h-1zM187 521h1v1h-1zM188 510h1v1h-1zM189 519h1v1h-1zM190 525h1v1h-1zM191 502h1v1h-1zM191 528h1v1h-1zM192 492h1v1h-1zM193 512h1v1h-1zM193 516h1v1h-1zM194 507h1v1h-1zM195 473h1v1h-1zM195 504h1v1h-1zM195 548h1v1h-1zM196 470h1v1h-1zM196 489h1v1h-1zM196 516h1v1h-1zM196 531h1v1h-1zM196 544h1v1h-1zM197 523h1v1h-1zM198 497h1v1h-1zM198 552h1v1h-1zM200 485h1v1h-1zM200 535h1v1h-1zM202 507h1v1h-1zM202 531h1v1h-1zM204 503h1v1h-1zM205 496h1v1h-1zM205 523h1v1h-1zM206 499h1v1h-1zM206 502h1v1h-1zM206 520h1v1h-1zM206 545h1v1h-1zM206 553h1v1h-1zM207 518h1v1h-1zM208 493h1v1h-1zM209 476h1v1h-1zM209 537h1v1h-1zM210 468h1v1h-1zM210 472h1v1h-1zM210 477h1v1h-1zM210 481h1v1h-1zM210 489h1v1h-1zM210 502h1v1h-1zM210 533h1v1h-1zM210 542h1v1h-1zM210 547h1v1h-1zM210 554h1v1h-1zM211 527h1v1h-1zM212 518h1v1h-1zM214 476h1v1h-1zM214 502h1v1h-1zM214 519h1v1h-1zM216 467h1v1h-1zM216 497h1v1h-1zM216 522h1v1h-1zM216 554h1v1h-1zM217 493h1v1h-1zM217 494h1v1h-1zM217 503h1v1h-1zM217 516h1v1h-1zM217 527h1v1h-1zM218 502h1v1h-1zM219 514h1v1h-1zM219 518h1v1h-1zM219 552h1v1h-1zM220 534h1v1h-1zM221 500h1v1h-1zM221 506h1v1h-1zM221 510h1v1h-1zM221 537h1v1h-1zM223 479h1v1h-1zM223 515h1v1h-1zM223 542h1v1h-1zM225 475h1v1h-1zM226 503h1v1h-1zM226 517h1v1h-1zM226 519h1v1h-1zM226 552h1v1h-1zM227 540h1v1h-1zM228 503h1v1h-1zM229 470h1v1h-1zM231 489h1v1h-1zM231 510h1v1h-1zM232 482h1v1h-1zM232 496h1v1h-1zM232 548h1v1h-1zM233 501h1v1h-1zM234 520h1v1h-1zM235 500h1v1h-1zM235 535h1v1h-1zM236 475h1v1h-1zM236 485h1v1h-1zM236 500h1v1h-1zM236 508h1v1h-1zM236 511h1v1h-1zM236 516h1v1h-1zM236 546h1v1h-1zM237 533h1v1h-1zM238 482h1v1h-1zM238 537h1v1h-1zM240 528h1v1h-1zM243 521h1v1h-1zM244 483h1v1h-1zM244 496h1v1h-1zM244 499h1v1h-1zM244 516h1v1h-1zM244 524h1v1h-1zM245 509h1v1h-1zM245 510h1v1h-1zM245 535h1v1h-1zM248 495h1v1h-1zM248 526h1v1h-1zM248 530h1v1h-1zM252 521h1v1h-1zM252 524h1v1h-1zM254 518h1v1h-1z" fill="#111" shape-rendering="crispEdges"/>
</g>
<text x="209.9" y="467.9" font-family="Liberation Sans" font-size="3.6" font-weight="normal" fill="#000" fill-opacity="0.85" text-anchor="middle">N</text>
<text x="242.3" y="480.7" font-family="Liberation Sans" font-size="3.6" font-weight="bold" fill="#000" text-anchor="middle">NE</text>
<text x="242.3" y="544.9" font-family="Liberation Sans" font-size="3.6" font-weight="normal" fill="#000" fill-opacity="0.75" text-anchor="middle">SE</text>
<text x="209.9" y="559.2" font-family="Liberation Sans" font-size="3.6" font-weight="normal" fill="#000" fill-opacity="0.7" text-anchor="middle">S</text>
<text x="176.0" y="546.0" font-family="Liberation Sans" font-size="3.6" font-weight="normal" fill="#000" fill-opacity="0.65" text-anchor="middle">SW</text>
<text x="164.6" y="513.3" font-family="Liberation Sans" font-size="3.6" font-weight="normal" fill="#000" fill-opacity="0.8" text-anchor="middle">W</text>
<text x="176.0" y="481.0" font-family="Liberation Sans" font-size="3.6" font-weight="normal" fill="#000" fill-opacity="0.65" text-anchor="middle">NW</text>
<path d="M210.4 511.90000000000003L178.9 542.4" stroke="#000" stroke-width="0.9"/>
<path d="M212.9 506.20000000000005L228.6 472.6" stroke="#000" stroke-width="1.0" stroke-dasharray="1.0 2.8"/>
<path d="M216.9 504.3L231.5 489.2" stroke="#000" stroke-width="1.0" stroke-dasharray="2.0 2.5"/>
<path d="M227.0 470.5h1.4M228.7 470.5h1.5M235.0 470.5h1.6M239.6 470.5h0.7M246.5 470.5h1.1" stroke="#000" stroke-opacity="0.8" stroke-width="1.0" fill="none"/>
<path d="M231.0 470.5h1.3M237.5 470.5h1.4" stroke="#000" stroke-opacity="1.0" stroke-width="1.0" fill="none"/>
<path d="M233.1 470.5h1.5M248.5 470.5h0.7" stroke="#000" stroke-opacity="0.6" stroke-width="1.0" fill="none"/>
<path d="M240.9 470.5h1.4M242.9 470.5h0.8M244.4 470.5h1.5" stroke="#000" stroke-opacity="0.4" stroke-width="1.0" fill="none"/>
<polygon points="214.32,509.60 227.54,506.42 225.55,501.63 213.96,508.73" fill="#ff0000" shape-rendering="crispEdges"/>
<polygon points="227.54,506.42 244.36,502.39 240.30,492.59 225.55,501.63" fill="#00ffff" shape-rendering="crispEdges"/>
<polygon points="244.36,502.39 247.96,501.52 243.46,490.65 240.30,492.59" fill="#ff00ff" shape-rendering="crispEdges"/>
<rect x="208.60" y="501.70" width="3.00" height="4.30" fill="#00ffff" shape-rendering="crispEdges"/>
<rect x="208.00" y="500.00" width="4.00" height="1.70" fill="#ff00ff" shape-rendering="crispEdges"/>
<path d="M212.9 507.6L218.3 502.9" stroke="#00ffff" stroke-width="2.2"/>
<path d="M209.9 508.6L206.3 506.3" stroke="#00ffff" stroke-width="1.4"/>
<path d="M216.9 509.1l3 2" stroke="#00ffff" stroke-width="1.2"/>
<rect x="208.60" y="506.60" width="4.90" height="4.40" fill="#ff0000" shape-rendering="crispEdges"/>
<rect x="213.50" y="507.30" width="2.50" height="2.90" fill="#ff0000" shape-rendering="crispEdges"/>
<path d="M210 507h1v1h-1zM214 508h1v1h-1zM211 509h1v1h-1z" fill="#fff" shape-rendering="crispEdges"/>
<path d="M211 511h1v1h-1z" fill="#00dd00" shape-rendering="crispEdges"/>
<path d="M212 512h1v1h-1z" fill="#00ffff" shape-rendering="crispEdges"/>
<path d="M242.9 558.5h0.6M245.1 558.5h0.8M246.5 558.5h1.2M249.1 558.5h1.0M253.6 558.5h0.8M257.2 558.5h1.7M263.9 558.5h1.0M265.6 558.5h1.8M267.8 558.5h1.5M270.6 558.5h1.5" stroke="#000" stroke-opacity="0.2" stroke-width="1.0" fill="none"/>
<path d="M251.5 558.5h0.7M255.4 558.5h0.7M260.0 558.5h0.7M261.8 558.5h1.0" stroke="#000" stroke-opacity="0.4" stroke-width="1.0" fill="none"/>
<path d="M172.8 583.2h0.8M176.2 583.2h1.9" stroke="#000" stroke-opacity="0.8" stroke-width="1.3" fill="none"/>
<path d="M173.9 583.2h2.1M178.6 583.2h0.9" stroke="#000" stroke-opacity="1.0" stroke-width="1.3" fill="none"/>
<path d="M180.1 583.2h1.2" stroke="#000" stroke-opacity="0.6" stroke-width="1.3" fill="none"/>
<path d="M182.8 583.5h1.4" stroke="#000" stroke-opacity="0.4" stroke-width="1.0" fill="none"/>
<path d="M184.9 583.5h1.5M187.5 583.5h1.4M189.8 583.5h1.3M192.4 583.5h1.3M203.1 583.5h1.5" stroke="#000" stroke-opacity="1.0" stroke-width="1.0" fill="none"/>
<path d="M194.6 583.5h1.2M196.7 583.5h1.3M198.7 583.5h1.4" stroke="#000" stroke-opacity="0.8" stroke-width="1.0" fill="none"/>
<path d="M200.9 583.5h1.4" stroke="#000" stroke-opacity="0.6" stroke-width="1.0" fill="none"/>
<path d="M209.8 583.2h1.8M215.9 583.2h1.0M229.2 583.2h1.6" stroke="#000" stroke-opacity="0.6" stroke-width="1.3" fill="none"/>
<path d="M211.9 583.2h2.1M214.4 583.2h1.3M221.1 583.2h1.0M225.9 583.2h0.9M227.2 583.2h1.5M231.4 583.2h1.3M232.9 583.2h0.9" stroke="#000" stroke-opacity="1.0" stroke-width="1.3" fill="none"/>
<path d="M217.3 583.2h1.6M219.6 583.2h1.2M222.5 583.2h1.8M224.7 583.2h0.9" stroke="#000" stroke-opacity="0.8" stroke-width="1.3" fill="none"/>
<path d="M236.3 583.2h0.9M237.6 583.2h1.6" stroke="#000" stroke-opacity="0.8" stroke-width="1.3" fill="none"/>
<path d="M239.7 583.2h0.9M243.0 583.2h1.8" stroke="#000" stroke-opacity="1.0" stroke-width="1.3" fill="none"/>
<path d="M241.2 583.2h1.0M245.3 583.2h1.8" stroke="#000" stroke-opacity="0.6" stroke-width="1.3" fill="none"/>
<path d="M369.7 460.5h0.7M377.4 460.5h1.0M383.8 460.5h0.9M388.2 460.5h0.8M404.7 460.5h1.3M411.0 460.5h1.7M421.4 460.5h0.7M432.5 460.5h1.2M436.9 460.5h1.2M454.2 460.5h0.9M464.8 460.5h0.9M468.6 460.5h1.7M477.7 460.5h0.7M483.0 460.5h1.2M489.1 460.5h0.7M490.9 460.5h1.4M496.0 460.5h1.7M522.6 460.5h1.7M533.3 460.5h0.8" stroke="#000" stroke-opacity="0.2" stroke-width="1" fill="none"/>
<path d="M369.7 461.5h0.7M377.4 461.5h1.0M397.1 461.5h1.5M402.0 461.5h1.4M406.4 461.5h1.6M411.0 461.5h1.7M414.1 461.5h1.7M424.1 461.5h1.5M426.5 461.5h1.5M430.4 461.5h1.3M434.9 461.5h1.2M441.5 461.5h1.6M452.9 461.5h0.6M462.1 461.5h1.4M468.6 461.5h1.7M472.8 461.5h1.7M477.7 461.5h0.7M487.3 461.5h1.1M490.9 461.5h1.4M496.0 461.5h1.7M501.6 461.5h1.7M508.7 461.5h1.0M510.9 461.5h1.3M514.6 461.5h0.6M520.4 461.5h1.8M522.6 461.5h1.7M527.8 461.5h0.6" stroke="#000" stroke-opacity="0.6" stroke-width="1" fill="none"/>
<path d="M371.3 460.5h1.2M373.2 460.5h0.9M375.1 460.5h1.0M379.4 460.5h1.3M392.8 460.5h1.2M399.5 460.5h1.7M408.8 460.5h1.6M428.7 460.5h0.7M439.1 460.5h1.7M443.7 460.5h1.0M447.3 460.5h1.3M451.8 460.5h0.7M456.0 460.5h1.1M470.8 460.5h0.7M479.3 460.5h1.7M481.8 460.5h0.7M485.5 460.5h0.9M493.5 460.5h1.4M503.8 460.5h0.9" stroke="#000" stroke-opacity="0.8" stroke-width="1" fill="none"/>
<path d="M371.3 461.5h1.2M375.1 461.5h1.0M383.8 461.5h0.9M388.2 461.5h0.8M392.8 461.5h1.2M399.5 461.5h1.7M408.8 461.5h1.6M432.5 461.5h1.2M436.9 461.5h1.2M439.1 461.5h1.7M445.1 461.5h1.5M451.8 461.5h0.7M454.2 461.5h0.9M464.8 461.5h0.9M470.8 461.5h0.7M483.0 461.5h1.2M505.9 461.5h1.6M512.7 461.5h1.0M529.2 461.5h1.2M533.3 461.5h0.8" stroke="#000" stroke-opacity="0.8" stroke-width="1" fill="none"/>
<path d="M373.2 461.5h0.9M379.4 461.5h1.3M382.0 461.5h1.0M386.1 461.5h1.6M394.9 461.5h1.5M416.8 461.5h1.3M419.2 461.5h1.0M422.6 461.5h1.0M443.7 461.5h1.0M447.3 461.5h1.3M458.0 461.5h0.9M475.0 461.5h1.4M479.3 461.5h1.7M485.5 461.5h0.9M499.1 461.5h1.3M503.8 461.5h0.9M525.1 461.5h1.5" stroke="#000" stroke-opacity="0.2" stroke-width="1" fill="none"/>
<path d="M382.0 460.5h1.0M386.1 460.5h1.6M394.9 460.5h1.5M397.1 460.5h1.5M402.0 460.5h1.4M406.4 460.5h1.6M414.1 460.5h1.7M419.2 460.5h1.0M422.6 460.5h1.0M424.1 460.5h1.5M426.5 460.5h1.5M430.4 460.5h1.3M434.9 460.5h1.2M441.5 460.5h1.6M452.9 460.5h0.6M458.0 460.5h0.9M462.1 460.5h1.4M472.8 460.5h1.7M475.0 460.5h1.4M487.3 460.5h1.1M501.6 460.5h1.7M508.7 460.5h1.0M510.9 460.5h1.3M514.6 460.5h0.6M520.4 460.5h1.8M525.1 460.5h1.5M527.8 460.5h0.6" stroke="#000" stroke-opacity="0.6" stroke-width="1" fill="none"/>
<path d="M389.8 460.5h1.7M416.8 460.5h1.3M445.1 460.5h1.5M449.4 460.5h1.3M460.0 460.5h1.0M466.1 460.5h1.4M499.1 460.5h1.3M505.9 460.5h1.6M512.7 460.5h1.0M515.8 460.5h1.7M518.6 460.5h1.3M529.2 460.5h1.2M531.4 460.5h0.8" stroke="#000" stroke-opacity="0.4" stroke-width="1" fill="none"/>
<path d="M389.8 461.5h1.7M466.1 461.5h1.4" stroke="#000" stroke-opacity="1.0" stroke-width="1" fill="none"/>
<path d="M404.7 461.5h1.3M421.4 461.5h0.7M428.7 461.5h0.7M449.4 461.5h1.3M456.0 461.5h1.1M460.0 461.5h1.0M481.8 461.5h0.7M489.1 461.5h0.7M493.5 461.5h1.4M515.8 461.5h1.7M518.6 461.5h1.3M531.4 461.5h0.8" stroke="#000" stroke-opacity="0.4" stroke-width="1" fill="none"/>
<path d="M391.6 464.3V559.5" stroke="#111" stroke-width="0.85"/>
<rect x="393.00" y="465.20" width="5.10" height="5.40" fill="#ff00ff" shape-rendering="crispEdges"/>
<rect x="394.10" y="470.60" width="3.80" height="7.70" fill="#00ffff" shape-rendering="crispEdges"/>
<rect x="394.10" y="478.30" width="3.50" height="5.40" fill="#ff0000" shape-rendering="crispEdges"/>
<rect x="394.90" y="483.70" width="2.10" height="3.80" fill="#00ff00" shape-rendering="crispEdges"/>
<rect x="395.20" y="487.50" width="1.40" height="3.60" fill="#00ff00" shape-rendering="crispEdges"/>
<rect x="395.20" y="491.10" width="1.10" height="4.60" fill="#0000ff" shape-rendering="crispEdges"/>
<rect x="395.20" y="495.70" width="0.80" height="5.80" fill="#000" shape-rendering="crispEdges"/>
<rect x="394.10" y="483.20" width="0.80" height="2.80" fill="#000" shape-rendering="crispEdges"/>
<rect x="394.00" y="469.80" width="0.60" height="1.40" fill="#000" shape-rendering="crispEdges"/>
<rect x="397.30" y="478.00" width="0.60" height="1.40" fill="#000" shape-rendering="crispEdges"/>
<path d="M399.9 467.5h0.6M401.1 467.5h1.1" stroke="#000" stroke-opacity="0.6" stroke-width="1.0" fill="none"/>
<path d="M402.8 467.5h0.7M405.5 467.5h0.8" stroke="#000" stroke-opacity="0.4" stroke-width="1.0" fill="none"/>
<path d="M404.2 467.5h0.6" stroke="#000" stroke-opacity="0.2" stroke-width="1.0" fill="none"/>
<path d="M399.9 474.5h0.9M401.6 474.5h0.9" stroke="#000" stroke-opacity="1.0" stroke-width="1.0" fill="none"/>
<path d="M403.2 474.5h0.9M404.8 474.5h0.9" stroke="#000" stroke-opacity="0.6" stroke-width="1.0" fill="none"/>
<path d="M406.4 474.5h0.3" stroke="#000" stroke-opacity="0.8" stroke-width="1.0" fill="none"/>
<path d="M399.9 480.5h0.8M402.7 480.5h1.1M404.5 480.5h0.9" stroke="#000" stroke-opacity="0.6" stroke-width="1.0" fill="none"/>
<path d="M401.5 480.5h0.6M406.1 480.5h0.6" stroke="#000" stroke-opacity="0.8" stroke-width="1.0" fill="none"/>
<path d="M399.9 487.5h1.0M403.5 487.5h0.5M404.8 487.5h0.6M406.1 487.5h0.6" stroke="#000" stroke-opacity="0.6" stroke-width="1.0" fill="none"/>
<path d="M401.8 487.5h1.0" stroke="#000" stroke-opacity="0.2" stroke-width="1.0" fill="none"/>
<path d="M399.9 494.5h0.6M402.6 494.5h0.8M406.1 494.5h0.6" stroke="#000" stroke-opacity="0.4" stroke-width="1.0" fill="none"/>
<path d="M401.0 494.5h0.9M404.2 494.5h1.0" stroke="#000" stroke-opacity="0.2" stroke-width="1.0" fill="none"/>
<path d="M399.9 499.5h0.6M400.9 499.5h0.7M402.2 499.5h0.8M403.6 499.5h0.6M404.8 499.5h1.1M406.5 499.5h0.2" stroke="#000" stroke-opacity="0.2" stroke-width="1.0" fill="none"/>
<g opacity="0.85">
<path d="M413 511h1v1h-1zM414 519h1v1h-1zM414 523h1v1h-1zM416 494h1v1h-1zM417 511h1v1h-1zM419 490h1v1h-1zM419 526h1v1h-1zM421 537h1v1h-1zM422 514h1v1h-1zM423 497h1v1h-1zM423 520h1v1h-1zM423 525h1v1h-1zM426 528h1v1h-1zM427 499h1v1h-1zM429 476h1v1h-1zM431 501h1v1h-1zM431 536h1v1h-1zM432 487h1v1h-1zM433 498h1v1h-1zM433 533h1v1h-1zM434 520h1v1h-1zM435 490h1v1h-1zM435 502h1v1h-1zM436 494h1v1h-1zM436 511h1v1h-1zM437 472h1v1h-1zM437 528h1v1h-1zM438 481h1v1h-1zM438 518h1v1h-1zM440 472h1v1h-1zM440 527h1v1h-1zM442 477h1v1h-1zM442 544h1v1h-1zM443 481h1v1h-1zM443 499h1v1h-1zM443 523h1v1h-1zM444 539h1v1h-1zM445 485h1v1h-1zM446 536h1v1h-1zM447 531h1v1h-1zM447 553h1v1h-1zM449 485h1v1h-1zM449 518h1v1h-1zM449 527h1v1h-1zM450 476h1v1h-1zM450 527h1v1h-1zM451 504h1v1h-1zM451 523h1v1h-1zM452 554h1v1h-1zM453 468h1v1h-1zM454 486h1v1h-1zM454 502h1v1h-1zM455 528h1v1h-1zM456 471h1v1h-1zM456 492h1v1h-1zM456 496h1v1h-1zM456 500h1v1h-1zM456 520h1v1h-1zM456 528h1v1h-1zM456 537h1v1h-1zM456 547h1v1h-1zM458 519h1v1h-1zM459 485h1v1h-1zM459 519h1v1h-1zM459 529h1v1h-1zM461 523h1v1h-1zM462 497h1v1h-1zM462 506h1v1h-1zM463 468h1v1h-1zM464 495h1v1h-1zM464 503h1v1h-1zM464 512h1v1h-1zM464 519h1v1h-1zM464 526h1v1h-1zM464 553h1v1h-1zM465 489h1v1h-1zM466 486h1v1h-1zM466 500h1v1h-1zM466 535h1v1h-1zM467 487h1v1h-1zM467 522h1v1h-1zM468 469h1v1h-1zM468 482h1v1h-1zM468 516h1v1h-1zM468 523h1v1h-1zM469 543h1v1h-1zM470 520h1v1h-1zM470 525h1v1h-1zM470 546h1v1h-1zM472 507h1v1h-1zM473 494h1v1h-1zM473 513h1v1h-1zM475 482h1v1h-1zM475 511h1v1h-1zM476 550h1v1h-1zM478 496h1v1h-1zM478 538h1v1h-1zM481 521h1v1h-1zM482 500h1v1h-1zM482 509h1v1h-1zM483 487h1v1h-1zM484 539h1v1h-1zM484 545h1v1h-1zM485 482h1v1h-1zM485 523h1v1h-1zM486 494h1v1h-1zM486 498h1v1h-1zM487 511h1v1h-1zM487 541h1v1h-1zM490 497h1v1h-1zM490 515h1v1h-1zM490 525h1v1h-1zM491 485h1v1h-1zM491 513h1v1h-1zM494 489h1v1h-1zM494 527h1v1h-1zM499 502h1v1h-1zM499 506h1v1h-1zM500 510h1v1h-1z" fill="#111" shape-rendering="crispEdges"/>
</g>
<text x="455.3" y="468.7" font-family="Liberation Sans" font-size="3.6" font-weight="normal" fill="#000" fill-opacity="0.85" text-anchor="middle">N</text>
<text x="487.7" y="481.5" font-family="Liberation Sans" font-size="3.6" font-weight="bold" fill="#000" text-anchor="middle">NE</text>
<text x="487.7" y="545.7" font-family="Liberation Sans" font-size="3.6" font-weight="normal" fill="#000" fill-opacity="0.75" text-anchor="middle">SE</text>
<text x="455.3" y="560.0" font-family="Liberation Sans" font-size="3.6" font-weight="normal" fill="#000" fill-opacity="0.7" text-anchor="middle">S</text>
<text x="421.4" y="546.8" font-family="Liberation Sans" font-size="3.6" font-weight="normal" fill="#000" fill-opacity="0.65" text-anchor="middle">SW</text>
<text x="410.0" y="514.1" font-family="Liberation Sans" font-size="3.6" font-weight="normal" fill="#000" fill-opacity="0.8" text-anchor="middle">W</text>
<text x="421.4" y="481.8" font-family="Liberation Sans" font-size="3.6" font-weight="normal" fill="#000" fill-opacity="0.65" text-anchor="middle">NW</text>
<path d="M469.4 470.5h1.1M472.8 470.5h1.3M476.6 470.5h1.3M480.8 470.5h0.8M484.0 470.5h1.5M493.3 470.5h1.4" stroke="#000" stroke-opacity="0.6" stroke-width="1.0" fill="none"/>
<path d="M471.0 470.5h0.9M481.9 470.5h1.5M486.3 470.5h0.7M487.3 470.5h0.8M490.6 470.5h0.7M495.0 470.5h1.3" stroke="#000" stroke-opacity="0.4" stroke-width="1.0" fill="none"/>
<path d="M474.9 470.5h1.1M478.8 470.5h1.4M491.8 470.5h1.1" stroke="#000" stroke-opacity="0.8" stroke-width="1.0" fill="none"/>
<path d="M488.7 470.5h1.1" stroke="#000" stroke-opacity="0.2" stroke-width="1.0" fill="none"/>
<polygon points="458.24,510.90 472.76,507.14 470.64,502.27 457.99,510.33" fill="#0000ff" shape-rendering="crispEdges"/>
<polygon points="472.76,507.14 493.67,501.74 488.85,490.66 470.64,502.27" fill="#00ff00" shape-rendering="crispEdges"/>
<path d="M457.3 510.4L463.5 503.2" stroke="#00ff00" stroke-width="2.2"/>
<path d="M462.6 502.6l2 1.6" stroke="#ff0000" stroke-width="1.3"/>
<rect x="454.00" y="501.70" width="3.40" height="4.70" fill="#00ffff" shape-rendering="crispEdges"/>
<rect x="454.00" y="500.00" width="2.90" height="1.70" fill="#ff00ff" shape-rendering="crispEdges"/>
<rect x="453.20" y="505.50" width="1.80" height="3.00" fill="#00ffff" shape-rendering="crispEdges"/>
<path d="M455.8 506.5V511.4M454.2 507.5l1.6 2.3l2-2.3" stroke="#ff0000" stroke-width="1" fill="none"/>
<rect x="454.00" y="511.20" width="2.50" height="1.00" fill="#000" shape-rendering="crispEdges"/>
<path d="M459 511h1v1h-1z" fill="#00dd00" shape-rendering="crispEdges"/>
<path d="M488.9 558.5h0.7M492.0 558.5h1.3M493.8 558.5h0.6M496.9 558.5h0.8M501.7 558.5h0.8M505.7 558.5h0.6M507.2 558.5h1.1M509.7 558.5h0.7M511.6 558.5h1.7M517.8 558.5h1.0" stroke="#000" stroke-opacity="0.2" stroke-width="1.0" fill="none"/>
<path d="M490.5 558.5h0.8M495.0 558.5h0.5M498.9 558.5h1.7M503.9 558.5h0.9M513.8 558.5h0.8M516.3 558.5h0.7" stroke="#000" stroke-opacity="0.4" stroke-width="1.0" fill="none"/>
<path d="M418.8 583.2h1.9M421.0 583.2h1.3M422.6 583.2h1.5M426.9 583.2h0.4" stroke="#000" stroke-opacity="1.0" stroke-width="1.3" fill="none"/>
<path d="M424.5 583.2h2.1" stroke="#000" stroke-opacity="0.6" stroke-width="1.3" fill="none"/>
<path d="M428.8 583.5h1.5M431.1 583.5h1.6M441.8 583.5h1.4" stroke="#000" stroke-opacity="1.0" stroke-width="1.0" fill="none"/>
<path d="M433.4 583.5h1.0M439.6 583.5h1.1" stroke="#000" stroke-opacity="0.6" stroke-width="1.0" fill="none"/>
<path d="M435.3 583.5h1.3M437.6 583.5h1.2M444.4 583.5h1.3M446.3 583.5h1.2M448.6 583.5h1.3M450.5 583.5h0.9" stroke="#000" stroke-opacity="0.8" stroke-width="1.0" fill="none"/>
<path d="M455.8 583.2h1.3M457.5 583.2h1.8M461.1 583.2h1.4M462.9 583.2h1.2M464.6 583.2h1.7M472.0 583.2h1.7M475.7 583.2h1.5" stroke="#000" stroke-opacity="1.0" stroke-width="1.3" fill="none"/>
<path d="M459.7 583.2h1.0M466.9 583.2h0.8M470.0 583.2h1.7M474.1 583.2h0.9M477.8 583.2h1.7" stroke="#000" stroke-opacity="0.6" stroke-width="1.3" fill="none"/>
<path d="M468.0 583.2h1.6" stroke="#000" stroke-opacity="0.8" stroke-width="1.3" fill="none"/>
<path d="M482.3 583.2h1.9" stroke="#000" stroke-opacity="0.8" stroke-width="1.3" fill="none"/>
<path d="M484.4 583.2h1.8M492.2 583.2h1.1" stroke="#000" stroke-opacity="1.0" stroke-width="1.3" fill="none"/>
<path d="M486.7 583.2h1.7M488.8 583.2h1.4M490.5 583.2h1.4" stroke="#000" stroke-opacity="0.6" stroke-width="1.3" fill="none"/>
<path d="M618.9 460.5h1.1M625.5 460.5h1.4M627.8 460.5h0.7M657.8 460.5h1.3M660.2 460.5h1.3M673.8 460.5h1.1M676.1 460.5h1.6M685.4 460.5h1.4M687.3 460.5h0.8M697.4 460.5h1.5M711.7 460.5h0.9M715.8 460.5h1.1M720.0 460.5h1.7M722.5 460.5h0.9M760.6 460.5h1.7M763.0 460.5h0.7M769.4 460.5h1.8" stroke="#000" stroke-opacity="0.6" stroke-width="1" fill="none"/>
<path d="M618.9 461.5h1.1M625.5 461.5h1.4M635.1 461.5h1.3M639.4 461.5h1.0M648.6 461.5h1.1M660.2 461.5h1.3M671.1 461.5h1.7M673.8 461.5h1.1M689.1 461.5h1.1M693.3 461.5h0.8M697.4 461.5h1.5M720.0 461.5h1.7M722.5 461.5h0.9M726.5 461.5h0.7M727.7 461.5h1.5M760.6 461.5h1.7M763.0 461.5h0.7M767.5 461.5h1.0M778.6 461.5h1.7" stroke="#000" stroke-opacity="0.2" stroke-width="1" fill="none"/>
<path d="M620.8 460.5h1.5M629.3 460.5h0.7M630.9 460.5h1.2M633.0 460.5h1.7M641.7 460.5h1.0M644.1 460.5h1.2M650.2 460.5h1.3M655.5 460.5h1.3M662.7 460.5h1.7M669.3 460.5h1.1M678.5 460.5h1.6M681.5 460.5h1.6M684.2 460.5h0.7M699.4 460.5h1.5M701.4 460.5h1.4M705.4 460.5h1.3M707.9 460.5h1.3M713.2 460.5h1.7M717.7 460.5h1.4M733.3 460.5h1.6M735.9 460.5h1.2M748.5 460.5h1.4" stroke="#000" stroke-opacity="0.2" stroke-width="1" fill="none"/>
<path d="M620.8 461.5h1.5M627.8 461.5h0.7M630.9 461.5h1.2M633.0 461.5h1.7M641.7 461.5h1.0M657.8 461.5h1.3M662.7 461.5h1.7M669.3 461.5h1.1M676.1 461.5h1.6M684.2 461.5h0.7M685.4 461.5h1.4M687.3 461.5h0.8M699.4 461.5h1.5M705.4 461.5h1.3M711.7 461.5h0.9M715.8 461.5h1.1M748.5 461.5h1.4M769.4 461.5h1.8" stroke="#000" stroke-opacity="0.6" stroke-width="1" fill="none"/>
<path d="M623.7 460.5h1.0M635.1 460.5h1.3M639.4 460.5h1.0M646.5 460.5h1.5M653.7 460.5h0.7M671.1 460.5h1.7M693.3 460.5h0.8M703.9 460.5h0.6M723.8 460.5h1.5M726.5 460.5h0.7M727.7 460.5h1.5M731.9 460.5h0.9M737.8 460.5h1.3M739.7 460.5h0.7M741.1 460.5h1.0M742.7 460.5h1.5M745.4 460.5h1.8M756.0 460.5h0.9M764.3 460.5h1.8M767.5 460.5h1.0M772.3 460.5h1.8M774.8 460.5h1.7M777.1 460.5h0.9M778.6 460.5h1.7" stroke="#000" stroke-opacity="0.8" stroke-width="1" fill="none"/>
<path d="M623.7 461.5h1.0M644.1 461.5h1.2M646.5 461.5h1.5M650.2 461.5h1.3M653.7 461.5h0.7M655.5 461.5h1.3M681.5 461.5h1.6M703.9 461.5h0.6M713.2 461.5h1.7M717.7 461.5h1.4M723.8 461.5h1.5M731.9 461.5h0.9M733.3 461.5h1.6M735.9 461.5h1.2M737.8 461.5h1.3M739.7 461.5h0.7M741.1 461.5h1.0M742.7 461.5h1.5M745.4 461.5h1.8M751.2 461.5h1.4M756.0 461.5h0.9M764.3 461.5h1.8M772.3 461.5h1.8M774.8 461.5h1.7M777.1 461.5h0.9" stroke="#000" stroke-opacity="0.8" stroke-width="1" fill="none"/>
<path d="M629.3 461.5h0.7M665.3 461.5h1.2M667.5 461.5h1.1M678.5 461.5h1.6M695.1 461.5h1.1M701.4 461.5h1.4M707.9 461.5h1.3M710.5 461.5h0.8M730.1 461.5h1.1M753.1 461.5h1.6M758.2 461.5h1.5" stroke="#000" stroke-opacity="0.4" stroke-width="1" fill="none"/>
<path d="M637.0 460.5h1.5M648.6 460.5h1.1M665.3 460.5h1.2M667.5 460.5h1.1M689.1 460.5h1.1M691.6 460.5h1.3M695.1 460.5h1.1M730.1 460.5h1.1M751.2 460.5h1.4M753.1 460.5h1.6M758.2 460.5h1.5" stroke="#000" stroke-opacity="0.4" stroke-width="1" fill="none"/>
<path d="M637.0 461.5h1.5M652.0 461.5h0.7M691.6 461.5h1.3" stroke="#000" stroke-opacity="1.0" stroke-width="1" fill="none"/>
<path d="M652.0 460.5h0.7M710.5 460.5h0.8" stroke="#000" stroke-opacity="1.0" stroke-width="1" fill="none"/>
<rect x="639.00" y="465.20" width="4.90" height="5.40" fill="#ff00ff" shape-rendering="crispEdges"/>
<rect x="640.10" y="471.10" width="3.50" height="6.90" fill="#00ffff" shape-rendering="crispEdges"/>
<rect x="640.10" y="478.00" width="2.90" height="5.70" fill="#ff0000" shape-rendering="crispEdges"/>
<rect x="640.10" y="484.00" width="2.90" height="3.70" fill="#00ff00" shape-rendering="crispEdges"/>
<rect x="640.60" y="487.70" width="1.60" height="2.90" fill="#00ff00" shape-rendering="crispEdges"/>
<rect x="641.00" y="490.60" width="0.90" height="6.30" fill="#0000ff" shape-rendering="crispEdges"/>
<rect x="641.00" y="496.90" width="0.90" height="6.80" fill="#000" shape-rendering="crispEdges"/>
<rect x="639.00" y="471.50" width="1.10" height="3.00" fill="#000" shape-rendering="crispEdges"/>
<rect x="643.00" y="474.00" width="0.80" height="3.00" fill="#000" shape-rendering="crispEdges"/>
<rect x="640.10" y="487.50" width="1.10" height="3.10" fill="#000" shape-rendering="crispEdges"/>
<rect x="642.20" y="487.00" width="0.80" height="2.50" fill="#000" shape-rendering="crispEdges"/>
<path d="M645.9 467.5h1.0" stroke="#000" stroke-opacity="0.4" stroke-width="1.0" fill="none"/>
<path d="M647.4 467.5h0.5M648.4 467.5h0.8M651.4 467.5h0.9" stroke="#000" stroke-opacity="0.6" stroke-width="1.0" fill="none"/>
<path d="M649.7 467.5h0.8" stroke="#000" stroke-opacity="0.2" stroke-width="1.0" fill="none"/>
<path d="M645.9 474.5h0.8" stroke="#000" stroke-opacity="0.6" stroke-width="1.0" fill="none"/>
<path d="M647.4 474.5h0.5M650.1 474.5h1.0" stroke="#000" stroke-opacity="0.4" stroke-width="1.0" fill="none"/>
<path d="M648.9 474.5h0.7" stroke="#000" stroke-opacity="1.0" stroke-width="1.0" fill="none"/>
<path d="M652.1 474.5h0.6" stroke="#000" stroke-opacity="0.8" stroke-width="1.0" fill="none"/>
<path d="M645.9 480.5h0.6" stroke="#000" stroke-opacity="0.8" stroke-width="1.0" fill="none"/>
<path d="M647.4 480.5h0.7M650.5 480.5h0.7M651.7 480.5h0.6" stroke="#000" stroke-opacity="0.6" stroke-width="1.0" fill="none"/>
<path d="M648.6 480.5h1.0" stroke="#000" stroke-opacity="0.4" stroke-width="1.0" fill="none"/>
<path d="M645.9 487.5h0.8M650.4 487.5h0.8" stroke="#000" stroke-opacity="0.4" stroke-width="1.0" fill="none"/>
<path d="M647.3 487.5h0.8M648.7 487.5h0.7" stroke="#000" stroke-opacity="0.6" stroke-width="1.0" fill="none"/>
<path d="M652.0 487.5h0.7" stroke="#000" stroke-opacity="0.2" stroke-width="1.0" fill="none"/>
<path d="M645.9 494.5h0.7M647.2 494.5h0.6M648.6 494.5h0.6" stroke="#000" stroke-opacity="0.4" stroke-width="1.0" fill="none"/>
<path d="M650.0 494.5h1.0M651.5 494.5h1.0" stroke="#000" stroke-opacity="0.2" stroke-width="1.0" fill="none"/>
<path d="M645.9 499.5h0.8M647.7 499.5h1.1M649.7 499.5h0.6M651.3 499.5h0.7" stroke="#000" stroke-opacity="0.2" stroke-width="1.0" fill="none"/>
<g opacity="0.85">
<path d="M658 516h1v1h-1zM659 501h1v1h-1zM659 511h1v1h-1zM659 520h1v1h-1zM660 497h1v1h-1zM663 491h1v1h-1zM663 531h1v1h-1zM664 487h1v1h-1zM665 535h1v1h-1zM666 496h1v1h-1zM667 521h1v1h-1zM669 525h1v1h-1zM669 540h1v1h-1zM670 524h1v1h-1zM671 541h1v1h-1zM672 482h1v1h-1zM674 476h1v1h-1zM674 511h1v1h-1zM675 533h1v1h-1zM677 521h1v1h-1zM678 501h1v1h-1zM678 547h1v1h-1zM679 474h1v1h-1zM679 502h1v1h-1zM680 532h1v1h-1zM681 482h1v1h-1zM681 511h1v1h-1zM682 519h1v1h-1zM682 549h1v1h-1zM683 508h1v1h-1zM684 494h1v1h-1zM685 471h1v1h-1zM685 504h1v1h-1zM685 517h1v1h-1zM686 475h1v1h-1zM686 547h1v1h-1zM687 517h1v1h-1zM688 478h1v1h-1zM688 524h1v1h-1zM688 543h1v1h-1zM690 488h1v1h-1zM691 497h1v1h-1zM692 487h1v1h-1zM692 513h1v1h-1zM692 521h1v1h-1zM693 491h1v1h-1zM693 536h1v1h-1zM693 554h1v1h-1zM694 518h1v1h-1zM694 529h1v1h-1zM696 525h1v1h-1zM696 528h1v1h-1zM697 484h1v1h-1zM697 555h1v1h-1zM698 502h1v1h-1zM698 519h1v1h-1zM702 480h1v1h-1zM702 493h1v1h-1zM702 497h1v1h-1zM702 522h1v1h-1zM702 527h1v1h-1zM702 549h1v1h-1zM704 529h1v1h-1zM706 500h1v1h-1zM706 518h1v1h-1zM706 536h1v1h-1zM707 497h1v1h-1zM708 527h1v1h-1zM709 493h1v1h-1zM710 532h1v1h-1zM711 520h1v1h-1zM712 500h1v1h-1zM712 536h1v1h-1zM714 499h1v1h-1zM715 470h1v1h-1zM715 505h1v1h-1zM716 532h1v1h-1zM717 495h1v1h-1zM717 506h1v1h-1zM717 517h1v1h-1zM717 526h1v1h-1zM717 549h1v1h-1zM720 493h1v1h-1zM720 511h1v1h-1zM721 494h1v1h-1zM721 529h1v1h-1zM723 548h1v1h-1zM724 496h1v1h-1zM724 511h1v1h-1zM724 522h1v1h-1zM726 476h1v1h-1zM726 486h1v1h-1zM726 518h1v1h-1zM727 500h1v1h-1zM728 522h1v1h-1zM729 490h1v1h-1zM730 533h1v1h-1zM730 539h1v1h-1zM731 542h1v1h-1zM732 498h1v1h-1zM733 511h1v1h-1zM733 540h1v1h-1zM735 501h1v1h-1zM735 518h1v1h-1zM735 522h1v1h-1zM736 484h1v1h-1zM737 511h1v1h-1zM737 526h1v1h-1zM738 487h1v1h-1zM740 492h1v1h-1zM740 531h1v1h-1zM743 501h1v1h-1zM744 505h1v1h-1zM744 508h1v1h-1zM744 521h1v1h-1z" fill="#111" shape-rendering="crispEdges"/>
</g>
<text x="701.0" y="468.7" font-family="Liberation Sans" font-size="3.6" font-weight="bold" fill="#000" text-anchor="middle">N</text>
<text x="733.4" y="481.5" font-family="Liberation Sans" font-size="3.6" font-weight="normal" fill="#000" fill-opacity="0.5" text-anchor="middle">NE</text>
<text x="733.4" y="545.7" font-family="Liberation Sans" font-size="3.6" font-weight="normal" fill="#000" fill-opacity="0.75" text-anchor="middle">SE</text>
<text x="701.0" y="560.0" font-family="Liberation Sans" font-size="3.6" font-weight="normal" fill="#000" fill-opacity="0.7" text-anchor="middle">S</text>
<text x="667.1" y="546.8" font-family="Liberation Sans" font-size="3.6" font-weight="normal" fill="#000" fill-opacity="0.65" text-anchor="middle">SW</text>
<text x="655.7" y="514.1" font-family="Liberation Sans" font-size="3.6" font-weight="normal" fill="#000" fill-opacity="0.8" text-anchor="middle">W</text>
<text x="667.1" y="481.8" font-family="Liberation Sans" font-size="3.6" font-weight="normal" fill="#000" fill-opacity="0.65" text-anchor="middle">NW</text>
<path d="M701.55 469V555.2" stroke="#000" stroke-width="0.9"/>
<path d="M715.4 470.5h1.6M718.9 470.5h1.1M722.4 470.5h1.3M729.2 470.5h1.5M731.1 470.5h1.1M732.8 470.5h1.2M734.7 470.5h1.0M737.9 470.5h1.6M739.7 470.5h1.6M742.1 470.5h1.0M743.6 470.5h1.1M745.1 470.5h0.6" stroke="#000" stroke-opacity="0.4" stroke-width="1.0" fill="none"/>
<path d="M717.5 470.5h0.7M720.6 470.5h1.1M726.2 470.5h1.3M728.0 470.5h0.8" stroke="#000" stroke-opacity="0.6" stroke-width="1.0" fill="none"/>
<path d="M724.5 470.5h1.3M736.0 470.5h1.1" stroke="#000" stroke-opacity="0.2" stroke-width="1.0" fill="none"/>
<polygon points="702.97,511.15 712.46,508.70 711.31,505.92 702.86,510.89" fill="#00ff00" shape-rendering="crispEdges"/>
<polygon points="712.50,508.88 738.37,502.67 733.89,491.86 711.21,505.76" fill="#ff0000" shape-rendering="crispEdges"/>
<polygon points="738.37,502.67 741.28,501.97 736.45,490.29 733.89,491.86" fill="#00ffff" shape-rendering="crispEdges"/>
<path d="M703.5 509.4L707.6 505" stroke="#ff0000" stroke-width="2.3"/>
<path d="M702.8 512.4l2.5 -0.3" stroke="#ff0000" stroke-width="0.9"/>
<path d="M734.9 558.5h0.6M744.7 558.5h0.6M748.7 558.5h1.7M751.8 558.5h1.8M761.6 558.5h0.9M763.5 558.5h1.0M764.9 558.5h0.6" stroke="#000" stroke-opacity="0.4" stroke-width="1.0" fill="none"/>
<path d="M736.2 558.5h0.8M737.9 558.5h0.6M739.3 558.5h1.7M741.5 558.5h1.5M745.8 558.5h1.6M754.5 558.5h0.8M756.7 558.5h1.8M759.0 558.5h1.8" stroke="#000" stroke-opacity="0.2" stroke-width="1.0" fill="none"/>
<path d="M664.8 583.2h1.3M666.4 583.2h1.3M667.9 583.2h1.6M670.0 583.2h1.2M671.6 583.2h1.4" stroke="#000" stroke-opacity="1.0" stroke-width="1.3" fill="none"/>
<path d="M674.8 583.5h1.4M677.5 583.5h1.2M679.5 583.5h1.2M694.1 583.5h1.2" stroke="#000" stroke-opacity="0.8" stroke-width="1.0" fill="none"/>
<path d="M681.7 583.5h1.5M684.2 583.5h0.9M690.5 583.5h1.3M692.6 583.5h0.9M696.7 583.5h1.1" stroke="#000" stroke-opacity="0.6" stroke-width="1.0" fill="none"/>
<path d="M685.9 583.5h1.0" stroke="#000" stroke-opacity="1.0" stroke-width="1.0" fill="none"/>
<path d="M687.9 583.5h1.6" stroke="#000" stroke-opacity="0.4" stroke-width="1.0" fill="none"/>
<path d="M701.8 583.2h1.2" stroke="#000" stroke-opacity="0.8" stroke-width="1.3" fill="none"/>
<path d="M703.4 583.2h1.7M705.3 583.2h1.6M709.3 583.2h1.1M712.7 583.2h1.4M714.5 583.2h1.2M717.7 583.2h1.5M719.7 583.2h1.4M721.7 583.2h1.2M723.1 583.2h1.3M724.9 583.2h0.9" stroke="#000" stroke-opacity="1.0" stroke-width="1.3" fill="none"/>
<path d="M707.3 583.2h1.4M710.9 583.2h1.3M716.0 583.2h1.3" stroke="#000" stroke-opacity="0.6" stroke-width="1.3" fill="none"/>
<path d="M728.3 583.2h1.2M732.3 583.2h1.7M738.1 583.2h1.2" stroke="#000" stroke-opacity="0.8" stroke-width="1.3" fill="none"/>
<path d="M730.1 583.2h1.7M734.2 583.2h1.8M736.6 583.2h1.1" stroke="#000" stroke-opacity="1.0" stroke-width="1.3" fill="none"/>
</svg>
</body></html>
